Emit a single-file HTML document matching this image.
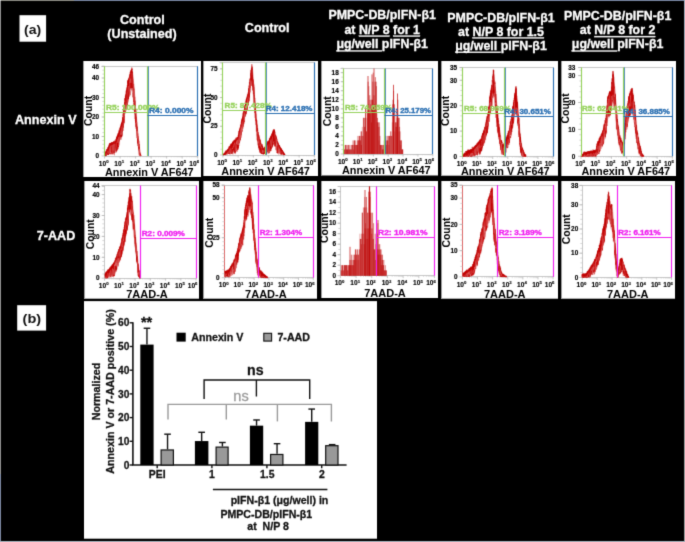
<!DOCTYPE html>
<html><head><meta charset="utf-8"><style>
html,body{margin:0;padding:0;background:#000;}
body{width:685px;height:542px;overflow:hidden;}
svg{display:block;} svg *{text-decoration-skip-ink:none !important;}
</style></head><body>
<svg xmlns="http://www.w3.org/2000/svg" width="685" height="542" viewBox="0 0 685 542">
<defs><filter id="soft" filterUnits="userSpaceOnUse" x="0" y="0" width="685" height="542" color-interpolation-filters="sRGB"><feConvolveMatrix order="3" kernelMatrix="1 6 1 6 36 6 1 6 1" divisor="64" edgeMode="duplicate"/></filter></defs>
<g filter="url(#soft)">
<rect x="0" y="0" width="685" height="542" fill="#000"/>
<rect x="0" y="0" width="685" height="1" fill="#7886a2"/>
<rect x="0" y="0" width="74" height="1" fill="#8c8c84"/>
<rect x="0" y="0" width="1" height="542" fill="#929292"/>
<rect x="0" y="474" width="1" height="68" fill="#7c88a2"/>
<rect x="684" y="0" width="1" height="542" fill="#a8b0bc"/>
<rect x="684" y="400" width="1" height="142" fill="#a4a4a4"/>
<rect x="0" y="541" width="685" height="1" fill="#b0b6c0"/>
<rect x="0" y="0" width="1" height="1" fill="#c8c8c8"/>
<text x="142.4" y="24" font-size="12.6" fill="#ffffff" stroke="#ffffff" stroke-width="0.3" text-anchor="middle" font-weight="bold" font-family="Liberation Sans, sans-serif" >Control</text>
<text x="142.0" y="38.4" font-size="12.6" fill="#ffffff" stroke="#ffffff" stroke-width="0.3" text-anchor="middle" font-weight="bold" font-family="Liberation Sans, sans-serif" >(Unstained)</text>
<text x="267.2" y="32" font-size="12.6" fill="#ffffff" stroke="#ffffff" stroke-width="0.3" text-anchor="middle" font-weight="bold" font-family="Liberation Sans, sans-serif" >Control</text>
<text x="382.2" y="19.4" font-size="12.4" fill="#ffffff" stroke="#ffffff" stroke-width="0.3" text-anchor="middle" font-weight="bold" font-family="Liberation Sans, sans-serif" >PMPC-DB/pIFN-β1</text>
<text x="382.2" y="33.9" font-size="12.4" fill="#ffffff" stroke="#ffffff" stroke-width="0.3" text-anchor="middle" font-weight="bold" font-family="Liberation Sans, sans-serif" >at N/P 8 for 1</text>
<rect x="358.88" y="35.55" width="30.79" height="1.1" fill="#ffffff" stroke="#ffffff" stroke-width="0.3"/>
<rect x="393.12" y="35.55" width="26.87" height="1.1" fill="#ffffff" stroke="#ffffff" stroke-width="0.3"/>
<text x="382.2" y="48.3" font-size="12.4" fill="#ffffff" stroke="#ffffff" stroke-width="0.3" text-anchor="middle" font-weight="bold" font-family="Liberation Sans, sans-serif" >μg/well pIFN-β1</text>
<rect x="336.39" y="50.35" width="45.48" height="1.1" fill="#ffffff" stroke="#ffffff" stroke-width="0.3"/>
<text x="501.0" y="21.6" font-size="12.4" fill="#ffffff" stroke="#ffffff" stroke-width="0.3" text-anchor="middle" font-weight="bold" font-family="Liberation Sans, sans-serif" >PMPC-DB/pIFN-β1</text>
<text x="501.0" y="35.7" font-size="12.4" fill="#ffffff" stroke="#ffffff" stroke-width="0.3" text-anchor="middle" font-weight="bold" font-family="Liberation Sans, sans-serif" >at N/P 8 for 1.5</text>
<rect x="472.51" y="37.35" width="71.45" height="1.1" fill="#ffffff" stroke="#ffffff" stroke-width="0.3"/>
<text x="501.0" y="49.7" font-size="12.4" fill="#ffffff" stroke="#ffffff" stroke-width="0.3" text-anchor="middle" font-weight="bold" font-family="Liberation Sans, sans-serif" >μg/well pIFN-β1</text>
<rect x="455.19" y="51.75" width="45.48" height="1.1" fill="#ffffff" stroke="#ffffff" stroke-width="0.3"/>
<text x="617.6" y="20.4" font-size="12.4" fill="#ffffff" stroke="#ffffff" stroke-width="0.3" text-anchor="middle" font-weight="bold" font-family="Liberation Sans, sans-serif" >PMPC-DB/pIFN-β1</text>
<text x="617.6" y="34.4" font-size="12.4" fill="#ffffff" stroke="#ffffff" stroke-width="0.3" text-anchor="middle" font-weight="bold" font-family="Liberation Sans, sans-serif" >at N/P 8 for 2</text>
<rect x="594.28" y="36.05" width="61.10" height="1.1" fill="#ffffff" stroke="#ffffff" stroke-width="0.3"/>
<text x="617.6" y="48.4" font-size="12.4" fill="#ffffff" stroke="#ffffff" stroke-width="0.3" text-anchor="middle" font-weight="bold" font-family="Liberation Sans, sans-serif" >μg/well pIFN-β1</text>
<rect x="571.79" y="50.45" width="45.48" height="1.1" fill="#ffffff" stroke="#ffffff" stroke-width="0.3"/>
<text x="45.8" y="123.7" font-size="12.6" fill="#ffffff" stroke="#ffffff" stroke-width="0.3" text-anchor="middle" font-weight="bold" font-family="Liberation Sans, sans-serif" >Annexin V</text>
<text x="56.0" y="240.4" font-size="12.6" fill="#ffffff" stroke="#ffffff" stroke-width="0.3" text-anchor="middle" font-weight="bold" font-family="Liberation Sans, sans-serif" >7-AAD</text>
<rect x="19.5" y="15.2" width="26.6" height="26.5" fill="#fff"/>
<text x="32.6" y="33.9" font-size="13.3" fill="#111" text-anchor="middle" font-weight="bold" font-family="Liberation Sans, sans-serif" textLength="17.2" lengthAdjust="spacingAndGlyphs">(a)</text>
<rect x="17.2" y="305.2" width="28.9" height="25.4" fill="#fff"/>
<text x="31.9" y="323.2" font-size="13.3" fill="#111" text-anchor="middle" font-weight="bold" font-family="Liberation Sans, sans-serif" textLength="18.6" lengthAdjust="spacingAndGlyphs">(b)</text>
<rect x="83" y="61" width="118" height="116" fill="#fff"/>
<rect x="83" y="61" width="1" height="116" fill="#a0a0a0"/>
<line x1="101.5" y1="66.5" x2="197.5" y2="66.5" stroke="#c8c8c8" stroke-width="1"/>
<line x1="104.5" y1="66.5" x2="104.5" y2="156.5" stroke="#c8c8c8" stroke-width="1"/>
<line x1="104.5" y1="156.5" x2="197.5" y2="156.5" stroke="#c8c8c8" stroke-width="1"/>
<line x1="197.5" y1="66.5" x2="197.5" y2="156.5" stroke="#c8c8c8" stroke-width="1"/>
<line x1="102.3" y1="152.10" x2="104.5" y2="152.10" stroke="#bdbdbd" stroke-width="0.6"/>
<line x1="102.3" y1="148.20" x2="104.5" y2="148.20" stroke="#bdbdbd" stroke-width="0.6"/>
<line x1="102.3" y1="144.30" x2="104.5" y2="144.30" stroke="#bdbdbd" stroke-width="0.6"/>
<line x1="102.3" y1="140.40" x2="104.5" y2="140.40" stroke="#bdbdbd" stroke-width="0.6"/>
<line x1="102.3" y1="136.50" x2="104.5" y2="136.50" stroke="#bdbdbd" stroke-width="0.6"/>
<line x1="102.3" y1="132.60" x2="104.5" y2="132.60" stroke="#bdbdbd" stroke-width="0.6"/>
<line x1="102.3" y1="128.70" x2="104.5" y2="128.70" stroke="#bdbdbd" stroke-width="0.6"/>
<line x1="102.3" y1="124.80" x2="104.5" y2="124.80" stroke="#bdbdbd" stroke-width="0.6"/>
<line x1="102.3" y1="120.90" x2="104.5" y2="120.90" stroke="#bdbdbd" stroke-width="0.6"/>
<line x1="102.3" y1="117.00" x2="104.5" y2="117.00" stroke="#bdbdbd" stroke-width="0.6"/>
<line x1="102.3" y1="113.10" x2="104.5" y2="113.10" stroke="#bdbdbd" stroke-width="0.6"/>
<line x1="102.3" y1="109.20" x2="104.5" y2="109.20" stroke="#bdbdbd" stroke-width="0.6"/>
<line x1="102.3" y1="105.30" x2="104.5" y2="105.30" stroke="#bdbdbd" stroke-width="0.6"/>
<line x1="102.3" y1="101.40" x2="104.5" y2="101.40" stroke="#bdbdbd" stroke-width="0.6"/>
<line x1="102.3" y1="97.50" x2="104.5" y2="97.50" stroke="#bdbdbd" stroke-width="0.6"/>
<line x1="102.3" y1="93.60" x2="104.5" y2="93.60" stroke="#bdbdbd" stroke-width="0.6"/>
<line x1="102.3" y1="89.70" x2="104.5" y2="89.70" stroke="#bdbdbd" stroke-width="0.6"/>
<line x1="102.3" y1="85.80" x2="104.5" y2="85.80" stroke="#bdbdbd" stroke-width="0.6"/>
<line x1="102.3" y1="81.90" x2="104.5" y2="81.90" stroke="#bdbdbd" stroke-width="0.6"/>
<line x1="102.3" y1="78.00" x2="104.5" y2="78.00" stroke="#bdbdbd" stroke-width="0.6"/>
<line x1="102.3" y1="74.10" x2="104.5" y2="74.10" stroke="#bdbdbd" stroke-width="0.6"/>
<line x1="102.3" y1="70.20" x2="104.5" y2="70.20" stroke="#bdbdbd" stroke-width="0.6"/>
<line x1="102.3" y1="66.30" x2="104.5" y2="66.30" stroke="#bdbdbd" stroke-width="0.6"/>
<line x1="101.6" y1="156.0" x2="104.6" y2="156.0" stroke="#b0b0b0" stroke-width="0.7"/>
<text x="99.1" y="158.20" font-size="6.4" fill="#000" text-anchor="end" font-weight="bold" font-family="Liberation Sans, sans-serif" stroke="#000" stroke-width="0.15">0</text>
<line x1="101.6" y1="136.5" x2="104.6" y2="136.5" stroke="#b0b0b0" stroke-width="0.7"/>
<text x="99.1" y="138.70" font-size="6.4" fill="#000" text-anchor="end" font-weight="bold" font-family="Liberation Sans, sans-serif" stroke="#000" stroke-width="0.15">10</text>
<line x1="101.6" y1="117.0" x2="104.6" y2="117.0" stroke="#b0b0b0" stroke-width="0.7"/>
<text x="99.1" y="119.20" font-size="6.4" fill="#000" text-anchor="end" font-weight="bold" font-family="Liberation Sans, sans-serif" stroke="#000" stroke-width="0.15">20</text>
<line x1="101.6" y1="97.5" x2="104.6" y2="97.5" stroke="#b0b0b0" stroke-width="0.7"/>
<text x="99.1" y="99.70" font-size="6.4" fill="#000" text-anchor="end" font-weight="bold" font-family="Liberation Sans, sans-serif" stroke="#000" stroke-width="0.15">30</text>
<line x1="101.6" y1="78.0" x2="104.6" y2="78.0" stroke="#b0b0b0" stroke-width="0.7"/>
<text x="99.1" y="80.20" font-size="6.4" fill="#000" text-anchor="end" font-weight="bold" font-family="Liberation Sans, sans-serif" stroke="#000" stroke-width="0.15">40</text>
<line x1="101.6" y1="66.3" x2="104.6" y2="66.3" stroke="#b0b0b0" stroke-width="0.7"/>
<text x="99.1" y="68.50" font-size="6.4" fill="#000" text-anchor="end" font-weight="bold" font-family="Liberation Sans, sans-serif" stroke="#000" stroke-width="0.15">46</text>
<line x1="104.60" y1="156.0" x2="104.60" y2="158.5" stroke="#b0b0b0" stroke-width="0.7"/>
<line x1="109.27" y1="156.0" x2="109.27" y2="157.3" stroke="#c0c0c0" stroke-width="0.5"/>
<line x1="112.00" y1="156.0" x2="112.00" y2="157.3" stroke="#c0c0c0" stroke-width="0.5"/>
<line x1="113.94" y1="156.0" x2="113.94" y2="157.3" stroke="#c0c0c0" stroke-width="0.5"/>
<line x1="115.45" y1="156.0" x2="115.45" y2="157.3" stroke="#c0c0c0" stroke-width="0.5"/>
<line x1="116.67" y1="156.0" x2="116.67" y2="157.3" stroke="#c0c0c0" stroke-width="0.5"/>
<line x1="117.71" y1="156.0" x2="117.71" y2="157.3" stroke="#c0c0c0" stroke-width="0.5"/>
<line x1="118.61" y1="156.0" x2="118.61" y2="157.3" stroke="#c0c0c0" stroke-width="0.5"/>
<line x1="119.41" y1="156.0" x2="119.41" y2="157.3" stroke="#c0c0c0" stroke-width="0.5"/>
<text x="103.70" y="165.60" font-size="6.6" font-weight="bold" fill="#000" stroke="#000" stroke-width="0.12" text-anchor="middle" font-family="Liberation Sans, sans-serif">10<tspan dy="-2.5" font-size="4.3">0</tspan></text>
<line x1="120.12" y1="156.0" x2="120.12" y2="158.5" stroke="#b0b0b0" stroke-width="0.7"/>
<line x1="124.79" y1="156.0" x2="124.79" y2="157.3" stroke="#c0c0c0" stroke-width="0.5"/>
<line x1="127.52" y1="156.0" x2="127.52" y2="157.3" stroke="#c0c0c0" stroke-width="0.5"/>
<line x1="129.46" y1="156.0" x2="129.46" y2="157.3" stroke="#c0c0c0" stroke-width="0.5"/>
<line x1="130.96" y1="156.0" x2="130.96" y2="157.3" stroke="#c0c0c0" stroke-width="0.5"/>
<line x1="132.19" y1="156.0" x2="132.19" y2="157.3" stroke="#c0c0c0" stroke-width="0.5"/>
<line x1="133.23" y1="156.0" x2="133.23" y2="157.3" stroke="#c0c0c0" stroke-width="0.5"/>
<line x1="134.13" y1="156.0" x2="134.13" y2="157.3" stroke="#c0c0c0" stroke-width="0.5"/>
<line x1="134.92" y1="156.0" x2="134.92" y2="157.3" stroke="#c0c0c0" stroke-width="0.5"/>
<text x="119.22" y="165.60" font-size="6.6" font-weight="bold" fill="#000" stroke="#000" stroke-width="0.12" text-anchor="middle" font-family="Liberation Sans, sans-serif">10<tspan dy="-2.5" font-size="4.3">1</tspan></text>
<line x1="135.63" y1="156.0" x2="135.63" y2="158.5" stroke="#b0b0b0" stroke-width="0.7"/>
<line x1="140.30" y1="156.0" x2="140.30" y2="157.3" stroke="#c0c0c0" stroke-width="0.5"/>
<line x1="143.04" y1="156.0" x2="143.04" y2="157.3" stroke="#c0c0c0" stroke-width="0.5"/>
<line x1="144.98" y1="156.0" x2="144.98" y2="157.3" stroke="#c0c0c0" stroke-width="0.5"/>
<line x1="146.48" y1="156.0" x2="146.48" y2="157.3" stroke="#c0c0c0" stroke-width="0.5"/>
<line x1="147.71" y1="156.0" x2="147.71" y2="157.3" stroke="#c0c0c0" stroke-width="0.5"/>
<line x1="148.75" y1="156.0" x2="148.75" y2="157.3" stroke="#c0c0c0" stroke-width="0.5"/>
<line x1="149.65" y1="156.0" x2="149.65" y2="157.3" stroke="#c0c0c0" stroke-width="0.5"/>
<line x1="150.44" y1="156.0" x2="150.44" y2="157.3" stroke="#c0c0c0" stroke-width="0.5"/>
<text x="134.73" y="165.60" font-size="6.6" font-weight="bold" fill="#000" stroke="#000" stroke-width="0.12" text-anchor="middle" font-family="Liberation Sans, sans-serif">10<tspan dy="-2.5" font-size="4.3">2</tspan></text>
<line x1="151.15" y1="156.0" x2="151.15" y2="158.5" stroke="#b0b0b0" stroke-width="0.7"/>
<line x1="155.82" y1="156.0" x2="155.82" y2="157.3" stroke="#c0c0c0" stroke-width="0.5"/>
<line x1="158.55" y1="156.0" x2="158.55" y2="157.3" stroke="#c0c0c0" stroke-width="0.5"/>
<line x1="160.49" y1="156.0" x2="160.49" y2="157.3" stroke="#c0c0c0" stroke-width="0.5"/>
<line x1="162.00" y1="156.0" x2="162.00" y2="157.3" stroke="#c0c0c0" stroke-width="0.5"/>
<line x1="163.22" y1="156.0" x2="163.22" y2="157.3" stroke="#c0c0c0" stroke-width="0.5"/>
<line x1="164.26" y1="156.0" x2="164.26" y2="157.3" stroke="#c0c0c0" stroke-width="0.5"/>
<line x1="165.16" y1="156.0" x2="165.16" y2="157.3" stroke="#c0c0c0" stroke-width="0.5"/>
<line x1="165.96" y1="156.0" x2="165.96" y2="157.3" stroke="#c0c0c0" stroke-width="0.5"/>
<text x="150.25" y="165.60" font-size="6.6" font-weight="bold" fill="#000" stroke="#000" stroke-width="0.12" text-anchor="middle" font-family="Liberation Sans, sans-serif">10<tspan dy="-2.5" font-size="4.3">3</tspan></text>
<line x1="166.67" y1="156.0" x2="166.67" y2="158.5" stroke="#b0b0b0" stroke-width="0.7"/>
<line x1="171.34" y1="156.0" x2="171.34" y2="157.3" stroke="#c0c0c0" stroke-width="0.5"/>
<line x1="174.07" y1="156.0" x2="174.07" y2="157.3" stroke="#c0c0c0" stroke-width="0.5"/>
<line x1="176.01" y1="156.0" x2="176.01" y2="157.3" stroke="#c0c0c0" stroke-width="0.5"/>
<line x1="177.51" y1="156.0" x2="177.51" y2="157.3" stroke="#c0c0c0" stroke-width="0.5"/>
<line x1="178.74" y1="156.0" x2="178.74" y2="157.3" stroke="#c0c0c0" stroke-width="0.5"/>
<line x1="179.78" y1="156.0" x2="179.78" y2="157.3" stroke="#c0c0c0" stroke-width="0.5"/>
<line x1="180.68" y1="156.0" x2="180.68" y2="157.3" stroke="#c0c0c0" stroke-width="0.5"/>
<line x1="181.47" y1="156.0" x2="181.47" y2="157.3" stroke="#c0c0c0" stroke-width="0.5"/>
<text x="165.77" y="165.60" font-size="6.6" font-weight="bold" fill="#000" stroke="#000" stroke-width="0.12" text-anchor="middle" font-family="Liberation Sans, sans-serif">10<tspan dy="-2.5" font-size="4.3">4</tspan></text>
<line x1="182.18" y1="156.0" x2="182.18" y2="158.5" stroke="#b0b0b0" stroke-width="0.7"/>
<line x1="186.85" y1="156.0" x2="186.85" y2="157.3" stroke="#c0c0c0" stroke-width="0.5"/>
<line x1="189.59" y1="156.0" x2="189.59" y2="157.3" stroke="#c0c0c0" stroke-width="0.5"/>
<line x1="191.53" y1="156.0" x2="191.53" y2="157.3" stroke="#c0c0c0" stroke-width="0.5"/>
<line x1="193.03" y1="156.0" x2="193.03" y2="157.3" stroke="#c0c0c0" stroke-width="0.5"/>
<line x1="194.26" y1="156.0" x2="194.26" y2="157.3" stroke="#c0c0c0" stroke-width="0.5"/>
<line x1="195.30" y1="156.0" x2="195.30" y2="157.3" stroke="#c0c0c0" stroke-width="0.5"/>
<line x1="196.20" y1="156.0" x2="196.20" y2="157.3" stroke="#c0c0c0" stroke-width="0.5"/>
<line x1="196.99" y1="156.0" x2="196.99" y2="157.3" stroke="#c0c0c0" stroke-width="0.5"/>
<text x="181.28" y="165.60" font-size="6.6" font-weight="bold" fill="#000" stroke="#000" stroke-width="0.12" text-anchor="middle" font-family="Liberation Sans, sans-serif">10<tspan dy="-2.5" font-size="4.3">5</tspan></text>
<line x1="197.70" y1="156.0" x2="197.70" y2="158.5" stroke="#b0b0b0" stroke-width="0.7"/>
<text x="194.20" y="165.60" font-size="6.6" font-weight="bold" fill="#000" stroke="#000" stroke-width="0.12" text-anchor="middle" font-family="Liberation Sans, sans-serif">10<tspan dy="-2.5" font-size="4.3">6</tspan></text>
<polygon points="105.00,153.08 105.40,152.37 105.80,151.75 106.20,150.68 106.60,150.24 107.00,149.11 107.40,148.98 107.80,147.82 108.20,147.49 108.60,146.79 109.00,145.19 109.40,144.23 109.80,143.61 110.20,143.20 110.60,143.16 111.00,143.48 111.40,142.69 111.80,142.36 112.20,142.46 112.60,142.69 113.00,142.42 113.40,141.83 113.80,141.52 114.20,142.36 114.60,141.25 115.00,141.66 115.40,141.33 115.80,139.87 116.20,139.48 116.60,137.59 117.00,136.88 117.40,135.94 117.80,135.33 118.20,133.85 118.60,133.43 119.00,131.11 119.40,131.35 119.80,130.66 120.20,128.17 120.60,126.81 121.00,124.92 121.40,123.85 121.80,122.70 122.20,120.55 122.60,117.83 123.00,114.28 123.40,111.48 123.80,109.43 124.20,105.78 124.60,103.02 125.00,98.39 125.40,96.39 125.80,94.02 126.20,91.32 126.60,89.53 127.00,87.24 127.40,85.44 127.80,81.38 128.20,81.25 128.60,79.39 129.00,77.72 129.40,76.16 129.80,74.41 130.20,72.78 130.60,71.48 131.00,70.28 131.40,69.64 131.80,68.01 132.20,69.02 132.60,72.73 133.00,76.47 133.40,80.33 133.80,85.10 134.20,88.51 134.60,94.13 135.00,99.78 135.40,107.15 135.80,110.18 136.20,114.88 136.60,119.01 137.00,124.17 137.40,128.59 137.80,132.61 138.20,137.12 138.60,139.70 139.00,143.44 139.40,147.17 139.80,150.80 140.20,152.86 140.60,154.69 141.00,156.00 141.00,156.00 140.60,156.00 140.20,156.00 139.80,156.00 139.40,155.63 139.00,155.96 138.60,154.56 138.20,150.77 137.80,145.36 137.40,140.08 137.00,135.47 136.60,136.52 136.20,130.11 135.80,123.37 135.40,121.58 135.00,114.12 134.60,114.91 134.20,104.13 133.80,99.89 133.40,104.75 133.00,100.20 132.60,92.18 132.20,87.88 131.80,92.88 131.40,85.79 131.00,88.22 130.60,87.99 130.20,90.75 129.80,92.39 129.40,97.58 129.00,93.82 128.60,101.42 128.20,103.27 127.80,97.46 127.40,105.13 127.00,107.31 126.60,111.61 126.20,109.10 125.80,107.74 125.40,113.78 125.00,113.82 124.60,115.91 124.20,124.74 123.80,123.30 123.40,124.98 123.00,131.79 122.60,132.08 122.20,136.67 121.80,135.42 121.40,138.71 121.00,135.45 120.60,139.03 120.20,137.67 119.80,140.46 119.40,144.89 119.00,145.41 118.60,142.86 118.20,149.33 117.80,149.80 117.40,149.28 117.00,150.81 116.60,151.02 116.20,153.09 115.80,152.39 115.40,150.98 115.00,151.12 114.60,155.81 114.20,155.26 113.80,153.44 113.40,154.38 113.00,154.90 112.60,153.86 112.20,152.52 111.80,152.03 111.40,151.36 111.00,152.95 110.60,154.28 110.20,155.15 109.80,152.88 109.40,153.04 109.00,155.59 108.60,153.93 108.20,154.78 107.80,153.85 107.40,154.06 107.00,154.49 106.60,154.94 106.20,156.00 105.80,155.88 105.40,156.00 105.00,156.00" fill="#bf0000" fill-opacity="0.62"/>
<polyline points="105.00,155.47 105.30,156.00 105.60,156.00 105.90,155.01 106.07,151.20 106.23,153.55 106.48,155.67 106.76,154.48 107.00,153.76 107.15,154.87 107.44,152.92 107.71,153.18 107.87,152.39 108.06,154.53 108.36,147.69 108.57,155.03 108.83,145.63 108.98,148.97 109.27,151.36 109.43,154.03 109.73,148.46 109.93,151.83 110.08,142.97 110.39,152.50 110.61,153.27 110.82,154.00 111.10,143.11 111.27,149.14 111.45,146.67 111.62,150.38 111.78,152.60 111.97,150.69 112.21,152.42 112.41,154.17 112.63,145.55 112.86,143.61 113.07,142.21 113.20,153.29 113.36,144.57 113.62,151.31 113.81,145.01 114.04,153.09 114.19,145.49 114.37,148.27 114.64,144.61 114.87,152.83 115.16,143.35 115.40,150.27 115.62,146.64 115.83,149.86 116.05,151.67 116.30,151.81 116.60,138.26 116.83,151.10 117.11,136.35 117.27,145.55 117.41,136.23 117.56,147.15 117.83,146.32 117.98,146.56 118.23,133.58 118.52,146.95 118.69,145.29 118.89,141.56 119.20,140.54 119.36,139.51 119.58,130.80 119.75,136.93 120.01,127.78 120.24,136.89 120.37,128.27 120.61,136.49 120.76,139.81 121.03,139.28 121.18,125.20 121.32,137.03 121.50,123.41 121.70,137.17 121.98,122.70 122.14,135.64 122.37,126.61 122.52,121.45 122.77,118.57 122.92,130.87 123.16,123.65 123.31,127.61 123.45,123.45 123.66,119.08 123.89,122.56 124.07,112.03 124.30,104.62 124.45,110.07 124.59,102.04 124.77,110.63 125.04,99.44 125.26,104.96 125.45,95.29 125.63,96.77 125.89,98.98 126.06,106.11 126.35,90.13 126.63,102.36 126.85,102.03 127.05,101.28 127.30,105.52 127.49,103.35 127.75,90.60 127.95,93.65 128.10,80.06 128.24,98.84 128.42,79.21 128.56,99.18 128.85,87.53 129.03,87.95 129.21,80.82 129.37,90.97 129.55,96.46 129.85,91.19 130.03,95.23 130.22,86.71 130.35,75.54 130.56,88.31 130.73,76.90 130.86,82.70 131.01,73.69 131.15,72.99 131.34,70.05 131.57,85.68 131.84,77.65 132.09,90.33 132.29,71.88 132.60,81.41 132.86,84.38 133.00,97.27 133.29,87.75 133.55,101.53 133.71,88.83 133.93,104.91 134.20,102.89 134.44,111.22 134.69,104.62 134.86,100.65 135.02,101.77 135.17,118.97 135.40,111.78 135.64,122.70 135.86,110.56 136.13,128.69 136.35,121.02 136.60,123.06 136.86,122.72 137.00,131.11 137.26,126.72 137.53,143.53 137.75,133.43 137.96,145.83 138.23,141.69 138.47,142.39 138.63,140.63 138.89,149.04 139.13,144.14 139.27,150.50 139.52,151.53 139.77,153.70 139.99,153.21 140.21,154.65 140.50,154.16 140.80,156.00 140.94,156.00" fill="none" stroke="#b80000" stroke-width="0.5" stroke-opacity="0.95"/>
<polyline points="105.00,156.00 105.29,155.30 105.52,156.00 105.75,156.00 105.96,152.83 106.37,152.74 106.75,151.37 107.14,155.08 107.38,154.53 107.67,148.92 107.85,149.28 108.14,151.49 108.36,147.36 108.61,154.48 108.79,150.94 109.17,148.27 109.58,149.51 109.97,149.41 110.24,144.75 110.66,152.00 110.93,144.86 111.17,145.22 111.38,151.03 111.63,154.35 111.87,143.13 112.17,147.62 112.44,153.62 112.83,153.41 113.16,152.52 113.57,151.25 113.92,141.46 114.28,150.22 114.64,146.72 114.89,144.04 115.29,140.55 115.58,148.26 115.83,147.14 116.25,145.64 116.59,138.64 116.90,145.86 117.12,136.44 117.35,149.61 117.65,135.54 118.05,148.63 118.33,133.25 118.56,136.72 118.82,131.57 119.06,138.24 119.38,141.38 119.74,138.13 120.02,131.82 120.29,135.52 120.48,127.45 120.89,130.28 121.19,130.04 121.58,129.99 121.83,123.09 122.10,131.29 122.51,129.38 122.90,117.02 123.09,121.74 123.48,122.22 123.80,107.41 124.08,123.26 124.46,116.35 124.87,108.88 125.08,98.02 125.38,112.49 125.79,104.06 126.12,109.65 126.41,96.00 126.60,107.38 126.84,105.32 127.17,97.08 127.38,85.11 127.72,100.48 127.92,80.58 128.23,96.65 128.50,79.45 128.83,79.58 129.08,81.29 129.49,93.78 129.88,78.99 130.12,84.64 130.53,83.34 130.78,74.16 131.08,80.59 131.36,80.97 131.70,88.43 131.94,71.25 132.20,72.68 132.54,82.27 132.91,87.95 133.21,88.45 133.63,84.13 134.00,96.07 134.24,101.08 134.49,112.47 134.79,96.82 135.02,112.01 135.36,120.91 135.57,118.32 135.81,126.83 136.02,116.66 136.21,117.42 136.61,134.17 136.97,138.07 137.37,135.71 137.59,142.60 137.95,136.14 138.29,138.75 138.56,147.58 138.78,141.04 139.03,150.16 139.44,147.08 139.85,153.67 140.12,156.00 140.49,156.00 140.69,155.55 140.95,156.00" fill="none" stroke="#c80000" stroke-width="0.45" stroke-opacity="0.9"/>
<polyline points="105.00,153.68 105.66,152.73 106.12,155.08 106.73,150.99 107.04,148.94 107.71,151.68 108.31,153.63 108.75,150.58 109.43,148.28 109.83,153.12 110.26,143.80 110.56,153.24 111.23,147.44 111.91,144.18 112.30,144.93 112.98,154.37 113.44,142.45 113.91,150.69 114.58,141.62 115.20,152.52 115.83,147.90 116.37,146.27 116.80,138.74 117.41,139.53 117.79,142.87 118.19,137.17 118.51,136.95 118.94,145.75 119.59,143.52 120.00,132.11 120.33,130.44 120.92,134.85 121.31,126.35 121.86,134.72 122.46,129.68 123.02,119.52 123.66,110.10 124.19,115.91 124.78,100.49 125.18,106.88 125.54,110.75 126.07,103.54 126.53,109.89 127.04,96.30 127.66,91.61 128.36,86.12 128.85,92.66 129.48,97.40 129.80,75.97 130.15,83.09 130.83,78.61 131.51,83.03 132.15,72.87 132.56,92.84 133.24,78.49 133.77,100.85 134.16,90.60 134.52,101.89 134.92,105.08 135.48,113.90 135.78,111.51 136.36,123.48 136.78,121.54 137.40,138.49 137.72,131.19 138.18,146.62 138.74,140.76 139.10,153.15 139.57,148.74 139.99,156.00 140.42,155.15 140.86,156.00" fill="none" stroke="#f0b0b0" stroke-width="0.4" stroke-opacity="0.55"/>
<polyline points="105.00,152.99 105.20,155.08 105.40,151.80 105.60,154.37 105.80,151.73 106.00,153.75 106.20,150.37 106.40,152.68 106.60,149.32 106.80,152.24 107.00,149.09 107.20,151.11 107.40,148.92 107.60,150.98 107.80,147.31 108.00,149.82 108.20,147.13 108.40,149.49 108.60,146.53 108.80,148.79 109.00,144.63 109.20,147.19 109.40,143.74 109.60,146.23 109.80,143.17 110.00,145.61 110.20,143.15 110.40,145.20 110.60,143.07 110.80,145.16 111.00,142.66 111.20,145.48 111.40,142.42 111.60,144.69 111.80,142.14 112.00,144.36 112.20,142.32 112.40,144.46 112.60,142.28 112.80,144.69 113.00,142.02 113.20,144.42 113.40,141.49 113.60,143.83 113.80,141.51 114.00,143.52 114.20,142.21 114.40,144.36 114.60,140.53 114.80,143.25 115.00,141.41 115.20,143.66 115.40,141.20 115.60,143.33 115.80,138.79 116.00,141.87 116.20,139.41 116.40,141.48 116.60,137.20 116.80,139.59 117.00,136.80 117.20,138.88 117.40,134.94 117.60,137.94 117.80,134.30 118.00,137.33 118.20,133.17 118.40,135.85 118.60,133.33 118.80,135.43 119.00,129.82 119.20,133.11 119.40,130.90 119.60,133.35 119.80,129.67 120.00,132.66 120.20,127.33 120.40,130.17 120.60,125.99 120.80,128.81 121.00,124.15 121.20,126.92 121.40,123.29 121.60,125.85 121.80,121.81 122.00,124.70 122.20,120.44 122.40,122.55 122.60,117.23 122.80,119.83 123.00,113.64 123.20,116.28 123.40,110.56 123.60,113.48 123.80,109.26 124.00,111.43 124.20,105.39 124.40,107.78 124.60,102.44 124.80,105.02 125.00,97.96 125.20,100.39 125.40,96.16 125.60,98.39 125.80,93.82 126.00,96.02 126.20,91.31 126.40,93.32 126.60,88.57 126.80,91.53 127.00,87.10 127.20,89.24 127.40,85.33 127.60,87.44 127.80,80.45 128.00,83.38 128.20,80.86 128.40,83.25 128.60,78.28 128.80,81.39 129.00,77.45 129.20,79.72 129.40,75.56 129.60,78.16 129.80,73.87 130.00,76.41 130.20,71.98 130.40,74.78 130.60,71.22 130.80,73.48 131.00,70.06 131.20,72.28 131.40,69.05 131.60,71.64 131.80,67.46 132.00,70.01 132.20,68.71 132.40,71.02 132.60,72.38 132.80,74.73 133.00,75.92 133.20,78.47 133.40,80.21 133.60,82.33 133.80,85.05 134.00,87.10 134.20,88.00 134.40,90.51 134.60,93.66 134.80,96.13 135.00,99.68 135.20,101.78 135.40,106.13 135.60,109.15 135.80,110.06 136.00,112.18 136.20,114.23 136.40,116.88 136.60,118.72 136.80,121.01 137.00,123.55 137.20,126.17 137.40,128.34 137.60,130.59 137.80,132.41 138.00,134.61 138.20,136.89 138.40,139.12 138.60,139.59 138.80,141.70 139.00,142.77 139.20,145.44 139.40,146.92 139.60,149.17 139.80,149.97 140.00,152.80 140.20,152.64 140.40,154.86 140.60,153.84 140.80,156.00 141.00,155.52 141.20,156.00" fill="none" stroke="#bf0000" stroke-width="0.45" stroke-opacity="0.85"/>
<polygon points="131.10,87.90 132.00,66.50 132.90,87.90" fill="#bf0000" fill-opacity="0.9"/>
<line x1="104.5" y1="66.3" x2="104.5" y2="156.0" stroke="#96d25c" stroke-width="1.15"/>
<line x1="104.5" y1="112.5" x2="147.5" y2="112.5" stroke="#96d25c" stroke-width="1.15"/>
<line x1="148.4" y1="66.3" x2="148.4" y2="156.0" stroke="#2a6fb2" stroke-width="0.9"/>
<line x1="147.5" y1="66.3" x2="147.5" y2="156.0" stroke="#96d25c" stroke-width="1.15"/>
<line x1="197.5" y1="66.3" x2="197.5" y2="156.0" stroke="#2a6fb2" stroke-width="1.15"/>
<line x1="147.5" y1="115.5" x2="197.5" y2="115.5" stroke="#2a6fb2" stroke-width="1.15"/>
<text x="106.0" y="110.2" font-size="7.0" fill="#96d25c" stroke="#96d25c" stroke-width="0.35" font-weight="bold" font-family="Liberation Sans, sans-serif" textLength="53.5" lengthAdjust="spacingAndGlyphs">R5: 100.000%</text>
<text x="149.0" y="113.3" font-size="7.0" fill="#2a6fb2" stroke="#2a6fb2" stroke-width="0.35" font-weight="bold" font-family="Liberation Sans, sans-serif" textLength="44.5" lengthAdjust="spacingAndGlyphs">R4: 0.000%</text>
<text x="0" y="0" font-size="10.4" font-weight="bold" text-anchor="middle" fill="#000" font-family="Liberation Sans, sans-serif" transform="translate(92.3,110.9) rotate(-90)">Count</text>
<text x="105" y="176.4" font-size="10.9" fill="#000" text-anchor="start" font-weight="bold" font-family="Liberation Sans, sans-serif" >Annexin V AF647</text>
<rect x="203" y="61" width="115" height="115" fill="#fff"/>
<rect x="203" y="61" width="1" height="115" fill="#a0a0a0"/>
<line x1="219.5" y1="62.5" x2="314.5" y2="62.5" stroke="#c8c8c8" stroke-width="1"/>
<line x1="222.5" y1="62.5" x2="222.5" y2="155.5" stroke="#c8c8c8" stroke-width="1"/>
<line x1="222.5" y1="155.5" x2="314.5" y2="155.5" stroke="#c8c8c8" stroke-width="1"/>
<line x1="314.5" y1="62.5" x2="314.5" y2="155.5" stroke="#c8c8c8" stroke-width="1"/>
<line x1="220.3" y1="149.25" x2="222.5" y2="149.25" stroke="#bdbdbd" stroke-width="0.6"/>
<line x1="220.3" y1="143.51" x2="222.5" y2="143.51" stroke="#bdbdbd" stroke-width="0.6"/>
<line x1="220.3" y1="137.76" x2="222.5" y2="137.76" stroke="#bdbdbd" stroke-width="0.6"/>
<line x1="220.3" y1="132.02" x2="222.5" y2="132.02" stroke="#bdbdbd" stroke-width="0.6"/>
<line x1="220.3" y1="126.28" x2="222.5" y2="126.28" stroke="#bdbdbd" stroke-width="0.6"/>
<line x1="220.3" y1="120.53" x2="222.5" y2="120.53" stroke="#bdbdbd" stroke-width="0.6"/>
<line x1="220.3" y1="114.78" x2="222.5" y2="114.78" stroke="#bdbdbd" stroke-width="0.6"/>
<line x1="220.3" y1="109.04" x2="222.5" y2="109.04" stroke="#bdbdbd" stroke-width="0.6"/>
<line x1="220.3" y1="103.30" x2="222.5" y2="103.30" stroke="#bdbdbd" stroke-width="0.6"/>
<line x1="220.3" y1="97.55" x2="222.5" y2="97.55" stroke="#bdbdbd" stroke-width="0.6"/>
<line x1="220.3" y1="91.81" x2="222.5" y2="91.81" stroke="#bdbdbd" stroke-width="0.6"/>
<line x1="220.3" y1="86.06" x2="222.5" y2="86.06" stroke="#bdbdbd" stroke-width="0.6"/>
<line x1="220.3" y1="80.31" x2="222.5" y2="80.31" stroke="#bdbdbd" stroke-width="0.6"/>
<line x1="220.3" y1="74.57" x2="222.5" y2="74.57" stroke="#bdbdbd" stroke-width="0.6"/>
<line x1="220.3" y1="68.83" x2="222.5" y2="68.83" stroke="#bdbdbd" stroke-width="0.6"/>
<line x1="220.3" y1="63.08" x2="222.5" y2="63.08" stroke="#bdbdbd" stroke-width="0.6"/>
<line x1="219.9" y1="155.0" x2="222.9" y2="155.0" stroke="#b0b0b0" stroke-width="0.7"/>
<text x="217.6" y="157.20" font-size="6.4" fill="#000" text-anchor="end" font-weight="bold" font-family="Liberation Sans, sans-serif" stroke="#000" stroke-width="0.15">0</text>
<line x1="219.9" y1="126.26666666666667" x2="222.9" y2="126.26666666666667" stroke="#b0b0b0" stroke-width="0.7"/>
<text x="217.6" y="128.47" font-size="6.4" fill="#000" text-anchor="end" font-weight="bold" font-family="Liberation Sans, sans-serif" stroke="#000" stroke-width="0.15">25</text>
<line x1="219.9" y1="97.53333333333333" x2="222.9" y2="97.53333333333333" stroke="#b0b0b0" stroke-width="0.7"/>
<text x="217.6" y="99.73" font-size="6.4" fill="#000" text-anchor="end" font-weight="bold" font-family="Liberation Sans, sans-serif" stroke="#000" stroke-width="0.15">50</text>
<line x1="219.9" y1="68.8" x2="222.9" y2="68.8" stroke="#b0b0b0" stroke-width="0.7"/>
<text x="217.6" y="71.00" font-size="6.4" fill="#000" text-anchor="end" font-weight="bold" font-family="Liberation Sans, sans-serif" stroke="#000" stroke-width="0.15">75</text>
<line x1="222.90" y1="155.0" x2="222.90" y2="157.5" stroke="#b0b0b0" stroke-width="0.7"/>
<line x1="227.49" y1="155.0" x2="227.49" y2="156.3" stroke="#c0c0c0" stroke-width="0.5"/>
<line x1="230.18" y1="155.0" x2="230.18" y2="156.3" stroke="#c0c0c0" stroke-width="0.5"/>
<line x1="232.08" y1="155.0" x2="232.08" y2="156.3" stroke="#c0c0c0" stroke-width="0.5"/>
<line x1="233.56" y1="155.0" x2="233.56" y2="156.3" stroke="#c0c0c0" stroke-width="0.5"/>
<line x1="234.77" y1="155.0" x2="234.77" y2="156.3" stroke="#c0c0c0" stroke-width="0.5"/>
<line x1="235.79" y1="155.0" x2="235.79" y2="156.3" stroke="#c0c0c0" stroke-width="0.5"/>
<line x1="236.67" y1="155.0" x2="236.67" y2="156.3" stroke="#c0c0c0" stroke-width="0.5"/>
<line x1="237.45" y1="155.0" x2="237.45" y2="156.3" stroke="#c0c0c0" stroke-width="0.5"/>
<text x="222.00" y="164.60" font-size="6.6" font-weight="bold" fill="#000" stroke="#000" stroke-width="0.12" text-anchor="middle" font-family="Liberation Sans, sans-serif">10<tspan dy="-2.5" font-size="4.3">0</tspan></text>
<line x1="238.15" y1="155.0" x2="238.15" y2="157.5" stroke="#b0b0b0" stroke-width="0.7"/>
<line x1="242.74" y1="155.0" x2="242.74" y2="156.3" stroke="#c0c0c0" stroke-width="0.5"/>
<line x1="245.43" y1="155.0" x2="245.43" y2="156.3" stroke="#c0c0c0" stroke-width="0.5"/>
<line x1="247.33" y1="155.0" x2="247.33" y2="156.3" stroke="#c0c0c0" stroke-width="0.5"/>
<line x1="248.81" y1="155.0" x2="248.81" y2="156.3" stroke="#c0c0c0" stroke-width="0.5"/>
<line x1="250.02" y1="155.0" x2="250.02" y2="156.3" stroke="#c0c0c0" stroke-width="0.5"/>
<line x1="251.04" y1="155.0" x2="251.04" y2="156.3" stroke="#c0c0c0" stroke-width="0.5"/>
<line x1="251.92" y1="155.0" x2="251.92" y2="156.3" stroke="#c0c0c0" stroke-width="0.5"/>
<line x1="252.70" y1="155.0" x2="252.70" y2="156.3" stroke="#c0c0c0" stroke-width="0.5"/>
<text x="237.25" y="164.60" font-size="6.6" font-weight="bold" fill="#000" stroke="#000" stroke-width="0.12" text-anchor="middle" font-family="Liberation Sans, sans-serif">10<tspan dy="-2.5" font-size="4.3">1</tspan></text>
<line x1="253.40" y1="155.0" x2="253.40" y2="157.5" stroke="#b0b0b0" stroke-width="0.7"/>
<line x1="257.99" y1="155.0" x2="257.99" y2="156.3" stroke="#c0c0c0" stroke-width="0.5"/>
<line x1="260.68" y1="155.0" x2="260.68" y2="156.3" stroke="#c0c0c0" stroke-width="0.5"/>
<line x1="262.58" y1="155.0" x2="262.58" y2="156.3" stroke="#c0c0c0" stroke-width="0.5"/>
<line x1="264.06" y1="155.0" x2="264.06" y2="156.3" stroke="#c0c0c0" stroke-width="0.5"/>
<line x1="265.27" y1="155.0" x2="265.27" y2="156.3" stroke="#c0c0c0" stroke-width="0.5"/>
<line x1="266.29" y1="155.0" x2="266.29" y2="156.3" stroke="#c0c0c0" stroke-width="0.5"/>
<line x1="267.17" y1="155.0" x2="267.17" y2="156.3" stroke="#c0c0c0" stroke-width="0.5"/>
<line x1="267.95" y1="155.0" x2="267.95" y2="156.3" stroke="#c0c0c0" stroke-width="0.5"/>
<text x="252.50" y="164.60" font-size="6.6" font-weight="bold" fill="#000" stroke="#000" stroke-width="0.12" text-anchor="middle" font-family="Liberation Sans, sans-serif">10<tspan dy="-2.5" font-size="4.3">2</tspan></text>
<line x1="268.65" y1="155.0" x2="268.65" y2="157.5" stroke="#b0b0b0" stroke-width="0.7"/>
<line x1="273.24" y1="155.0" x2="273.24" y2="156.3" stroke="#c0c0c0" stroke-width="0.5"/>
<line x1="275.93" y1="155.0" x2="275.93" y2="156.3" stroke="#c0c0c0" stroke-width="0.5"/>
<line x1="277.83" y1="155.0" x2="277.83" y2="156.3" stroke="#c0c0c0" stroke-width="0.5"/>
<line x1="279.31" y1="155.0" x2="279.31" y2="156.3" stroke="#c0c0c0" stroke-width="0.5"/>
<line x1="280.52" y1="155.0" x2="280.52" y2="156.3" stroke="#c0c0c0" stroke-width="0.5"/>
<line x1="281.54" y1="155.0" x2="281.54" y2="156.3" stroke="#c0c0c0" stroke-width="0.5"/>
<line x1="282.42" y1="155.0" x2="282.42" y2="156.3" stroke="#c0c0c0" stroke-width="0.5"/>
<line x1="283.20" y1="155.0" x2="283.20" y2="156.3" stroke="#c0c0c0" stroke-width="0.5"/>
<text x="267.75" y="164.60" font-size="6.6" font-weight="bold" fill="#000" stroke="#000" stroke-width="0.12" text-anchor="middle" font-family="Liberation Sans, sans-serif">10<tspan dy="-2.5" font-size="4.3">3</tspan></text>
<line x1="283.90" y1="155.0" x2="283.90" y2="157.5" stroke="#b0b0b0" stroke-width="0.7"/>
<line x1="288.49" y1="155.0" x2="288.49" y2="156.3" stroke="#c0c0c0" stroke-width="0.5"/>
<line x1="291.18" y1="155.0" x2="291.18" y2="156.3" stroke="#c0c0c0" stroke-width="0.5"/>
<line x1="293.08" y1="155.0" x2="293.08" y2="156.3" stroke="#c0c0c0" stroke-width="0.5"/>
<line x1="294.56" y1="155.0" x2="294.56" y2="156.3" stroke="#c0c0c0" stroke-width="0.5"/>
<line x1="295.77" y1="155.0" x2="295.77" y2="156.3" stroke="#c0c0c0" stroke-width="0.5"/>
<line x1="296.79" y1="155.0" x2="296.79" y2="156.3" stroke="#c0c0c0" stroke-width="0.5"/>
<line x1="297.67" y1="155.0" x2="297.67" y2="156.3" stroke="#c0c0c0" stroke-width="0.5"/>
<line x1="298.45" y1="155.0" x2="298.45" y2="156.3" stroke="#c0c0c0" stroke-width="0.5"/>
<text x="283.00" y="164.60" font-size="6.6" font-weight="bold" fill="#000" stroke="#000" stroke-width="0.12" text-anchor="middle" font-family="Liberation Sans, sans-serif">10<tspan dy="-2.5" font-size="4.3">4</tspan></text>
<line x1="299.15" y1="155.0" x2="299.15" y2="157.5" stroke="#b0b0b0" stroke-width="0.7"/>
<line x1="303.74" y1="155.0" x2="303.74" y2="156.3" stroke="#c0c0c0" stroke-width="0.5"/>
<line x1="306.43" y1="155.0" x2="306.43" y2="156.3" stroke="#c0c0c0" stroke-width="0.5"/>
<line x1="308.33" y1="155.0" x2="308.33" y2="156.3" stroke="#c0c0c0" stroke-width="0.5"/>
<line x1="309.81" y1="155.0" x2="309.81" y2="156.3" stroke="#c0c0c0" stroke-width="0.5"/>
<line x1="311.02" y1="155.0" x2="311.02" y2="156.3" stroke="#c0c0c0" stroke-width="0.5"/>
<line x1="312.04" y1="155.0" x2="312.04" y2="156.3" stroke="#c0c0c0" stroke-width="0.5"/>
<line x1="312.92" y1="155.0" x2="312.92" y2="156.3" stroke="#c0c0c0" stroke-width="0.5"/>
<line x1="313.70" y1="155.0" x2="313.70" y2="156.3" stroke="#c0c0c0" stroke-width="0.5"/>
<text x="298.25" y="164.60" font-size="6.6" font-weight="bold" fill="#000" stroke="#000" stroke-width="0.12" text-anchor="middle" font-family="Liberation Sans, sans-serif">10<tspan dy="-2.5" font-size="4.3">5</tspan></text>
<line x1="314.40" y1="155.0" x2="314.40" y2="157.5" stroke="#b0b0b0" stroke-width="0.7"/>
<text x="310.90" y="164.60" font-size="6.6" font-weight="bold" fill="#000" stroke="#000" stroke-width="0.12" text-anchor="middle" font-family="Liberation Sans, sans-serif">10<tspan dy="-2.5" font-size="4.3">6</tspan></text>
<polygon points="223.00,155.00 223.40,154.64 223.80,154.27 224.20,153.79 224.60,153.30 225.00,152.45 225.40,152.22 225.80,151.45 226.20,151.16 226.60,150.84 227.00,150.19 227.40,149.82 227.80,148.96 228.20,149.02 228.60,147.99 229.00,147.31 229.40,146.64 229.80,146.13 230.20,146.18 230.60,145.19 231.00,144.34 231.40,144.01 231.80,143.97 232.20,143.62 232.60,142.22 233.00,141.63 233.40,142.04 233.80,141.40 234.20,140.78 234.60,140.04 235.00,139.86 235.40,140.10 235.80,138.41 236.20,139.21 236.60,137.91 237.00,137.74 237.40,137.37 237.80,137.21 238.20,135.53 238.60,133.75 239.00,131.83 239.40,130.08 239.80,128.77 240.20,127.18 240.60,125.35 241.00,124.49 241.40,122.08 241.80,119.90 242.20,118.97 242.60,117.35 243.00,114.16 243.40,112.45 243.80,111.24 244.20,109.69 244.60,106.90 245.00,105.67 245.40,104.22 245.80,101.85 246.20,100.03 246.60,98.48 247.00,97.06 247.40,95.49 247.80,94.44 248.20,92.44 248.60,88.25 249.00,85.55 249.40,82.38 249.80,79.57 250.20,78.28 250.60,74.07 251.00,71.44 251.40,68.42 251.80,65.04 252.20,67.70 252.60,70.76 253.00,76.67 253.40,80.80 253.80,84.78 254.20,90.12 254.60,97.00 255.00,100.63 255.40,107.36 255.80,112.15 256.20,117.42 256.60,120.45 257.00,123.69 257.40,127.59 257.80,130.33 258.20,133.33 258.60,134.94 259.00,135.88 259.40,137.71 259.80,139.02 260.20,140.31 260.60,142.14 261.00,143.26 261.40,144.67 261.80,144.73 262.20,145.26 262.60,146.17 263.00,147.09 263.40,148.21 263.80,148.81 264.20,148.88 264.60,147.58 265.00,147.02 265.40,146.35 265.80,146.07 266.20,144.70 266.60,144.19 267.00,143.36 267.40,143.06 267.80,141.78 268.20,141.66 268.60,141.20 269.00,141.54 269.40,139.04 269.80,138.31 270.20,137.56 270.60,137.53 271.00,136.37 271.40,136.76 271.80,134.08 272.20,133.12 272.60,132.19 273.00,131.14 273.40,130.32 273.80,129.73 274.20,129.77 274.60,131.49 275.00,132.65 275.40,135.15 275.80,135.51 276.20,136.88 276.60,138.09 277.00,140.18 277.40,141.53 277.80,142.36 278.20,143.06 278.60,143.87 279.00,145.54 279.40,145.63 279.80,146.85 280.20,147.03 280.60,147.76 281.00,148.44 281.40,149.08 281.80,149.82 282.20,150.53 282.60,150.86 283.00,151.85 283.40,152.16 283.80,152.89 284.20,153.80 284.60,154.32 285.00,155.00 285.00,155.00 284.60,155.00 284.20,155.00 283.80,155.00 283.40,155.00 283.00,154.89 282.60,154.28 282.20,154.79 281.80,153.67 281.40,154.85 281.00,153.20 280.60,153.47 280.20,154.59 279.80,154.50 279.40,152.58 279.00,154.80 278.60,154.74 278.20,151.73 277.80,154.44 277.40,150.03 277.00,151.39 276.60,150.27 276.20,151.09 275.80,150.29 275.40,144.82 275.00,145.66 274.60,142.93 274.20,145.38 273.80,141.60 273.40,143.45 273.00,144.40 272.60,145.37 272.20,147.95 271.80,145.61 271.40,150.24 271.00,146.90 270.60,150.26 270.20,151.97 269.80,151.10 269.40,151.43 269.00,154.05 268.60,152.29 268.20,151.77 267.80,153.65 267.40,150.59 267.00,152.62 266.60,154.17 266.20,151.74 265.80,153.93 265.40,154.71 265.00,154.87 264.60,152.63 264.20,153.10 263.80,155.00 263.40,152.70 263.00,155.00 262.60,153.14 262.20,153.76 261.80,154.02 261.40,153.63 261.00,150.83 260.60,150.80 260.20,150.09 259.80,149.08 259.40,147.95 259.00,149.71 258.60,147.94 258.20,147.38 257.80,144.69 257.40,141.93 257.00,137.30 256.60,133.86 256.20,127.58 255.80,123.61 255.40,120.68 255.00,116.72 254.60,107.75 254.20,101.28 253.80,103.11 253.40,96.74 253.00,93.60 252.60,86.82 252.20,84.66 251.80,84.87 251.40,83.61 251.00,84.04 250.60,88.07 250.20,92.32 249.80,96.99 249.40,100.25 249.00,102.39 248.60,105.65 248.20,104.42 247.80,105.62 247.40,109.22 247.00,111.32 246.60,114.83 246.20,113.91 245.80,112.44 245.40,115.10 245.00,115.62 244.60,122.54 244.20,124.57 243.80,123.48 243.40,126.01 243.00,128.33 242.60,128.72 242.20,132.80 241.80,130.57 241.40,132.71 241.00,134.46 240.60,138.16 240.20,140.53 239.80,142.19 239.40,141.06 239.00,144.23 238.60,147.69 238.20,146.86 237.80,149.61 237.40,149.57 237.00,147.64 236.60,147.88 236.20,151.77 235.80,154.56 235.40,153.78 235.00,149.45 234.60,151.80 234.20,153.64 233.80,154.89 233.40,151.22 233.00,153.17 232.60,155.00 232.20,153.16 231.80,153.17 231.40,153.63 231.00,153.32 230.60,152.09 230.20,154.88 229.80,152.46 229.40,152.73 229.00,153.90 228.60,153.35 228.20,154.15 227.80,153.42 227.40,155.00 227.00,153.82 226.60,153.98 226.20,155.00 225.80,155.00 225.40,155.00 225.00,155.00 224.60,155.00 224.20,155.00 223.80,155.00 223.40,155.00 223.00,155.00" fill="#bf0000" fill-opacity="0.62"/>
<polyline points="223.00,155.00 223.19,155.00 223.49,155.00 223.64,155.00 223.79,154.39 224.10,155.00 224.36,153.89 224.53,155.00 224.68,153.01 224.88,153.30 225.08,154.81 225.33,154.94 225.58,152.63 225.73,154.93 225.94,153.73 226.23,153.96 226.46,153.30 226.67,152.69 226.93,153.94 227.20,154.12 227.48,151.89 227.72,152.96 227.91,151.14 228.06,152.60 228.33,151.51 228.57,151.25 228.78,148.97 229.02,151.92 229.27,153.52 229.43,153.00 229.70,147.41 229.92,154.32 230.06,148.22 230.22,153.32 230.52,147.49 230.67,151.96 230.89,149.47 231.12,152.15 231.39,146.54 231.60,153.78 231.77,148.26 231.97,152.58 232.12,153.60 232.32,145.13 232.50,144.00 232.63,149.64 232.84,147.56 233.03,147.75 233.20,148.08 233.50,150.17 233.67,149.01 233.87,146.52 234.03,148.31 234.30,150.79 234.52,144.11 234.69,153.23 234.88,145.12 235.16,152.03 235.37,140.10 235.60,143.81 235.88,140.15 236.16,145.64 236.36,138.72 236.57,143.93 236.70,145.12 236.88,144.53 237.07,140.41 237.27,148.60 237.52,138.46 237.82,149.88 237.96,146.19 238.25,148.05 238.41,144.51 238.65,135.06 238.78,146.09 239.03,139.03 239.18,131.30 239.35,143.31 239.55,129.79 239.84,141.38 240.00,139.29 240.24,139.60 240.49,137.29 240.76,137.87 240.93,130.72 241.15,135.35 241.36,133.18 241.59,128.21 241.76,120.09 241.98,122.38 242.20,118.13 242.42,127.27 242.64,126.81 242.78,128.75 242.99,118.88 243.24,126.63 243.44,114.75 243.74,114.84 243.98,115.65 244.12,120.59 244.37,120.72 244.56,121.67 244.78,109.47 245.07,107.42 245.33,109.40 245.52,116.56 245.72,105.34 245.94,114.21 246.11,103.21 246.32,110.80 246.60,99.66 246.87,107.02 247.10,97.42 247.32,110.85 247.56,104.25 247.75,102.50 247.94,98.27 248.18,105.54 248.32,98.70 248.61,100.33 248.75,88.57 248.88,93.43 249.18,90.29 249.43,97.51 249.72,86.60 249.96,92.32 250.21,82.84 250.46,83.00 250.71,76.70 250.98,76.83 251.14,69.79 251.41,85.82 251.66,68.64 251.94,81.09 252.17,66.82 252.35,79.95 252.54,73.37 252.79,90.47 252.93,80.28 253.07,82.26 253.34,85.11 253.63,94.22 253.77,86.85 254.00,103.24 254.31,94.84 254.51,99.01 254.76,97.95 254.92,101.29 255.05,108.18 255.20,117.81 255.35,116.44 255.51,109.31 255.77,111.70 256.03,120.65 256.17,124.37 256.42,131.51 256.69,120.27 256.93,134.82 257.14,137.13 257.32,140.39 257.58,128.19 257.71,141.33 257.99,131.97 258.17,145.28 258.33,144.20 258.55,137.64 258.75,139.64 258.96,147.69 259.12,145.50 259.31,148.69 259.55,140.28 259.75,151.55 260.05,148.12 260.28,147.53 260.43,153.03 260.68,152.74 260.87,146.72 261.18,153.10 261.41,144.76 261.62,153.60 261.82,149.08 262.06,153.80 262.33,146.20 262.46,150.18 262.67,148.99 262.95,154.09 263.09,152.23 263.36,154.16 263.59,148.36 263.88,154.15 264.13,153.74 264.32,149.99 264.55,152.11 264.72,153.66 265.01,147.20 265.25,153.06 265.47,146.32 265.64,153.23 265.91,147.09 266.06,153.33 266.33,144.94 266.56,153.61 266.85,146.35 267.07,151.47 267.23,143.19 267.40,152.06 267.59,145.87 267.80,150.43 267.95,141.51 268.26,148.73 268.41,145.86 268.68,145.47 268.92,141.38 269.14,141.37 269.28,153.14 269.57,148.87 269.80,139.18 270.07,147.34 270.36,145.86 270.64,151.17 270.82,136.35 270.99,142.32 271.13,135.72 271.36,148.93 271.57,147.88 271.87,137.64 272.10,135.65 272.26,147.44 272.43,137.23 272.68,146.39 272.93,133.59 273.14,136.71 273.44,144.61 273.61,132.55 273.79,131.05 274.08,143.07 274.36,130.05 274.63,143.47 274.88,146.27 275.02,138.05 275.28,146.44 275.53,142.39 275.77,143.66 275.92,144.13 276.10,136.52 276.31,143.02 276.49,137.77 276.74,139.88 277.00,139.54 277.14,152.94 277.31,151.80 277.59,152.93 277.75,143.74 277.90,153.36 278.18,147.03 278.39,149.50 278.67,146.31 278.91,148.33 279.08,145.16 279.34,152.11 279.49,152.33 279.67,151.45 279.83,146.91 280.11,151.27 280.27,148.84 280.46,154.28 280.61,154.38 280.76,154.34 281.01,148.45 281.22,151.88 281.40,149.03 281.60,154.89 281.90,154.21 282.05,152.61 282.34,150.28 282.60,153.28 282.91,151.15 283.18,154.17 283.34,151.92 283.62,155.00 283.78,153.44 284.07,154.84 284.31,153.77 284.47,155.00 284.73,154.58 284.87,155.00" fill="none" stroke="#b80000" stroke-width="0.5" stroke-opacity="0.95"/>
<polyline points="223.00,155.00 223.25,155.00 223.57,155.00 223.95,155.00 224.18,153.51 224.53,155.00 224.89,152.60 225.26,154.47 225.64,154.87 225.94,151.80 226.34,151.81 226.73,152.82 226.95,153.50 227.22,151.78 227.49,151.27 227.67,153.26 227.96,150.30 228.17,153.81 228.54,152.99 228.80,153.54 229.07,151.32 229.27,154.05 229.67,148.22 229.98,152.06 230.29,145.31 230.70,149.23 230.92,144.49 231.16,153.19 231.35,143.87 231.70,148.03 231.88,146.96 232.20,150.78 232.55,142.17 232.94,151.89 233.13,141.45 233.43,149.96 233.67,140.86 233.95,145.27 234.27,150.06 234.49,150.18 234.85,139.78 235.23,152.94 235.50,141.29 235.88,149.02 236.16,151.10 236.52,146.21 236.76,139.00 237.05,151.69 237.42,148.96 237.79,149.85 237.99,139.98 238.40,148.63 238.64,135.94 238.97,140.84 239.28,130.67 239.56,139.91 239.74,128.90 240.16,139.91 240.56,131.09 240.94,137.49 241.33,121.81 241.66,127.90 242.01,119.81 242.32,131.51 242.64,116.71 242.95,124.13 243.36,113.74 243.61,123.26 243.82,115.63 244.23,119.13 244.47,110.63 244.78,111.70 244.99,105.29 245.24,113.43 245.49,103.83 245.69,113.08 246.07,106.12 246.39,111.47 246.62,105.99 246.91,108.51 247.24,99.13 247.49,102.39 247.72,97.83 248.00,104.80 248.18,93.22 248.57,96.48 248.88,90.18 249.13,101.24 249.38,92.78 249.60,85.42 249.99,81.53 250.18,87.83 250.47,84.43 250.67,81.82 251.08,80.33 251.30,79.51 251.56,75.37 251.89,82.05 252.27,71.83 252.63,86.88 252.99,79.25 253.36,94.27 253.76,84.44 254.15,90.06 254.51,99.34 254.81,113.02 255.13,104.80 255.49,121.01 255.82,113.71 256.11,125.00 256.46,119.43 256.74,131.66 257.01,124.61 257.38,140.04 257.68,132.02 257.90,139.28 258.12,137.33 258.44,137.99 258.84,136.62 259.22,150.02 259.63,138.59 259.91,152.74 260.09,139.71 260.41,149.89 260.81,149.24 261.12,154.02 261.42,146.56 261.77,150.54 262.03,148.24 262.30,154.13 262.64,148.38 262.84,151.38 263.12,149.37 263.44,154.24 263.85,149.86 264.14,153.45 264.56,148.44 264.86,153.88 265.08,147.45 265.50,153.66 265.80,145.47 266.20,152.62 266.57,153.95 266.97,150.25 267.18,143.80 267.49,150.55 267.71,142.32 268.04,150.97 268.31,153.52 268.64,142.99 268.92,148.29 269.17,151.05 269.35,140.30 269.74,149.61 270.08,138.24 270.38,148.13 270.62,142.88 270.93,150.91 271.24,137.91 271.45,140.76 271.82,134.18 272.02,139.63 272.33,142.80 272.65,145.27 272.85,131.51 273.21,139.03 273.56,131.61 273.78,136.87 273.99,140.82 274.31,138.57 274.60,133.08 274.79,145.55 275.11,146.38 275.39,145.45 275.63,134.70 276.04,149.80 276.29,148.84 276.67,146.16 276.99,152.27 277.29,153.18 277.53,142.58 277.88,147.37 278.14,151.22 278.43,152.87 278.67,144.32 278.94,148.90 279.35,146.30 279.67,148.90 279.97,147.72 280.25,148.92 280.46,152.31 280.73,151.18 280.95,148.61 281.19,149.64 281.53,149.67 281.75,154.05 281.95,150.03 282.33,152.03 282.61,154.05 282.99,153.08 283.25,153.99 283.52,155.00 283.75,155.00 284.05,154.85 284.34,153.83 284.69,155.00" fill="none" stroke="#c80000" stroke-width="0.45" stroke-opacity="0.9"/>
<polyline points="223.00,155.00 223.45,155.00 223.99,153.87 224.64,154.16 225.14,153.43 225.55,155.00 226.01,153.13 226.53,153.21 226.99,149.93 227.36,154.53 227.79,151.51 228.13,153.21 228.58,149.51 229.00,149.08 229.42,146.96 229.77,153.17 230.18,146.91 230.85,153.06 231.50,151.37 231.85,148.81 232.17,147.84 232.73,148.92 233.20,146.64 233.78,147.08 234.41,141.57 234.97,145.31 235.31,150.97 235.91,150.76 236.22,137.94 236.59,144.11 237.01,139.22 237.32,144.98 237.88,136.61 238.51,145.00 239.10,132.30 239.58,141.58 240.01,127.47 240.65,137.83 241.06,123.04 241.70,131.61 242.02,119.50 242.37,130.21 242.75,127.66 243.35,116.88 243.93,112.19 244.53,120.63 244.94,105.39 245.62,112.05 246.29,106.87 246.89,111.24 247.44,98.07 247.76,106.81 248.23,95.08 248.90,91.97 249.51,81.60 250.09,93.34 250.49,79.86 251.18,84.38 251.70,66.96 252.02,75.36 252.49,70.05 252.91,80.96 253.49,88.89 253.89,93.99 254.40,95.52 255.07,110.29 255.49,118.69 255.85,123.03 256.28,126.36 256.80,134.10 257.17,131.07 257.71,139.40 258.31,143.37 258.66,142.37 259.10,136.67 259.43,145.07 259.81,145.87 260.28,144.82 260.71,144.56 261.16,147.70 261.49,143.91 262.19,153.11 262.52,150.25 263.21,152.75 263.55,149.43 264.03,151.29 264.55,147.62 265.21,152.92 265.76,153.24 266.33,149.33 266.72,143.90 267.03,152.71 267.67,143.03 268.04,151.25 268.68,151.68 269.05,151.88 269.68,146.53 270.11,143.95 270.74,137.98 271.19,146.52 271.64,144.68 272.03,136.49 272.56,138.04 273.19,143.11 273.85,142.28 274.35,140.43 274.71,132.63 275.24,137.43 275.82,135.74 276.30,151.46 276.63,137.92 277.11,145.49 277.70,141.09 278.33,153.17 278.95,146.55 279.36,152.74 279.87,147.81 280.30,152.06 280.87,152.58 281.53,151.38 281.95,150.70 282.47,153.37 282.85,151.10 283.28,154.70 283.97,155.00 284.62,155.00" fill="none" stroke="#f0b0b0" stroke-width="0.4" stroke-opacity="0.55"/>
<polyline points="223.00,154.20 223.20,155.00 223.40,153.89 223.60,155.00 223.80,153.43 224.00,155.00 224.20,153.46 224.40,155.00 224.60,152.91 224.80,155.00 225.00,152.13 225.20,154.45 225.40,150.88 225.60,154.22 225.80,150.81 226.00,153.45 226.20,150.30 226.40,153.16 226.60,150.74 226.80,152.84 227.00,150.02 227.20,152.19 227.40,149.30 227.60,151.82 227.80,148.85 228.00,150.96 228.20,148.92 228.40,151.02 228.60,147.65 228.80,149.99 229.00,146.47 229.20,149.31 229.40,146.40 229.60,148.64 229.80,146.05 230.00,148.13 230.20,145.87 230.40,148.18 230.60,144.70 230.80,147.19 231.00,143.80 231.20,146.34 231.40,143.70 231.60,146.01 231.80,143.21 232.00,145.97 232.20,143.48 232.40,145.62 232.60,141.99 232.80,144.22 233.00,141.46 233.20,143.63 233.40,141.51 233.60,144.04 233.80,140.26 234.00,143.40 234.20,140.50 234.40,142.78 234.60,139.95 234.80,142.04 235.00,139.57 235.20,141.86 235.40,139.75 235.60,142.10 235.80,137.79 236.00,140.41 236.20,138.80 236.40,141.21 236.60,137.90 236.80,139.91 237.00,137.04 237.20,139.74 237.40,136.97 237.60,139.37 237.80,137.06 238.00,139.21 238.20,135.26 238.40,137.53 238.60,133.62 238.80,135.75 239.00,131.03 239.20,133.83 239.40,130.02 239.60,132.08 239.80,128.24 240.00,130.77 240.20,126.88 240.40,129.18 240.60,124.77 240.80,127.35 241.00,124.20 241.20,126.49 241.40,121.59 241.60,124.08 241.80,119.32 242.00,121.90 242.20,118.75 242.40,120.97 242.60,116.37 242.80,119.35 243.00,112.78 243.20,116.16 243.40,111.24 243.60,114.45 243.80,111.19 244.00,113.24 244.20,109.42 244.40,111.69 244.60,106.61 244.80,108.90 245.00,105.14 245.20,107.67 245.40,103.50 245.60,106.22 245.80,100.51 246.00,103.85 246.20,99.07 246.40,102.03 246.60,98.08 246.80,100.48 247.00,96.38 247.20,99.06 247.40,94.70 247.60,97.49 247.80,94.03 248.00,96.44 248.20,92.28 248.40,94.44 248.60,88.17 248.80,90.25 249.00,85.48 249.20,87.55 249.40,82.03 249.60,84.38 249.80,79.33 250.00,81.57 250.20,77.99 250.40,80.28 250.60,73.17 250.80,76.07 251.00,70.31 251.20,73.44 251.40,67.86 251.60,70.42 251.80,64.16 252.00,67.04 252.20,66.86 252.40,69.70 252.60,69.52 252.80,72.76 253.00,76.15 253.20,78.67 253.40,80.55 253.60,82.80 253.80,84.51 254.00,86.78 254.20,90.10 254.40,92.12 254.60,96.45 254.80,99.00 255.00,100.55 255.20,102.63 255.40,106.46 255.60,109.36 255.80,112.01 256.00,114.15 256.20,117.15 256.40,119.42 256.60,119.76 256.80,122.45 257.00,122.99 257.20,125.69 257.40,126.68 257.60,129.59 257.80,130.02 258.00,132.33 258.20,132.54 258.40,135.33 258.60,134.72 258.80,136.94 259.00,135.27 259.20,137.88 259.40,137.26 259.60,139.71 259.80,138.92 260.00,141.02 260.20,140.03 260.40,142.31 260.60,141.34 260.80,144.14 261.00,142.86 261.20,145.26 261.40,144.66 261.60,146.67 261.80,144.33 262.00,146.73 262.20,144.18 262.40,147.26 262.60,145.80 262.80,148.17 263.00,146.83 263.20,149.09 263.40,148.06 263.60,150.21 263.80,148.53 264.00,150.81 264.20,148.84 264.40,150.88 264.60,147.46 264.80,149.58 265.00,146.65 265.20,149.02 265.40,145.88 265.60,148.35 265.80,145.90 266.00,148.07 266.20,144.48 266.40,146.70 266.60,143.65 266.80,146.19 267.00,142.60 267.20,145.36 267.40,142.09 267.60,145.06 267.80,140.89 268.00,143.78 268.20,141.44 268.40,143.66 268.60,140.68 268.80,143.20 269.00,140.17 269.20,143.54 269.40,138.49 269.60,141.04 269.80,138.26 270.00,140.31 270.20,137.15 270.40,139.56 270.60,136.96 270.80,139.53 271.00,135.62 271.20,138.37 271.40,135.98 271.60,138.76 271.80,133.70 272.00,136.08 272.20,133.04 272.40,135.12 272.60,131.81 272.80,134.19 273.00,130.32 273.20,133.14 273.40,129.79 273.60,132.32 273.80,129.30 274.00,131.73 274.20,129.14 274.40,131.77 274.60,130.52 274.80,133.49 275.00,131.70 275.20,134.65 275.40,134.40 275.60,137.15 275.80,135.33 276.00,137.51 276.20,136.72 276.40,138.88 276.60,137.89 276.80,140.09 277.00,139.81 277.20,142.18 277.40,140.90 277.60,143.53 277.80,141.86 278.00,144.36 278.20,142.70 278.40,145.06 278.60,143.77 278.80,145.87 279.00,145.11 279.20,147.54 279.40,145.12 279.60,147.63 279.80,146.32 280.00,148.85 280.20,146.75 280.40,149.03 280.60,147.72 280.80,149.76 281.00,148.39 281.20,150.44 281.40,148.60 281.60,151.08 281.80,149.56 282.00,151.82 282.20,149.87 282.40,152.53 282.60,150.77 282.80,152.86 283.00,151.67 283.20,153.85 283.40,152.15 283.60,154.16 283.80,152.34 284.00,154.89 284.20,153.09 284.40,155.00 284.60,154.25 284.80,155.00 285.00,154.53 285.20,155.00" fill="none" stroke="#bf0000" stroke-width="0.45" stroke-opacity="0.85"/>
<polygon points="251.10,80.20 252.00,63.60 252.90,80.20" fill="#bf0000" fill-opacity="0.9"/>
<polygon points="273.10,141.30 274.00,128.70 274.90,141.30" fill="#bf0000" fill-opacity="0.9"/>
<line x1="222.5" y1="62.4" x2="222.5" y2="155.0" stroke="#96d25c" stroke-width="1.15"/>
<line x1="222.5" y1="110.5" x2="265.5" y2="110.5" stroke="#96d25c" stroke-width="1.15"/>
<line x1="266.4" y1="62.4" x2="266.4" y2="155.0" stroke="#2a6fb2" stroke-width="0.9"/>
<line x1="265.5" y1="62.4" x2="265.5" y2="155.0" stroke="#96d25c" stroke-width="1.15"/>
<line x1="314.5" y1="62.4" x2="314.5" y2="155.0" stroke="#2a6fb2" stroke-width="1.15"/>
<line x1="265.5" y1="113.5" x2="314.5" y2="113.5" stroke="#2a6fb2" stroke-width="1.15"/>
<text x="224.6" y="107.8" font-size="7.0" fill="#96d25c" stroke="#96d25c" stroke-width="0.35" font-weight="bold" font-family="Liberation Sans, sans-serif" textLength="47" lengthAdjust="spacingAndGlyphs">R5: 87.428%</text>
<text x="265.7" y="110.8" font-size="7.0" fill="#2a6fb2" stroke="#2a6fb2" stroke-width="0.35" font-weight="bold" font-family="Liberation Sans, sans-serif" textLength="46.8" lengthAdjust="spacingAndGlyphs">R4: 12.418%</text>
<text x="0" y="0" font-size="10.4" font-weight="bold" text-anchor="middle" fill="#000" font-family="Liberation Sans, sans-serif" transform="translate(211.4,108.6) rotate(-90)">Count</text>
<text x="221.3" y="175.4" font-size="10.9" fill="#000" text-anchor="start" font-weight="bold" font-family="Liberation Sans, sans-serif" >Annexin V AF647</text>
<rect x="321" y="61" width="117" height="114.5" fill="#fff"/>
<rect x="321" y="61" width="1" height="114.5" fill="#a0a0a0"/>
<line x1="340.5" y1="68.5" x2="432.5" y2="68.5" stroke="#c8c8c8" stroke-width="1"/>
<line x1="343.5" y1="68.5" x2="343.5" y2="154.5" stroke="#c8c8c8" stroke-width="1"/>
<line x1="343.5" y1="154.5" x2="432.5" y2="154.5" stroke="#c8c8c8" stroke-width="1"/>
<line x1="432.5" y1="68.5" x2="432.5" y2="154.5" stroke="#c8c8c8" stroke-width="1"/>
<line x1="341.3" y1="149.48" x2="343.5" y2="149.48" stroke="#bdbdbd" stroke-width="0.6"/>
<line x1="341.3" y1="144.96" x2="343.5" y2="144.96" stroke="#bdbdbd" stroke-width="0.6"/>
<line x1="341.3" y1="140.44" x2="343.5" y2="140.44" stroke="#bdbdbd" stroke-width="0.6"/>
<line x1="341.3" y1="135.92" x2="343.5" y2="135.92" stroke="#bdbdbd" stroke-width="0.6"/>
<line x1="341.3" y1="131.40" x2="343.5" y2="131.40" stroke="#bdbdbd" stroke-width="0.6"/>
<line x1="341.3" y1="126.88" x2="343.5" y2="126.88" stroke="#bdbdbd" stroke-width="0.6"/>
<line x1="341.3" y1="122.36" x2="343.5" y2="122.36" stroke="#bdbdbd" stroke-width="0.6"/>
<line x1="341.3" y1="117.84" x2="343.5" y2="117.84" stroke="#bdbdbd" stroke-width="0.6"/>
<line x1="341.3" y1="113.32" x2="343.5" y2="113.32" stroke="#bdbdbd" stroke-width="0.6"/>
<line x1="341.3" y1="108.80" x2="343.5" y2="108.80" stroke="#bdbdbd" stroke-width="0.6"/>
<line x1="341.3" y1="104.28" x2="343.5" y2="104.28" stroke="#bdbdbd" stroke-width="0.6"/>
<line x1="341.3" y1="99.76" x2="343.5" y2="99.76" stroke="#bdbdbd" stroke-width="0.6"/>
<line x1="341.3" y1="95.24" x2="343.5" y2="95.24" stroke="#bdbdbd" stroke-width="0.6"/>
<line x1="341.3" y1="90.72" x2="343.5" y2="90.72" stroke="#bdbdbd" stroke-width="0.6"/>
<line x1="341.3" y1="86.20" x2="343.5" y2="86.20" stroke="#bdbdbd" stroke-width="0.6"/>
<line x1="341.3" y1="81.68" x2="343.5" y2="81.68" stroke="#bdbdbd" stroke-width="0.6"/>
<line x1="341.3" y1="77.16" x2="343.5" y2="77.16" stroke="#bdbdbd" stroke-width="0.6"/>
<line x1="341.3" y1="72.64" x2="343.5" y2="72.64" stroke="#bdbdbd" stroke-width="0.6"/>
<line x1="341.3" y1="68.12" x2="343.5" y2="68.12" stroke="#bdbdbd" stroke-width="0.6"/>
<line x1="340.7" y1="154.0" x2="343.7" y2="154.0" stroke="#b0b0b0" stroke-width="0.7"/>
<text x="338.7" y="156.20" font-size="6.4" fill="#000" text-anchor="end" font-weight="bold" font-family="Liberation Sans, sans-serif" stroke="#000" stroke-width="0.15">0</text>
<line x1="340.7" y1="144.96" x2="343.7" y2="144.96" stroke="#b0b0b0" stroke-width="0.7"/>
<text x="338.7" y="147.16" font-size="6.4" fill="#000" text-anchor="end" font-weight="bold" font-family="Liberation Sans, sans-serif" stroke="#000" stroke-width="0.15">2</text>
<line x1="340.7" y1="135.92000000000002" x2="343.7" y2="135.92000000000002" stroke="#b0b0b0" stroke-width="0.7"/>
<text x="338.7" y="138.12" font-size="6.4" fill="#000" text-anchor="end" font-weight="bold" font-family="Liberation Sans, sans-serif" stroke="#000" stroke-width="0.15">4</text>
<line x1="340.7" y1="126.88" x2="343.7" y2="126.88" stroke="#b0b0b0" stroke-width="0.7"/>
<text x="338.7" y="129.08" font-size="6.4" fill="#000" text-anchor="end" font-weight="bold" font-family="Liberation Sans, sans-serif" stroke="#000" stroke-width="0.15">6</text>
<line x1="340.7" y1="117.84" x2="343.7" y2="117.84" stroke="#b0b0b0" stroke-width="0.7"/>
<text x="338.7" y="120.04" font-size="6.4" fill="#000" text-anchor="end" font-weight="bold" font-family="Liberation Sans, sans-serif" stroke="#000" stroke-width="0.15">8</text>
<line x1="340.7" y1="108.80000000000001" x2="343.7" y2="108.80000000000001" stroke="#b0b0b0" stroke-width="0.7"/>
<text x="338.7" y="111.00" font-size="6.4" fill="#000" text-anchor="end" font-weight="bold" font-family="Liberation Sans, sans-serif" stroke="#000" stroke-width="0.15">10</text>
<line x1="340.7" y1="99.76" x2="343.7" y2="99.76" stroke="#b0b0b0" stroke-width="0.7"/>
<text x="338.7" y="101.96" font-size="6.4" fill="#000" text-anchor="end" font-weight="bold" font-family="Liberation Sans, sans-serif" stroke="#000" stroke-width="0.15">12</text>
<line x1="340.7" y1="90.72" x2="343.7" y2="90.72" stroke="#b0b0b0" stroke-width="0.7"/>
<text x="338.7" y="92.92" font-size="6.4" fill="#000" text-anchor="end" font-weight="bold" font-family="Liberation Sans, sans-serif" stroke="#000" stroke-width="0.15">14</text>
<line x1="340.7" y1="81.68" x2="343.7" y2="81.68" stroke="#b0b0b0" stroke-width="0.7"/>
<text x="338.7" y="83.88" font-size="6.4" fill="#000" text-anchor="end" font-weight="bold" font-family="Liberation Sans, sans-serif" stroke="#000" stroke-width="0.15">16</text>
<line x1="340.7" y1="72.64000000000001" x2="343.7" y2="72.64000000000001" stroke="#b0b0b0" stroke-width="0.7"/>
<text x="338.7" y="74.84" font-size="6.4" fill="#000" text-anchor="end" font-weight="bold" font-family="Liberation Sans, sans-serif" stroke="#000" stroke-width="0.15">18</text>
<line x1="343.70" y1="154.0" x2="343.70" y2="156.5" stroke="#b0b0b0" stroke-width="0.7"/>
<line x1="348.17" y1="154.0" x2="348.17" y2="155.3" stroke="#c0c0c0" stroke-width="0.5"/>
<line x1="350.79" y1="154.0" x2="350.79" y2="155.3" stroke="#c0c0c0" stroke-width="0.5"/>
<line x1="352.64" y1="154.0" x2="352.64" y2="155.3" stroke="#c0c0c0" stroke-width="0.5"/>
<line x1="354.08" y1="154.0" x2="354.08" y2="155.3" stroke="#c0c0c0" stroke-width="0.5"/>
<line x1="355.26" y1="154.0" x2="355.26" y2="155.3" stroke="#c0c0c0" stroke-width="0.5"/>
<line x1="356.25" y1="154.0" x2="356.25" y2="155.3" stroke="#c0c0c0" stroke-width="0.5"/>
<line x1="357.11" y1="154.0" x2="357.11" y2="155.3" stroke="#c0c0c0" stroke-width="0.5"/>
<line x1="357.87" y1="154.0" x2="357.87" y2="155.3" stroke="#c0c0c0" stroke-width="0.5"/>
<text x="342.80" y="163.60" font-size="6.6" font-weight="bold" fill="#000" stroke="#000" stroke-width="0.12" text-anchor="middle" font-family="Liberation Sans, sans-serif">10<tspan dy="-2.5" font-size="4.3">0</tspan></text>
<line x1="358.55" y1="154.0" x2="358.55" y2="156.5" stroke="#b0b0b0" stroke-width="0.7"/>
<line x1="363.02" y1="154.0" x2="363.02" y2="155.3" stroke="#c0c0c0" stroke-width="0.5"/>
<line x1="365.64" y1="154.0" x2="365.64" y2="155.3" stroke="#c0c0c0" stroke-width="0.5"/>
<line x1="367.49" y1="154.0" x2="367.49" y2="155.3" stroke="#c0c0c0" stroke-width="0.5"/>
<line x1="368.93" y1="154.0" x2="368.93" y2="155.3" stroke="#c0c0c0" stroke-width="0.5"/>
<line x1="370.11" y1="154.0" x2="370.11" y2="155.3" stroke="#c0c0c0" stroke-width="0.5"/>
<line x1="371.10" y1="154.0" x2="371.10" y2="155.3" stroke="#c0c0c0" stroke-width="0.5"/>
<line x1="371.96" y1="154.0" x2="371.96" y2="155.3" stroke="#c0c0c0" stroke-width="0.5"/>
<line x1="372.72" y1="154.0" x2="372.72" y2="155.3" stroke="#c0c0c0" stroke-width="0.5"/>
<text x="357.65" y="163.60" font-size="6.6" font-weight="bold" fill="#000" stroke="#000" stroke-width="0.12" text-anchor="middle" font-family="Liberation Sans, sans-serif">10<tspan dy="-2.5" font-size="4.3">1</tspan></text>
<line x1="373.40" y1="154.0" x2="373.40" y2="156.5" stroke="#b0b0b0" stroke-width="0.7"/>
<line x1="377.87" y1="154.0" x2="377.87" y2="155.3" stroke="#c0c0c0" stroke-width="0.5"/>
<line x1="380.49" y1="154.0" x2="380.49" y2="155.3" stroke="#c0c0c0" stroke-width="0.5"/>
<line x1="382.34" y1="154.0" x2="382.34" y2="155.3" stroke="#c0c0c0" stroke-width="0.5"/>
<line x1="383.78" y1="154.0" x2="383.78" y2="155.3" stroke="#c0c0c0" stroke-width="0.5"/>
<line x1="384.96" y1="154.0" x2="384.96" y2="155.3" stroke="#c0c0c0" stroke-width="0.5"/>
<line x1="385.95" y1="154.0" x2="385.95" y2="155.3" stroke="#c0c0c0" stroke-width="0.5"/>
<line x1="386.81" y1="154.0" x2="386.81" y2="155.3" stroke="#c0c0c0" stroke-width="0.5"/>
<line x1="387.57" y1="154.0" x2="387.57" y2="155.3" stroke="#c0c0c0" stroke-width="0.5"/>
<text x="372.50" y="163.60" font-size="6.6" font-weight="bold" fill="#000" stroke="#000" stroke-width="0.12" text-anchor="middle" font-family="Liberation Sans, sans-serif">10<tspan dy="-2.5" font-size="4.3">2</tspan></text>
<line x1="388.25" y1="154.0" x2="388.25" y2="156.5" stroke="#b0b0b0" stroke-width="0.7"/>
<line x1="392.72" y1="154.0" x2="392.72" y2="155.3" stroke="#c0c0c0" stroke-width="0.5"/>
<line x1="395.34" y1="154.0" x2="395.34" y2="155.3" stroke="#c0c0c0" stroke-width="0.5"/>
<line x1="397.19" y1="154.0" x2="397.19" y2="155.3" stroke="#c0c0c0" stroke-width="0.5"/>
<line x1="398.63" y1="154.0" x2="398.63" y2="155.3" stroke="#c0c0c0" stroke-width="0.5"/>
<line x1="399.81" y1="154.0" x2="399.81" y2="155.3" stroke="#c0c0c0" stroke-width="0.5"/>
<line x1="400.80" y1="154.0" x2="400.80" y2="155.3" stroke="#c0c0c0" stroke-width="0.5"/>
<line x1="401.66" y1="154.0" x2="401.66" y2="155.3" stroke="#c0c0c0" stroke-width="0.5"/>
<line x1="402.42" y1="154.0" x2="402.42" y2="155.3" stroke="#c0c0c0" stroke-width="0.5"/>
<text x="387.35" y="163.60" font-size="6.6" font-weight="bold" fill="#000" stroke="#000" stroke-width="0.12" text-anchor="middle" font-family="Liberation Sans, sans-serif">10<tspan dy="-2.5" font-size="4.3">3</tspan></text>
<line x1="403.10" y1="154.0" x2="403.10" y2="156.5" stroke="#b0b0b0" stroke-width="0.7"/>
<line x1="407.57" y1="154.0" x2="407.57" y2="155.3" stroke="#c0c0c0" stroke-width="0.5"/>
<line x1="410.19" y1="154.0" x2="410.19" y2="155.3" stroke="#c0c0c0" stroke-width="0.5"/>
<line x1="412.04" y1="154.0" x2="412.04" y2="155.3" stroke="#c0c0c0" stroke-width="0.5"/>
<line x1="413.48" y1="154.0" x2="413.48" y2="155.3" stroke="#c0c0c0" stroke-width="0.5"/>
<line x1="414.66" y1="154.0" x2="414.66" y2="155.3" stroke="#c0c0c0" stroke-width="0.5"/>
<line x1="415.65" y1="154.0" x2="415.65" y2="155.3" stroke="#c0c0c0" stroke-width="0.5"/>
<line x1="416.51" y1="154.0" x2="416.51" y2="155.3" stroke="#c0c0c0" stroke-width="0.5"/>
<line x1="417.27" y1="154.0" x2="417.27" y2="155.3" stroke="#c0c0c0" stroke-width="0.5"/>
<text x="402.20" y="163.60" font-size="6.6" font-weight="bold" fill="#000" stroke="#000" stroke-width="0.12" text-anchor="middle" font-family="Liberation Sans, sans-serif">10<tspan dy="-2.5" font-size="4.3">4</tspan></text>
<line x1="417.95" y1="154.0" x2="417.95" y2="156.5" stroke="#b0b0b0" stroke-width="0.7"/>
<line x1="422.42" y1="154.0" x2="422.42" y2="155.3" stroke="#c0c0c0" stroke-width="0.5"/>
<line x1="425.04" y1="154.0" x2="425.04" y2="155.3" stroke="#c0c0c0" stroke-width="0.5"/>
<line x1="426.89" y1="154.0" x2="426.89" y2="155.3" stroke="#c0c0c0" stroke-width="0.5"/>
<line x1="428.33" y1="154.0" x2="428.33" y2="155.3" stroke="#c0c0c0" stroke-width="0.5"/>
<line x1="429.51" y1="154.0" x2="429.51" y2="155.3" stroke="#c0c0c0" stroke-width="0.5"/>
<line x1="430.50" y1="154.0" x2="430.50" y2="155.3" stroke="#c0c0c0" stroke-width="0.5"/>
<line x1="431.36" y1="154.0" x2="431.36" y2="155.3" stroke="#c0c0c0" stroke-width="0.5"/>
<line x1="432.12" y1="154.0" x2="432.12" y2="155.3" stroke="#c0c0c0" stroke-width="0.5"/>
<text x="417.05" y="163.60" font-size="6.6" font-weight="bold" fill="#000" stroke="#000" stroke-width="0.12" text-anchor="middle" font-family="Liberation Sans, sans-serif">10<tspan dy="-2.5" font-size="4.3">5</tspan></text>
<line x1="432.80" y1="154.0" x2="432.80" y2="156.5" stroke="#b0b0b0" stroke-width="0.7"/>
<text x="429.30" y="163.60" font-size="6.6" font-weight="bold" fill="#000" stroke="#000" stroke-width="0.12" text-anchor="middle" font-family="Liberation Sans, sans-serif">10<tspan dy="-2.5" font-size="4.3">6</tspan></text>
<path d="M344.33 154.00V149.48M350.00 154.00V149.48M350.42 154.00V149.48M350.99 154.00V144.96M352.21 154.00V144.96M355.61 154.00V144.96M356.41 154.00V144.96M356.67 154.00V144.96M358.39 154.00V140.44M360.31 154.00V140.44M362.29 154.00V126.88M362.72 154.00V135.92M363.10 154.00V135.92M364.59 154.00V126.88M366.92 154.00V117.84M367.34 154.00V108.80M374.64 154.00V81.68M375.10 154.00V108.80M379.02 154.00V140.44M379.58 154.00V126.88M381.02 154.00V144.96M381.76 154.00V144.96M382.12 154.00V149.48M383.90 154.00V144.96M384.17 154.00V140.44M386.06 154.00V140.44M388.83 154.00V144.96M389.99 154.00V135.92M390.38 154.00V135.92M391.00 154.00V131.40M392.26 154.00V122.36M392.92 154.00V99.76M394.06 154.00V113.32M394.91 154.00V131.40M395.24 154.00V122.36M397.54 154.00V108.80M398.98 154.00V131.40M400.78 154.00V144.96" stroke="#bb0000" stroke-width="0.55" stroke-opacity="0.6" fill="none"/>
<path d="M345.60 154.00V144.96M347.81 154.00V149.48M348.54 154.00V144.96M349.66 154.00V144.96M353.00 154.00V140.44M353.41 154.00V149.48M359.75 154.00V135.92M361.96 154.00V135.92M363.41 154.00V117.84M364.22 154.00V117.84M365.26 154.00V117.84M368.82 154.00V86.20M369.12 154.00V108.80M370.01 154.00V99.76M370.71 154.00V104.28M372.15 154.00V99.76M372.54 154.00V99.76M376.06 154.00V81.68M378.30 154.00V122.36M378.58 154.00V126.88M384.95 154.00V144.96M386.40 154.00V144.96M387.97 154.00V140.44M390.64 154.00V131.40M391.47 154.00V135.92M391.79 154.00V135.92M393.62 154.00V90.72M395.92 154.00V126.88M396.54 154.00V122.36M398.17 154.00V117.84M398.57 154.00V117.84" stroke="#bb0000" stroke-width="0.55" stroke-opacity="0.85" fill="none"/>
<path d="M344.00 154.00V149.48M347.07 154.00V144.96M348.14 154.00V144.96M350.68 154.00V149.48M352.54 154.00V144.96M353.73 154.00V144.96M354.60 154.00V140.44M359.33 154.00V135.92M361.05 154.00V131.40M363.82 154.00V117.84M365.54 154.00V108.80M371.42 154.00V122.36M373.20 154.00V72.64M373.65 154.00V104.28M375.80 154.00V81.68M380.29 154.00V144.96M385.32 154.00V140.44M385.72 154.00V135.92M387.56 154.00V140.44M389.59 154.00V135.92M392.65 154.00V104.28M393.31 154.00V99.76M396.81 154.00V126.88M397.15 154.00V117.84M399.99 154.00V131.40M401.41 154.00V140.44M402.83 154.00V149.48" stroke="#bb0000" stroke-width="0.55" stroke-opacity="0.95" fill="none"/>
<path d="M344.71 154.00V149.48M345.16 154.00V144.96M345.99 154.00V144.96M346.32 154.00V149.48M346.76 154.00V149.48M347.49 154.00V149.48M348.90 154.00V149.48M349.36 154.00V149.48M351.39 154.00V149.48M351.84 154.00V144.96M354.18 154.00V140.44M354.90 154.00V144.96M355.16 154.00V140.44M356.00 154.00V144.96M357.00 154.00V144.96M357.29 154.00V140.44M357.68 154.00V144.96M358.00 154.00V135.92M358.79 154.00V140.44M359.06 154.00V140.44M360.05 154.00V135.92M360.70 154.00V140.44M361.33 154.00V144.96M361.63 154.00V131.40M364.96 154.00V126.88M365.82 154.00V108.80M366.16 154.00V131.40M366.55 154.00V131.40M367.67 154.00V113.32M368.11 154.00V81.68M368.47 154.00V104.28M369.47 154.00V113.32M369.75 154.00V95.24M370.41 154.00V113.32M371.16 154.00V99.76M371.82 154.00V108.80M372.84 154.00V81.68M373.97 154.00V95.24M374.32 154.00V104.28M375.37 154.00V77.16M376.36 154.00V86.20M376.82 154.00V113.32M377.25 154.00V122.36M377.53 154.00V117.84M377.89 154.00V122.36M379.32 154.00V122.36M379.88 154.00V135.92M380.56 154.00V144.96M381.36 154.00V144.96M382.45 154.00V144.96M382.78 154.00V149.48M383.19 154.00V149.48M383.44 154.00V144.96M384.62 154.00V144.96M386.81 154.00V140.44M387.26 154.00V135.92M388.43 154.00V135.92M389.25 154.00V135.92M394.44 154.00V104.28M395.53 154.00V122.36M396.21 154.00V108.80M397.86 154.00V99.76M399.27 154.00V117.84M399.60 154.00V126.88M400.41 154.00V140.44M401.09 154.00V140.44M401.86 154.00V149.48M402.17 154.00V149.48M402.53 154.00V149.48" stroke="#bb0000" stroke-width="0.55" stroke-opacity="1.0" fill="none"/>
<rect x="367.55" y="76.00" width="0.9" height="78.00" fill="#bf0000" fill-opacity="0.75"/>
<rect x="371.55" y="74.40" width="0.9" height="79.60" fill="#bf0000" fill-opacity="0.75"/>
<rect x="373.55" y="68.50" width="0.9" height="85.50" fill="#bf0000" fill-opacity="0.75"/>
<rect x="393.05" y="84.80" width="0.9" height="69.20" fill="#bf0000" fill-opacity="0.75"/>
<rect x="397.05" y="93.50" width="0.9" height="60.50" fill="#bf0000" fill-opacity="0.75"/>
<line x1="343.5" y1="68.5" x2="343.5" y2="154.0" stroke="#96d25c" stroke-width="1.15"/>
<line x1="343.5" y1="112.5" x2="384.5" y2="112.5" stroke="#96d25c" stroke-width="1.15"/>
<line x1="385.4" y1="68.5" x2="385.4" y2="154.0" stroke="#2a6fb2" stroke-width="0.9"/>
<line x1="384.5" y1="68.5" x2="384.5" y2="154.0" stroke="#96d25c" stroke-width="1.15"/>
<line x1="432.5" y1="68.5" x2="432.5" y2="154.0" stroke="#2a6fb2" stroke-width="1.15"/>
<line x1="384.5" y1="115.5" x2="432.5" y2="115.5" stroke="#2a6fb2" stroke-width="1.15"/>
<text x="345.0" y="109.7" font-size="7.0" fill="#96d25c" stroke="#96d25c" stroke-width="0.35" font-weight="bold" font-family="Liberation Sans, sans-serif" textLength="46.8" lengthAdjust="spacingAndGlyphs">R5: 74.659%</text>
<text x="385.4" y="113.0" font-size="7.0" fill="#2a6fb2" stroke="#2a6fb2" stroke-width="0.35" font-weight="bold" font-family="Liberation Sans, sans-serif" textLength="45.6" lengthAdjust="spacingAndGlyphs">R4: 25.179%</text>
<text x="0" y="0" font-size="10.4" font-weight="bold" text-anchor="middle" fill="#000" font-family="Liberation Sans, sans-serif" transform="translate(330.5,111.3) rotate(-90)">Count</text>
<text x="342" y="173.9" font-size="10.9" fill="#000" text-anchor="start" font-weight="bold" font-family="Liberation Sans, sans-serif" >Annexin V AF647</text>
<rect x="441" y="61" width="117" height="114.69999999999999" fill="#fff"/>
<rect x="441" y="61" width="1" height="114.69999999999999" fill="#a0a0a0"/>
<line x1="459.5" y1="67.5" x2="553.5" y2="67.5" stroke="#c8c8c8" stroke-width="1"/>
<line x1="462.5" y1="67.5" x2="462.5" y2="156.5" stroke="#c8c8c8" stroke-width="1"/>
<line x1="462.5" y1="156.5" x2="553.5" y2="156.5" stroke="#c8c8c8" stroke-width="1"/>
<line x1="553.5" y1="67.5" x2="553.5" y2="156.5" stroke="#c8c8c8" stroke-width="1"/>
<line x1="460.3" y1="151.42" x2="462.5" y2="151.42" stroke="#bdbdbd" stroke-width="0.6"/>
<line x1="460.3" y1="146.34" x2="462.5" y2="146.34" stroke="#bdbdbd" stroke-width="0.6"/>
<line x1="460.3" y1="141.26" x2="462.5" y2="141.26" stroke="#bdbdbd" stroke-width="0.6"/>
<line x1="460.3" y1="136.18" x2="462.5" y2="136.18" stroke="#bdbdbd" stroke-width="0.6"/>
<line x1="460.3" y1="131.10" x2="462.5" y2="131.10" stroke="#bdbdbd" stroke-width="0.6"/>
<line x1="460.3" y1="126.02" x2="462.5" y2="126.02" stroke="#bdbdbd" stroke-width="0.6"/>
<line x1="460.3" y1="120.94" x2="462.5" y2="120.94" stroke="#bdbdbd" stroke-width="0.6"/>
<line x1="460.3" y1="115.86" x2="462.5" y2="115.86" stroke="#bdbdbd" stroke-width="0.6"/>
<line x1="460.3" y1="110.78" x2="462.5" y2="110.78" stroke="#bdbdbd" stroke-width="0.6"/>
<line x1="460.3" y1="105.70" x2="462.5" y2="105.70" stroke="#bdbdbd" stroke-width="0.6"/>
<line x1="460.3" y1="100.62" x2="462.5" y2="100.62" stroke="#bdbdbd" stroke-width="0.6"/>
<line x1="460.3" y1="95.54" x2="462.5" y2="95.54" stroke="#bdbdbd" stroke-width="0.6"/>
<line x1="460.3" y1="90.46" x2="462.5" y2="90.46" stroke="#bdbdbd" stroke-width="0.6"/>
<line x1="460.3" y1="85.38" x2="462.5" y2="85.38" stroke="#bdbdbd" stroke-width="0.6"/>
<line x1="460.3" y1="80.30" x2="462.5" y2="80.30" stroke="#bdbdbd" stroke-width="0.6"/>
<line x1="460.3" y1="75.22" x2="462.5" y2="75.22" stroke="#bdbdbd" stroke-width="0.6"/>
<line x1="460.3" y1="70.14" x2="462.5" y2="70.14" stroke="#bdbdbd" stroke-width="0.6"/>
<line x1="459.6" y1="156.5" x2="462.6" y2="156.5" stroke="#b0b0b0" stroke-width="0.7"/>
<text x="457.0" y="158.70" font-size="6.4" fill="#000" text-anchor="end" font-weight="bold" font-family="Liberation Sans, sans-serif" stroke="#000" stroke-width="0.15">0</text>
<line x1="459.6" y1="131.1" x2="462.6" y2="131.1" stroke="#b0b0b0" stroke-width="0.7"/>
<text x="457.0" y="133.30" font-size="6.4" fill="#000" text-anchor="end" font-weight="bold" font-family="Liberation Sans, sans-serif" stroke="#000" stroke-width="0.15">10</text>
<line x1="459.6" y1="105.7" x2="462.6" y2="105.7" stroke="#b0b0b0" stroke-width="0.7"/>
<text x="457.0" y="107.90" font-size="6.4" fill="#000" text-anchor="end" font-weight="bold" font-family="Liberation Sans, sans-serif" stroke="#000" stroke-width="0.15">20</text>
<line x1="459.6" y1="80.3" x2="462.6" y2="80.3" stroke="#b0b0b0" stroke-width="0.7"/>
<text x="457.0" y="82.50" font-size="6.4" fill="#000" text-anchor="end" font-weight="bold" font-family="Liberation Sans, sans-serif" stroke="#000" stroke-width="0.15">30</text>
<line x1="459.6" y1="67.6" x2="462.6" y2="67.6" stroke="#b0b0b0" stroke-width="0.7"/>
<text x="457.0" y="69.80" font-size="6.4" fill="#000" text-anchor="end" font-weight="bold" font-family="Liberation Sans, sans-serif" stroke="#000" stroke-width="0.15">35</text>
<line x1="462.60" y1="156.5" x2="462.60" y2="159.0" stroke="#b0b0b0" stroke-width="0.7"/>
<line x1="467.14" y1="156.5" x2="467.14" y2="157.8" stroke="#c0c0c0" stroke-width="0.5"/>
<line x1="469.79" y1="156.5" x2="469.79" y2="157.8" stroke="#c0c0c0" stroke-width="0.5"/>
<line x1="471.67" y1="156.5" x2="471.67" y2="157.8" stroke="#c0c0c0" stroke-width="0.5"/>
<line x1="473.13" y1="156.5" x2="473.13" y2="157.8" stroke="#c0c0c0" stroke-width="0.5"/>
<line x1="474.32" y1="156.5" x2="474.32" y2="157.8" stroke="#c0c0c0" stroke-width="0.5"/>
<line x1="475.33" y1="156.5" x2="475.33" y2="157.8" stroke="#c0c0c0" stroke-width="0.5"/>
<line x1="476.21" y1="156.5" x2="476.21" y2="157.8" stroke="#c0c0c0" stroke-width="0.5"/>
<line x1="476.98" y1="156.5" x2="476.98" y2="157.8" stroke="#c0c0c0" stroke-width="0.5"/>
<text x="461.70" y="166.10" font-size="6.6" font-weight="bold" fill="#000" stroke="#000" stroke-width="0.12" text-anchor="middle" font-family="Liberation Sans, sans-serif">10<tspan dy="-2.5" font-size="4.3">0</tspan></text>
<line x1="477.67" y1="156.5" x2="477.67" y2="159.0" stroke="#b0b0b0" stroke-width="0.7"/>
<line x1="482.20" y1="156.5" x2="482.20" y2="157.8" stroke="#c0c0c0" stroke-width="0.5"/>
<line x1="484.86" y1="156.5" x2="484.86" y2="157.8" stroke="#c0c0c0" stroke-width="0.5"/>
<line x1="486.74" y1="156.5" x2="486.74" y2="157.8" stroke="#c0c0c0" stroke-width="0.5"/>
<line x1="488.20" y1="156.5" x2="488.20" y2="157.8" stroke="#c0c0c0" stroke-width="0.5"/>
<line x1="489.39" y1="156.5" x2="489.39" y2="157.8" stroke="#c0c0c0" stroke-width="0.5"/>
<line x1="490.40" y1="156.5" x2="490.40" y2="157.8" stroke="#c0c0c0" stroke-width="0.5"/>
<line x1="491.27" y1="156.5" x2="491.27" y2="157.8" stroke="#c0c0c0" stroke-width="0.5"/>
<line x1="492.04" y1="156.5" x2="492.04" y2="157.8" stroke="#c0c0c0" stroke-width="0.5"/>
<text x="476.77" y="166.10" font-size="6.6" font-weight="bold" fill="#000" stroke="#000" stroke-width="0.12" text-anchor="middle" font-family="Liberation Sans, sans-serif">10<tspan dy="-2.5" font-size="4.3">1</tspan></text>
<line x1="492.73" y1="156.5" x2="492.73" y2="159.0" stroke="#b0b0b0" stroke-width="0.7"/>
<line x1="497.27" y1="156.5" x2="497.27" y2="157.8" stroke="#c0c0c0" stroke-width="0.5"/>
<line x1="499.92" y1="156.5" x2="499.92" y2="157.8" stroke="#c0c0c0" stroke-width="0.5"/>
<line x1="501.80" y1="156.5" x2="501.80" y2="157.8" stroke="#c0c0c0" stroke-width="0.5"/>
<line x1="503.26" y1="156.5" x2="503.26" y2="157.8" stroke="#c0c0c0" stroke-width="0.5"/>
<line x1="504.46" y1="156.5" x2="504.46" y2="157.8" stroke="#c0c0c0" stroke-width="0.5"/>
<line x1="505.47" y1="156.5" x2="505.47" y2="157.8" stroke="#c0c0c0" stroke-width="0.5"/>
<line x1="506.34" y1="156.5" x2="506.34" y2="157.8" stroke="#c0c0c0" stroke-width="0.5"/>
<line x1="507.11" y1="156.5" x2="507.11" y2="157.8" stroke="#c0c0c0" stroke-width="0.5"/>
<text x="491.83" y="166.10" font-size="6.6" font-weight="bold" fill="#000" stroke="#000" stroke-width="0.12" text-anchor="middle" font-family="Liberation Sans, sans-serif">10<tspan dy="-2.5" font-size="4.3">2</tspan></text>
<line x1="507.80" y1="156.5" x2="507.80" y2="159.0" stroke="#b0b0b0" stroke-width="0.7"/>
<line x1="512.34" y1="156.5" x2="512.34" y2="157.8" stroke="#c0c0c0" stroke-width="0.5"/>
<line x1="514.99" y1="156.5" x2="514.99" y2="157.8" stroke="#c0c0c0" stroke-width="0.5"/>
<line x1="516.87" y1="156.5" x2="516.87" y2="157.8" stroke="#c0c0c0" stroke-width="0.5"/>
<line x1="518.33" y1="156.5" x2="518.33" y2="157.8" stroke="#c0c0c0" stroke-width="0.5"/>
<line x1="519.52" y1="156.5" x2="519.52" y2="157.8" stroke="#c0c0c0" stroke-width="0.5"/>
<line x1="520.53" y1="156.5" x2="520.53" y2="157.8" stroke="#c0c0c0" stroke-width="0.5"/>
<line x1="521.41" y1="156.5" x2="521.41" y2="157.8" stroke="#c0c0c0" stroke-width="0.5"/>
<line x1="522.18" y1="156.5" x2="522.18" y2="157.8" stroke="#c0c0c0" stroke-width="0.5"/>
<text x="506.90" y="166.10" font-size="6.6" font-weight="bold" fill="#000" stroke="#000" stroke-width="0.12" text-anchor="middle" font-family="Liberation Sans, sans-serif">10<tspan dy="-2.5" font-size="4.3">3</tspan></text>
<line x1="522.87" y1="156.5" x2="522.87" y2="159.0" stroke="#b0b0b0" stroke-width="0.7"/>
<line x1="527.40" y1="156.5" x2="527.40" y2="157.8" stroke="#c0c0c0" stroke-width="0.5"/>
<line x1="530.06" y1="156.5" x2="530.06" y2="157.8" stroke="#c0c0c0" stroke-width="0.5"/>
<line x1="531.94" y1="156.5" x2="531.94" y2="157.8" stroke="#c0c0c0" stroke-width="0.5"/>
<line x1="533.40" y1="156.5" x2="533.40" y2="157.8" stroke="#c0c0c0" stroke-width="0.5"/>
<line x1="534.59" y1="156.5" x2="534.59" y2="157.8" stroke="#c0c0c0" stroke-width="0.5"/>
<line x1="535.60" y1="156.5" x2="535.60" y2="157.8" stroke="#c0c0c0" stroke-width="0.5"/>
<line x1="536.47" y1="156.5" x2="536.47" y2="157.8" stroke="#c0c0c0" stroke-width="0.5"/>
<line x1="537.24" y1="156.5" x2="537.24" y2="157.8" stroke="#c0c0c0" stroke-width="0.5"/>
<text x="521.97" y="166.10" font-size="6.6" font-weight="bold" fill="#000" stroke="#000" stroke-width="0.12" text-anchor="middle" font-family="Liberation Sans, sans-serif">10<tspan dy="-2.5" font-size="4.3">4</tspan></text>
<line x1="537.93" y1="156.5" x2="537.93" y2="159.0" stroke="#b0b0b0" stroke-width="0.7"/>
<line x1="542.47" y1="156.5" x2="542.47" y2="157.8" stroke="#c0c0c0" stroke-width="0.5"/>
<line x1="545.12" y1="156.5" x2="545.12" y2="157.8" stroke="#c0c0c0" stroke-width="0.5"/>
<line x1="547.00" y1="156.5" x2="547.00" y2="157.8" stroke="#c0c0c0" stroke-width="0.5"/>
<line x1="548.46" y1="156.5" x2="548.46" y2="157.8" stroke="#c0c0c0" stroke-width="0.5"/>
<line x1="549.66" y1="156.5" x2="549.66" y2="157.8" stroke="#c0c0c0" stroke-width="0.5"/>
<line x1="550.67" y1="156.5" x2="550.67" y2="157.8" stroke="#c0c0c0" stroke-width="0.5"/>
<line x1="551.54" y1="156.5" x2="551.54" y2="157.8" stroke="#c0c0c0" stroke-width="0.5"/>
<line x1="552.31" y1="156.5" x2="552.31" y2="157.8" stroke="#c0c0c0" stroke-width="0.5"/>
<text x="537.03" y="166.10" font-size="6.6" font-weight="bold" fill="#000" stroke="#000" stroke-width="0.12" text-anchor="middle" font-family="Liberation Sans, sans-serif">10<tspan dy="-2.5" font-size="4.3">5</tspan></text>
<line x1="553.00" y1="156.5" x2="553.00" y2="159.0" stroke="#b0b0b0" stroke-width="0.7"/>
<text x="549.50" y="166.10" font-size="6.6" font-weight="bold" fill="#000" stroke="#000" stroke-width="0.12" text-anchor="middle" font-family="Liberation Sans, sans-serif">10<tspan dy="-2.5" font-size="4.3">6</tspan></text>
<polygon points="463.00,155.05 463.40,154.84 463.80,154.47 464.20,153.78 464.60,153.33 465.00,153.58 465.40,153.19 465.80,152.10 466.20,151.81 466.60,151.98 467.00,151.08 467.40,150.86 467.80,150.49 468.20,150.51 468.60,150.31 469.00,150.52 469.40,150.34 469.80,149.95 470.20,149.97 470.60,149.50 471.00,149.72 471.40,149.40 471.80,149.29 472.20,148.84 472.60,148.99 473.00,148.00 473.40,148.52 473.80,147.40 474.20,147.15 474.60,146.82 475.00,146.22 475.40,145.89 475.80,145.15 476.20,144.93 476.60,144.92 477.00,143.91 477.40,143.50 477.80,143.20 478.20,142.42 478.60,142.25 479.00,142.06 479.40,141.00 479.80,140.40 480.20,140.78 480.60,139.14 481.00,138.97 481.40,138.63 481.80,136.46 482.20,135.20 482.60,133.68 483.00,133.06 483.40,131.38 483.80,130.66 484.20,131.30 484.60,127.70 485.00,127.06 485.40,124.88 485.80,123.11 486.20,121.34 486.60,120.18 487.00,117.19 487.40,115.97 487.80,113.44 488.20,112.95 488.60,107.65 489.00,105.88 489.40,100.57 489.80,97.51 490.20,94.92 490.60,92.98 491.00,90.51 491.40,87.98 491.80,85.12 492.20,80.44 492.60,76.78 493.00,75.13 493.40,70.26 493.80,71.24 494.20,74.89 494.60,82.06 495.00,81.87 495.40,88.60 495.80,92.24 496.20,97.61 496.60,103.29 497.00,107.58 497.40,111.60 497.80,115.44 498.20,119.68 498.60,121.43 499.00,124.95 499.40,128.21 499.80,130.24 500.20,133.57 500.60,135.92 501.00,140.41 501.40,140.26 501.80,141.48 502.20,143.07 502.60,144.57 503.00,146.05 503.40,144.64 503.80,144.26 504.20,143.89 504.60,141.77 505.00,141.25 505.40,140.15 505.80,139.02 506.20,138.23 506.60,137.65 507.00,135.84 507.40,135.92 507.80,133.41 508.20,132.24 508.60,131.28 509.00,130.59 509.40,128.02 509.80,125.92 510.20,122.97 510.60,122.02 511.00,119.16 511.40,116.27 511.80,115.25 512.20,112.18 512.60,108.85 513.00,105.94 513.40,103.11 513.80,100.96 514.20,98.65 514.60,97.16 515.00,92.69 515.40,90.09 515.80,87.54 516.20,88.75 516.60,94.81 517.00,96.71 517.40,101.14 517.80,105.64 518.20,110.37 518.60,115.97 519.00,120.88 519.40,125.85 519.80,130.75 520.20,134.91 520.60,138.01 521.00,140.29 521.40,143.51 521.80,147.14 522.20,147.69 522.60,148.58 523.00,149.91 523.40,150.44 523.80,152.10 524.20,152.50 524.60,153.54 525.00,154.25 525.40,154.90 525.80,155.83 525.80,156.50 525.40,156.50 525.00,156.50 524.60,156.50 524.20,156.50 523.80,156.50 523.40,156.50 523.00,155.58 522.60,154.91 522.20,156.50 521.80,155.82 521.40,154.97 521.00,154.98 520.60,152.55 520.20,145.93 519.80,146.31 519.40,143.49 519.00,135.24 518.60,134.43 518.20,124.85 517.80,126.69 517.40,118.27 517.00,113.29 516.60,116.67 516.20,112.67 515.80,106.71 515.40,107.76 515.00,114.29 514.60,115.09 514.20,122.52 513.80,116.50 513.40,124.60 513.00,127.22 512.60,123.30 512.20,127.14 511.80,131.55 511.40,136.86 511.00,135.39 510.60,135.05 510.20,135.43 509.80,139.23 509.40,142.45 509.00,142.31 508.60,142.39 508.20,147.66 507.80,147.52 507.40,148.77 507.00,148.12 506.60,147.59 506.20,153.24 505.80,151.77 505.40,153.69 505.00,152.94 504.60,151.95 504.20,153.75 503.80,155.25 503.40,152.71 503.00,154.22 502.60,153.63 502.20,152.33 501.80,151.97 501.40,150.27 501.00,150.64 500.60,149.53 500.20,147.89 499.80,143.99 499.40,142.64 499.00,138.64 498.60,140.22 498.20,137.44 497.80,131.68 497.40,125.51 497.00,123.71 496.60,123.25 496.20,116.65 495.80,111.61 495.40,105.83 495.00,106.40 494.60,97.84 494.20,96.64 493.80,97.32 493.40,98.94 493.00,94.38 492.60,97.95 492.20,106.02 491.80,109.41 491.40,104.55 491.00,106.71 490.60,111.92 490.20,114.43 489.80,115.04 489.40,116.44 489.00,123.01 488.60,126.27 488.20,126.19 487.80,131.36 487.40,134.27 487.00,131.95 486.60,137.15 486.20,133.49 485.80,141.08 485.40,137.39 485.00,139.17 484.60,140.28 484.20,142.53 483.80,144.72 483.40,143.11 483.00,145.47 482.60,148.89 482.20,150.86 481.80,150.76 481.40,151.58 481.00,150.88 480.60,154.89 480.20,153.79 479.80,155.91 479.40,151.37 479.00,152.52 478.60,153.08 478.20,152.54 477.80,155.91 477.40,153.58 477.00,153.67 476.60,152.44 476.20,153.04 475.80,156.50 475.40,155.24 475.00,153.15 474.60,156.50 474.20,156.46 473.80,155.10 473.40,154.85 473.00,155.17 472.60,156.50 472.20,156.50 471.80,156.50 471.40,156.50 471.00,156.39 470.60,156.50 470.20,156.11 469.80,156.50 469.40,156.05 469.00,156.26 468.60,156.50 468.20,156.50 467.80,156.50 467.40,156.50 467.00,156.50 466.60,156.50 466.20,156.50 465.80,156.50 465.40,156.50 465.00,156.50 464.60,156.50 464.20,156.50 463.80,156.50 463.40,156.50 463.00,156.50" fill="#bf0000" fill-opacity="0.62"/>
<polyline points="463.00,155.29 463.25,156.50 463.40,155.61 463.67,156.50 463.83,154.89 464.07,156.50 464.29,156.50 464.53,156.50 464.77,153.12 465.04,156.50 465.31,156.50 465.48,156.50 465.71,156.50 465.95,156.50 466.23,151.54 466.48,155.89 466.73,155.51 466.92,155.50 467.22,151.03 467.47,156.50 467.72,156.50 467.92,154.74 468.11,153.21 468.41,156.50 468.62,151.50 468.81,153.17 469.04,150.06 469.24,155.50 469.37,150.81 469.68,153.35 469.97,151.07 470.20,153.71 470.37,152.84 470.56,156.50 470.77,150.35 470.92,152.83 471.12,154.96 471.41,156.50 471.59,150.01 471.88,156.50 472.12,155.28 472.42,154.11 472.55,154.94 472.70,152.74 472.93,151.97 473.20,155.38 473.50,152.51 473.77,154.95 473.92,152.44 474.10,153.06 474.32,147.62 474.50,151.76 474.69,151.20 474.94,155.71 475.21,145.63 475.46,152.63 475.71,145.07 476.00,154.92 476.15,146.15 476.34,152.34 476.50,148.37 476.71,155.13 476.93,143.78 477.22,149.62 477.39,153.40 477.61,155.25 477.77,147.05 478.08,152.49 478.25,149.88 478.39,151.68 478.59,141.72 478.89,152.25 479.11,154.27 479.31,154.22 479.50,150.49 479.71,143.40 479.94,151.70 480.11,152.96 480.25,140.88 480.47,151.40 480.77,143.91 481.07,151.34 481.26,144.82 481.44,151.13 481.66,142.21 481.95,145.01 482.21,136.79 482.40,147.46 482.61,133.82 482.91,144.42 483.13,134.57 483.29,145.87 483.43,132.35 483.65,143.03 483.93,132.28 484.08,139.07 484.34,130.91 484.61,142.55 484.76,130.42 484.90,138.71 485.15,127.25 485.39,134.79 485.70,136.80 485.98,127.34 486.22,133.06 486.50,134.86 486.79,118.60 486.96,133.27 487.22,116.38 487.42,132.82 487.69,127.66 487.90,126.92 488.09,126.70 488.35,117.26 488.61,110.83 488.90,116.22 489.07,113.34 489.37,106.43 489.50,106.93 489.67,112.99 489.84,108.79 490.11,113.71 490.39,92.88 490.57,113.36 490.74,90.44 490.92,93.26 491.22,108.13 491.42,98.72 491.67,102.99 491.87,106.38 492.13,95.60 492.36,96.83 492.60,97.74 492.79,90.52 493.02,93.83 493.17,75.35 493.39,69.66 493.69,82.80 493.90,87.67 494.11,92.72 494.42,85.49 494.65,83.01 494.88,85.92 495.10,96.39 495.40,109.53 495.62,101.03 495.85,108.36 496.03,117.76 496.27,109.34 496.44,109.29 496.71,105.11 496.91,126.80 497.09,108.25 497.24,122.20 497.54,115.35 497.79,132.46 497.93,118.06 498.16,132.58 498.33,126.48 498.57,132.70 498.87,136.95 499.11,132.80 499.35,127.33 499.51,142.23 499.66,141.95 499.79,143.86 500.06,140.32 500.33,140.53 500.60,146.11 500.78,150.11 500.92,146.02 501.16,140.91 501.35,142.32 501.63,152.10 501.89,145.52 502.12,152.54 502.36,144.45 502.55,147.65 502.81,149.96 503.02,147.23 503.28,151.24 503.47,154.67 503.66,152.92 503.88,146.86 504.07,144.24 504.36,155.02 504.64,145.41 504.82,149.83 505.02,146.89 505.31,146.58 505.49,149.51 505.72,152.19 505.98,138.94 506.27,147.52 506.42,137.47 506.68,147.33 506.82,145.94 507.12,139.62 507.39,135.13 507.62,147.99 507.91,134.73 508.14,142.49 508.41,143.96 508.54,138.10 508.73,142.59 508.88,144.76 509.18,131.93 509.41,143.09 509.67,139.93 509.93,137.35 510.19,135.92 510.35,136.29 510.64,138.08 510.89,131.51 511.18,124.14 511.33,129.75 511.53,124.62 511.81,132.09 511.94,119.18 512.20,120.63 512.46,117.90 512.64,127.87 512.81,106.94 513.02,118.96 513.32,123.38 513.59,106.19 513.82,107.44 514.02,103.16 514.24,102.42 514.54,115.49 514.82,93.57 514.98,109.63 515.22,93.28 515.44,113.10 515.64,106.98 515.79,91.35 516.03,86.23 516.26,107.68 516.53,98.39 516.79,113.30 517.03,101.63 517.28,116.34 517.45,102.14 517.67,123.55 517.84,116.24 518.10,125.54 518.41,120.02 518.55,128.48 518.80,117.91 518.98,137.04 519.28,124.13 519.46,135.54 519.65,132.62 519.88,140.48 520.05,133.72 520.19,146.83 520.45,137.13 520.65,152.53 520.95,144.78 521.12,153.19 521.38,142.98 521.52,146.65 521.78,150.26 521.93,156.06 522.21,147.70 522.45,153.12 522.62,148.78 522.90,156.50 523.03,150.76 523.19,153.20 523.49,153.93 523.71,156.50 523.97,155.67 524.16,156.50 524.30,154.31 524.49,156.50 524.68,156.50 524.81,156.50 524.99,154.60 525.13,156.31 525.27,156.50 525.48,156.50 525.62,155.30 525.84,156.50 525.98,156.50" fill="none" stroke="#b80000" stroke-width="0.5" stroke-opacity="0.95"/>
<polyline points="463.00,156.50 463.40,156.50 463.77,156.24 464.11,156.38 464.47,156.50 464.82,156.50 465.03,156.50 465.35,156.50 465.57,156.50 465.82,156.29 466.08,156.50 466.29,156.50 466.62,153.96 466.96,156.50 467.17,150.68 467.37,155.44 467.57,154.67 467.87,152.54 468.07,152.80 468.43,156.50 468.73,156.32 469.13,155.43 469.52,150.37 469.80,156.50 470.02,156.50 470.41,156.50 470.70,150.32 470.93,154.64 471.30,149.33 471.53,154.24 471.79,152.44 472.17,151.17 472.38,154.03 472.71,153.29 472.96,148.00 473.25,156.20 473.45,148.07 473.65,154.53 473.84,147.89 474.09,156.18 474.49,147.61 474.80,150.26 475.07,151.29 475.34,149.67 475.68,153.08 476.08,149.10 476.44,154.01 476.63,153.23 477.02,150.48 477.40,149.13 477.80,143.53 477.98,146.45 478.25,143.86 478.50,150.92 478.80,141.53 479.11,150.79 479.39,143.97 479.79,154.16 480.07,139.76 480.30,147.05 480.58,139.89 480.84,142.25 481.15,141.53 481.38,148.93 481.80,148.85 482.07,138.89 482.35,134.46 482.66,144.06 482.91,132.87 483.21,142.13 483.61,140.09 483.83,143.95 484.16,129.10 484.40,142.47 484.60,135.63 484.89,135.07 485.20,132.09 485.57,140.11 485.91,130.51 486.09,135.68 486.46,127.68 486.67,129.79 486.95,132.13 487.20,120.08 487.59,122.77 487.92,129.37 488.11,115.77 488.46,122.36 488.85,106.91 489.26,121.80 489.51,101.62 489.74,103.32 489.93,96.46 490.19,110.21 490.39,95.81 490.77,110.69 491.12,88.56 491.51,95.70 491.81,85.09 492.17,93.28 492.59,91.34 492.78,85.85 493.06,85.80 493.37,93.61 493.61,88.58 493.83,95.73 494.15,80.01 494.46,93.08 494.71,86.99 494.95,97.49 495.35,110.69 495.56,102.46 495.92,93.97 496.20,103.46 496.58,115.59 496.82,121.14 497.06,108.26 497.41,130.75 497.77,114.13 498.05,133.60 498.46,134.83 498.66,137.11 498.88,123.99 499.08,135.58 499.33,134.19 499.68,141.41 499.97,135.16 500.27,145.70 500.54,139.38 500.86,147.29 501.18,140.08 501.45,153.76 501.86,147.12 502.14,154.92 502.38,151.44 502.73,147.17 503.07,145.80 503.33,155.09 503.62,145.37 503.98,155.04 504.37,145.08 504.63,154.88 505.05,140.84 505.46,150.66 505.74,139.38 506.10,147.24 506.45,139.36 506.74,145.31 507.16,141.22 507.55,139.02 507.86,144.76 508.19,144.24 508.48,134.53 508.74,141.99 509.00,138.87 509.26,142.83 509.60,133.97 509.97,135.00 510.18,129.96 510.43,134.78 510.66,121.41 510.98,134.65 511.25,130.50 511.58,122.72 511.78,117.83 512.12,129.20 512.31,126.69 512.63,121.46 512.95,105.98 513.32,123.26 513.52,103.38 513.74,109.79 514.14,111.86 514.37,99.84 514.57,95.15 514.80,109.65 515.00,95.11 515.25,111.41 515.64,90.77 516.04,98.92 516.29,88.88 516.48,114.58 516.69,110.95 516.95,112.32 517.16,106.56 517.58,122.35 517.94,121.47 518.22,121.22 518.41,114.49 518.60,128.37 518.80,118.11 519.17,134.28 519.46,137.29 519.79,144.57 520.08,136.69 520.27,149.46 520.50,147.21 520.79,151.61 521.09,144.70 521.35,145.67 521.58,144.31 521.89,150.97 522.24,149.66 522.46,152.13 522.88,156.50 523.28,153.02 523.47,152.21 523.73,156.50 524.08,155.33 524.45,156.50 524.76,153.99 525.12,156.50 525.37,155.23 525.61,156.50 525.94,156.06" fill="none" stroke="#c80000" stroke-width="0.45" stroke-opacity="0.9"/>
<polyline points="463.00,155.44 463.61,156.50 464.26,156.30 464.75,156.50 465.08,155.52 465.63,156.50 465.96,156.34 466.46,156.21 467.11,156.50 467.57,156.50 468.09,155.15 468.68,154.64 469.00,154.81 469.33,156.50 469.69,155.85 470.36,155.80 470.69,153.39 471.00,156.21 471.64,152.87 472.08,155.19 472.44,152.86 473.02,155.81 473.34,155.34 473.90,154.01 474.48,147.36 475.11,153.65 475.57,145.81 476.03,154.44 476.61,145.60 477.27,151.46 477.79,142.78 478.47,154.69 479.05,143.12 479.45,146.71 480.07,148.23 480.53,145.76 481.14,146.37 481.81,146.43 482.45,137.99 483.08,134.70 483.58,140.88 484.16,144.61 484.71,128.89 485.30,140.59 485.87,130.01 486.19,121.07 486.59,121.22 487.20,125.79 487.52,114.77 488.22,120.30 488.64,123.25 489.32,113.23 489.87,99.92 490.28,116.17 490.59,102.07 491.19,108.62 491.72,104.34 492.34,99.32 492.66,96.60 493.03,82.87 493.46,75.73 493.89,89.65 494.31,76.85 494.89,101.54 495.22,104.35 495.59,102.70 496.20,113.71 496.88,125.56 497.39,127.50 498.01,133.57 498.70,137.89 499.19,137.33 499.79,141.04 500.38,143.13 500.71,136.69 501.36,153.83 501.67,142.79 502.22,151.57 502.54,152.41 503.10,151.08 503.59,145.75 504.14,154.53 504.67,142.96 505.11,153.71 505.71,141.02 506.37,148.90 507.07,147.31 507.40,144.38 507.70,147.14 508.09,139.28 508.61,144.16 509.18,143.63 509.74,131.03 510.22,135.98 510.53,121.33 511.23,125.04 511.65,119.69 512.25,117.24 512.86,114.23 513.19,117.35 513.86,111.85 514.23,115.50 514.56,99.13 514.99,115.97 515.49,112.04 515.99,107.38 516.29,107.39 516.84,109.09 517.47,119.44 517.83,108.33 518.39,127.76 518.74,131.13 519.06,121.15 519.56,143.01 520.20,142.27 520.79,145.64 521.27,142.46 521.66,149.02 522.13,147.51 522.49,155.78 523.03,149.99 523.42,156.50 523.74,155.60 524.36,156.50 524.73,156.50 525.24,156.50 525.87,155.92" fill="none" stroke="#f0b0b0" stroke-width="0.4" stroke-opacity="0.55"/>
<polyline points="463.00,153.91 463.20,156.50 463.40,153.67 463.60,156.50 463.80,154.41 464.00,156.47 464.20,153.49 464.40,155.78 464.60,152.55 464.80,155.33 465.00,153.39 465.20,155.58 465.40,152.94 465.60,155.19 465.80,150.99 466.00,154.10 466.20,151.17 466.40,153.81 466.60,151.65 466.80,153.98 467.00,151.04 467.20,153.08 467.40,150.86 467.60,152.86 467.80,149.66 468.00,152.49 468.20,149.63 468.40,152.51 468.60,149.70 468.80,152.31 469.00,150.06 469.20,152.52 469.40,149.88 469.60,152.34 469.80,149.68 470.00,151.95 470.20,149.78 470.40,151.97 470.60,149.13 470.80,151.50 471.00,149.13 471.20,151.72 471.40,149.23 471.60,151.40 471.80,148.93 472.00,151.29 472.20,146.86 472.40,150.84 472.60,148.82 472.80,150.99 473.00,146.80 473.20,150.00 473.40,148.13 473.60,150.52 473.80,146.89 474.00,149.40 474.20,146.84 474.40,149.15 474.60,146.03 474.80,148.82 475.00,145.90 475.20,148.22 475.40,145.77 475.60,147.89 475.80,144.89 476.00,147.15 476.20,144.77 476.40,146.93 476.60,144.74 476.80,146.92 477.00,143.31 477.20,145.91 477.40,142.95 477.60,145.50 477.80,142.34 478.00,145.20 478.20,141.85 478.40,144.42 478.60,141.88 478.80,144.25 479.00,141.93 479.20,144.06 479.40,140.28 479.60,143.00 479.80,139.70 480.00,142.40 480.20,140.66 480.40,142.78 480.60,138.71 480.80,141.14 481.00,138.97 481.20,140.97 481.40,138.28 481.60,140.63 481.80,135.98 482.00,138.46 482.20,134.95 482.40,137.20 482.60,133.56 482.80,135.68 483.00,133.01 483.20,135.06 483.40,130.84 483.60,133.38 483.80,130.34 484.00,132.66 484.20,130.20 484.40,133.30 484.60,127.29 484.80,129.70 485.00,126.53 485.20,129.06 485.40,124.49 485.60,126.88 485.80,122.46 486.00,125.11 486.20,120.32 486.40,123.34 486.60,119.90 486.80,122.18 487.00,116.48 487.20,119.19 487.40,115.86 487.60,117.97 487.80,113.23 488.00,115.44 488.20,112.07 488.40,114.95 488.60,106.86 488.80,109.65 489.00,105.63 489.20,107.88 489.40,100.08 489.60,102.57 489.80,96.78 490.00,99.51 490.20,94.92 490.40,96.92 490.60,92.93 490.80,94.98 491.00,90.18 491.20,92.51 491.40,87.20 491.60,89.98 491.80,84.85 492.00,87.12 492.20,79.89 492.40,82.44 492.60,76.42 492.80,78.78 493.00,74.44 493.20,77.13 493.40,70.06 493.60,72.26 493.80,70.18 494.00,73.24 494.20,74.47 494.40,76.89 494.60,81.43 494.80,84.06 495.00,81.59 495.20,83.87 495.40,88.20 495.60,90.60 495.80,91.39 496.00,94.24 496.20,96.63 496.40,99.61 496.60,102.47 496.80,105.29 497.00,107.45 497.20,109.58 497.40,111.38 497.60,113.60 497.80,114.84 498.00,117.44 498.20,119.57 498.40,121.68 498.60,120.71 498.80,123.43 499.00,124.20 499.20,126.95 499.40,128.12 499.60,130.21 499.80,130.11 500.00,132.24 500.20,133.06 500.40,135.57 500.60,135.65 500.80,137.92 501.00,140.30 501.20,142.41 501.40,140.23 501.60,142.26 501.80,140.66 502.00,143.48 502.20,141.98 502.40,145.07 502.60,144.10 502.80,146.57 503.00,144.98 503.20,148.05 503.40,144.52 503.60,146.64 503.80,143.27 504.00,146.26 504.20,143.44 504.40,145.89 504.60,141.71 504.80,143.77 505.00,141.18 505.20,143.25 505.40,139.76 505.60,142.15 505.80,138.71 506.00,141.02 506.20,136.81 506.40,140.23 506.60,137.60 506.80,139.65 507.00,135.67 507.20,137.84 507.40,135.75 507.60,137.92 507.80,133.17 508.00,135.41 508.20,131.29 508.40,134.24 508.60,130.95 508.80,133.28 509.00,130.19 509.20,132.59 509.40,127.90 509.60,130.02 509.80,125.29 510.00,127.92 510.20,121.82 510.40,124.97 510.60,120.91 510.80,124.02 511.00,118.92 511.20,121.16 511.40,116.11 511.60,118.27 511.80,114.78 512.00,117.25 512.20,111.58 512.40,114.18 512.60,107.83 512.80,110.85 513.00,105.77 513.20,107.94 513.40,102.43 513.60,105.11 513.80,100.04 514.00,102.96 514.20,97.97 514.40,100.65 514.60,96.99 514.80,99.16 515.00,92.61 515.20,94.69 515.40,89.47 515.60,92.09 515.80,86.89 516.00,89.54 516.20,88.06 516.40,90.75 516.60,94.68 516.80,96.81 517.00,96.43 517.20,98.71 517.40,101.06 517.60,103.14 517.80,105.40 518.00,107.64 518.20,110.28 518.40,112.37 518.60,115.83 518.80,117.97 519.00,120.44 519.20,122.88 519.40,125.03 519.60,127.85 519.80,130.43 520.00,132.75 520.20,134.33 520.40,136.91 520.60,137.69 520.80,140.01 521.00,140.04 521.20,142.29 521.40,142.61 521.60,145.51 521.80,146.03 522.00,149.14 522.20,147.59 522.40,149.69 522.60,148.29 522.80,150.58 523.00,149.58 523.20,151.91 523.40,150.02 523.60,152.44 523.80,151.55 524.00,154.10 524.20,152.15 524.40,154.50 524.60,153.41 524.80,155.54 525.00,154.23 525.20,156.25 525.40,154.31 525.60,156.50 525.80,154.69 526.00,156.50" fill="none" stroke="#bf0000" stroke-width="0.45" stroke-opacity="0.85"/>
<polygon points="492.60,92.55 493.50,68.30 494.40,92.55" fill="#bf0000" fill-opacity="0.9"/>
<polygon points="515.10,107.42 516.00,85.70 516.90,107.42" fill="#bf0000" fill-opacity="0.9"/>
<line x1="462.5" y1="67.6" x2="462.5" y2="156.5" stroke="#96d25c" stroke-width="1.15"/>
<line x1="462.5" y1="113.5" x2="504.5" y2="113.5" stroke="#96d25c" stroke-width="1.15"/>
<line x1="505.4" y1="67.6" x2="505.4" y2="156.5" stroke="#2a6fb2" stroke-width="0.9"/>
<line x1="504.5" y1="67.6" x2="504.5" y2="156.5" stroke="#96d25c" stroke-width="1.15"/>
<line x1="553.5" y1="67.6" x2="553.5" y2="156.5" stroke="#2a6fb2" stroke-width="1.15"/>
<line x1="504.5" y1="116.5" x2="553.5" y2="116.5" stroke="#2a6fb2" stroke-width="1.15"/>
<text x="464.0" y="110.9" font-size="7.0" fill="#96d25c" stroke="#96d25c" stroke-width="0.35" font-weight="bold" font-family="Liberation Sans, sans-serif" textLength="46.8" lengthAdjust="spacingAndGlyphs">R5: 68.969%</text>
<text x="504.3" y="114.1" font-size="7.0" fill="#2a6fb2" stroke="#2a6fb2" stroke-width="0.35" font-weight="bold" font-family="Liberation Sans, sans-serif" textLength="46.6" lengthAdjust="spacingAndGlyphs">R4: 30.651%</text>
<text x="0" y="0" font-size="10.4" font-weight="bold" text-anchor="middle" fill="#000" font-family="Liberation Sans, sans-serif" transform="translate(449.3,110.9) rotate(-90)">Count</text>
<text x="461" y="175.1" font-size="10.9" fill="#000" text-anchor="start" font-weight="bold" font-family="Liberation Sans, sans-serif" >Annexin V AF647</text>
<rect x="561" y="61" width="115" height="115" fill="#fff"/>
<rect x="561" y="61" width="1" height="115" fill="#a0a0a0"/>
<line x1="578.5" y1="67.5" x2="672.5" y2="67.5" stroke="#c8c8c8" stroke-width="1"/>
<line x1="581.5" y1="67.5" x2="581.5" y2="156.5" stroke="#c8c8c8" stroke-width="1"/>
<line x1="581.5" y1="156.5" x2="672.5" y2="156.5" stroke="#c8c8c8" stroke-width="1"/>
<line x1="672.5" y1="67.5" x2="672.5" y2="156.5" stroke="#c8c8c8" stroke-width="1"/>
<line x1="579.3" y1="150.92" x2="581.5" y2="150.92" stroke="#bdbdbd" stroke-width="0.6"/>
<line x1="579.3" y1="145.54" x2="581.5" y2="145.54" stroke="#bdbdbd" stroke-width="0.6"/>
<line x1="579.3" y1="140.16" x2="581.5" y2="140.16" stroke="#bdbdbd" stroke-width="0.6"/>
<line x1="579.3" y1="134.78" x2="581.5" y2="134.78" stroke="#bdbdbd" stroke-width="0.6"/>
<line x1="579.3" y1="129.40" x2="581.5" y2="129.40" stroke="#bdbdbd" stroke-width="0.6"/>
<line x1="579.3" y1="124.02" x2="581.5" y2="124.02" stroke="#bdbdbd" stroke-width="0.6"/>
<line x1="579.3" y1="118.64" x2="581.5" y2="118.64" stroke="#bdbdbd" stroke-width="0.6"/>
<line x1="579.3" y1="113.26" x2="581.5" y2="113.26" stroke="#bdbdbd" stroke-width="0.6"/>
<line x1="579.3" y1="107.88" x2="581.5" y2="107.88" stroke="#bdbdbd" stroke-width="0.6"/>
<line x1="579.3" y1="102.50" x2="581.5" y2="102.50" stroke="#bdbdbd" stroke-width="0.6"/>
<line x1="579.3" y1="97.12" x2="581.5" y2="97.12" stroke="#bdbdbd" stroke-width="0.6"/>
<line x1="579.3" y1="91.74" x2="581.5" y2="91.74" stroke="#bdbdbd" stroke-width="0.6"/>
<line x1="579.3" y1="86.36" x2="581.5" y2="86.36" stroke="#bdbdbd" stroke-width="0.6"/>
<line x1="579.3" y1="80.98" x2="581.5" y2="80.98" stroke="#bdbdbd" stroke-width="0.6"/>
<line x1="579.3" y1="75.60" x2="581.5" y2="75.60" stroke="#bdbdbd" stroke-width="0.6"/>
<line x1="579.3" y1="70.22" x2="581.5" y2="70.22" stroke="#bdbdbd" stroke-width="0.6"/>
<line x1="578.0" y1="156.3" x2="581.0" y2="156.3" stroke="#b0b0b0" stroke-width="0.7"/>
<text x="575.4" y="158.50" font-size="6.4" fill="#000" text-anchor="end" font-weight="bold" font-family="Liberation Sans, sans-serif" stroke="#000" stroke-width="0.15">0</text>
<line x1="578.0" y1="129.4" x2="581.0" y2="129.4" stroke="#b0b0b0" stroke-width="0.7"/>
<text x="575.4" y="131.60" font-size="6.4" fill="#000" text-anchor="end" font-weight="bold" font-family="Liberation Sans, sans-serif" stroke="#000" stroke-width="0.15">10</text>
<line x1="578.0" y1="102.50000000000001" x2="581.0" y2="102.50000000000001" stroke="#b0b0b0" stroke-width="0.7"/>
<text x="575.4" y="104.70" font-size="6.4" fill="#000" text-anchor="end" font-weight="bold" font-family="Liberation Sans, sans-serif" stroke="#000" stroke-width="0.15">20</text>
<line x1="578.0" y1="75.60000000000001" x2="581.0" y2="75.60000000000001" stroke="#b0b0b0" stroke-width="0.7"/>
<text x="575.4" y="77.80" font-size="6.4" fill="#000" text-anchor="end" font-weight="bold" font-family="Liberation Sans, sans-serif" stroke="#000" stroke-width="0.15">30</text>
<line x1="578.0" y1="67.53000000000002" x2="581.0" y2="67.53000000000002" stroke="#b0b0b0" stroke-width="0.7"/>
<text x="575.4" y="69.73" font-size="6.4" fill="#000" text-anchor="end" font-weight="bold" font-family="Liberation Sans, sans-serif" stroke="#000" stroke-width="0.15">33</text>
<line x1="581.00" y1="156.3" x2="581.00" y2="158.8" stroke="#b0b0b0" stroke-width="0.7"/>
<line x1="585.59" y1="156.3" x2="585.59" y2="157.60000000000002" stroke="#c0c0c0" stroke-width="0.5"/>
<line x1="588.27" y1="156.3" x2="588.27" y2="157.60000000000002" stroke="#c0c0c0" stroke-width="0.5"/>
<line x1="590.17" y1="156.3" x2="590.17" y2="157.60000000000002" stroke="#c0c0c0" stroke-width="0.5"/>
<line x1="591.65" y1="156.3" x2="591.65" y2="157.60000000000002" stroke="#c0c0c0" stroke-width="0.5"/>
<line x1="592.85" y1="156.3" x2="592.85" y2="157.60000000000002" stroke="#c0c0c0" stroke-width="0.5"/>
<line x1="593.87" y1="156.3" x2="593.87" y2="157.60000000000002" stroke="#c0c0c0" stroke-width="0.5"/>
<line x1="594.76" y1="156.3" x2="594.76" y2="157.60000000000002" stroke="#c0c0c0" stroke-width="0.5"/>
<line x1="595.54" y1="156.3" x2="595.54" y2="157.60000000000002" stroke="#c0c0c0" stroke-width="0.5"/>
<text x="580.10" y="165.90" font-size="6.6" font-weight="bold" fill="#000" stroke="#000" stroke-width="0.12" text-anchor="middle" font-family="Liberation Sans, sans-serif">10<tspan dy="-2.5" font-size="4.3">0</tspan></text>
<line x1="596.23" y1="156.3" x2="596.23" y2="158.8" stroke="#b0b0b0" stroke-width="0.7"/>
<line x1="600.82" y1="156.3" x2="600.82" y2="157.60000000000002" stroke="#c0c0c0" stroke-width="0.5"/>
<line x1="603.50" y1="156.3" x2="603.50" y2="157.60000000000002" stroke="#c0c0c0" stroke-width="0.5"/>
<line x1="605.40" y1="156.3" x2="605.40" y2="157.60000000000002" stroke="#c0c0c0" stroke-width="0.5"/>
<line x1="606.88" y1="156.3" x2="606.88" y2="157.60000000000002" stroke="#c0c0c0" stroke-width="0.5"/>
<line x1="608.09" y1="156.3" x2="608.09" y2="157.60000000000002" stroke="#c0c0c0" stroke-width="0.5"/>
<line x1="609.11" y1="156.3" x2="609.11" y2="157.60000000000002" stroke="#c0c0c0" stroke-width="0.5"/>
<line x1="609.99" y1="156.3" x2="609.99" y2="157.60000000000002" stroke="#c0c0c0" stroke-width="0.5"/>
<line x1="610.77" y1="156.3" x2="610.77" y2="157.60000000000002" stroke="#c0c0c0" stroke-width="0.5"/>
<text x="595.33" y="165.90" font-size="6.6" font-weight="bold" fill="#000" stroke="#000" stroke-width="0.12" text-anchor="middle" font-family="Liberation Sans, sans-serif">10<tspan dy="-2.5" font-size="4.3">1</tspan></text>
<line x1="611.47" y1="156.3" x2="611.47" y2="158.8" stroke="#b0b0b0" stroke-width="0.7"/>
<line x1="616.05" y1="156.3" x2="616.05" y2="157.60000000000002" stroke="#c0c0c0" stroke-width="0.5"/>
<line x1="618.73" y1="156.3" x2="618.73" y2="157.60000000000002" stroke="#c0c0c0" stroke-width="0.5"/>
<line x1="620.64" y1="156.3" x2="620.64" y2="157.60000000000002" stroke="#c0c0c0" stroke-width="0.5"/>
<line x1="622.11" y1="156.3" x2="622.11" y2="157.60000000000002" stroke="#c0c0c0" stroke-width="0.5"/>
<line x1="623.32" y1="156.3" x2="623.32" y2="157.60000000000002" stroke="#c0c0c0" stroke-width="0.5"/>
<line x1="624.34" y1="156.3" x2="624.34" y2="157.60000000000002" stroke="#c0c0c0" stroke-width="0.5"/>
<line x1="625.22" y1="156.3" x2="625.22" y2="157.60000000000002" stroke="#c0c0c0" stroke-width="0.5"/>
<line x1="626.00" y1="156.3" x2="626.00" y2="157.60000000000002" stroke="#c0c0c0" stroke-width="0.5"/>
<text x="610.57" y="165.90" font-size="6.6" font-weight="bold" fill="#000" stroke="#000" stroke-width="0.12" text-anchor="middle" font-family="Liberation Sans, sans-serif">10<tspan dy="-2.5" font-size="4.3">2</tspan></text>
<line x1="626.70" y1="156.3" x2="626.70" y2="158.8" stroke="#b0b0b0" stroke-width="0.7"/>
<line x1="631.29" y1="156.3" x2="631.29" y2="157.60000000000002" stroke="#c0c0c0" stroke-width="0.5"/>
<line x1="633.97" y1="156.3" x2="633.97" y2="157.60000000000002" stroke="#c0c0c0" stroke-width="0.5"/>
<line x1="635.87" y1="156.3" x2="635.87" y2="157.60000000000002" stroke="#c0c0c0" stroke-width="0.5"/>
<line x1="637.35" y1="156.3" x2="637.35" y2="157.60000000000002" stroke="#c0c0c0" stroke-width="0.5"/>
<line x1="638.55" y1="156.3" x2="638.55" y2="157.60000000000002" stroke="#c0c0c0" stroke-width="0.5"/>
<line x1="639.57" y1="156.3" x2="639.57" y2="157.60000000000002" stroke="#c0c0c0" stroke-width="0.5"/>
<line x1="640.46" y1="156.3" x2="640.46" y2="157.60000000000002" stroke="#c0c0c0" stroke-width="0.5"/>
<line x1="641.24" y1="156.3" x2="641.24" y2="157.60000000000002" stroke="#c0c0c0" stroke-width="0.5"/>
<text x="625.80" y="165.90" font-size="6.6" font-weight="bold" fill="#000" stroke="#000" stroke-width="0.12" text-anchor="middle" font-family="Liberation Sans, sans-serif">10<tspan dy="-2.5" font-size="4.3">3</tspan></text>
<line x1="641.93" y1="156.3" x2="641.93" y2="158.8" stroke="#b0b0b0" stroke-width="0.7"/>
<line x1="646.52" y1="156.3" x2="646.52" y2="157.60000000000002" stroke="#c0c0c0" stroke-width="0.5"/>
<line x1="649.20" y1="156.3" x2="649.20" y2="157.60000000000002" stroke="#c0c0c0" stroke-width="0.5"/>
<line x1="651.10" y1="156.3" x2="651.10" y2="157.60000000000002" stroke="#c0c0c0" stroke-width="0.5"/>
<line x1="652.58" y1="156.3" x2="652.58" y2="157.60000000000002" stroke="#c0c0c0" stroke-width="0.5"/>
<line x1="653.79" y1="156.3" x2="653.79" y2="157.60000000000002" stroke="#c0c0c0" stroke-width="0.5"/>
<line x1="654.81" y1="156.3" x2="654.81" y2="157.60000000000002" stroke="#c0c0c0" stroke-width="0.5"/>
<line x1="655.69" y1="156.3" x2="655.69" y2="157.60000000000002" stroke="#c0c0c0" stroke-width="0.5"/>
<line x1="656.47" y1="156.3" x2="656.47" y2="157.60000000000002" stroke="#c0c0c0" stroke-width="0.5"/>
<text x="641.03" y="165.90" font-size="6.6" font-weight="bold" fill="#000" stroke="#000" stroke-width="0.12" text-anchor="middle" font-family="Liberation Sans, sans-serif">10<tspan dy="-2.5" font-size="4.3">4</tspan></text>
<line x1="657.17" y1="156.3" x2="657.17" y2="158.8" stroke="#b0b0b0" stroke-width="0.7"/>
<line x1="661.75" y1="156.3" x2="661.75" y2="157.60000000000002" stroke="#c0c0c0" stroke-width="0.5"/>
<line x1="664.43" y1="156.3" x2="664.43" y2="157.60000000000002" stroke="#c0c0c0" stroke-width="0.5"/>
<line x1="666.34" y1="156.3" x2="666.34" y2="157.60000000000002" stroke="#c0c0c0" stroke-width="0.5"/>
<line x1="667.81" y1="156.3" x2="667.81" y2="157.60000000000002" stroke="#c0c0c0" stroke-width="0.5"/>
<line x1="669.02" y1="156.3" x2="669.02" y2="157.60000000000002" stroke="#c0c0c0" stroke-width="0.5"/>
<line x1="670.04" y1="156.3" x2="670.04" y2="157.60000000000002" stroke="#c0c0c0" stroke-width="0.5"/>
<line x1="670.92" y1="156.3" x2="670.92" y2="157.60000000000002" stroke="#c0c0c0" stroke-width="0.5"/>
<line x1="671.70" y1="156.3" x2="671.70" y2="157.60000000000002" stroke="#c0c0c0" stroke-width="0.5"/>
<text x="656.27" y="165.90" font-size="6.6" font-weight="bold" fill="#000" stroke="#000" stroke-width="0.12" text-anchor="middle" font-family="Liberation Sans, sans-serif">10<tspan dy="-2.5" font-size="4.3">5</tspan></text>
<line x1="672.40" y1="156.3" x2="672.40" y2="158.8" stroke="#b0b0b0" stroke-width="0.7"/>
<text x="668.90" y="165.90" font-size="6.6" font-weight="bold" fill="#000" stroke="#000" stroke-width="0.12" text-anchor="middle" font-family="Liberation Sans, sans-serif">10<tspan dy="-2.5" font-size="4.3">6</tspan></text>
<polygon points="581.00,156.16 581.40,155.89 581.80,155.19 582.20,154.81 582.60,154.16 583.00,154.02 583.40,153.19 583.80,152.67 584.20,152.58 584.60,152.28 585.00,152.64 585.40,152.12 585.80,152.28 586.20,152.28 586.60,152.55 587.00,152.01 587.40,151.76 587.80,151.91 588.20,151.99 588.60,151.40 589.00,151.46 589.40,151.32 589.80,151.37 590.20,151.51 590.60,151.20 591.00,151.42 591.40,151.08 591.80,151.22 592.20,151.52 592.60,151.67 593.00,150.98 593.40,150.58 593.80,150.52 594.20,150.85 594.60,150.45 595.00,150.30 595.40,150.51 595.80,150.36 596.20,149.25 596.60,146.55 597.00,143.99 597.40,143.32 597.80,141.97 598.20,141.49 598.60,141.50 599.00,139.36 599.40,138.40 599.80,138.52 600.20,137.07 600.60,137.54 601.00,134.78 601.40,134.27 601.80,132.84 602.20,133.91 602.60,131.28 603.00,130.48 603.40,128.45 603.80,126.26 604.20,124.65 604.60,123.91 605.00,121.17 605.40,120.88 605.80,118.12 606.20,115.35 606.60,109.30 607.00,105.54 607.40,100.86 607.80,96.54 608.20,95.87 608.60,96.98 609.00,93.66 609.40,92.42 609.80,91.76 610.20,92.43 610.60,91.82 611.00,90.54 611.40,86.99 611.80,82.20 612.20,79.03 612.60,74.99 613.00,71.53 613.40,75.11 613.80,79.54 614.20,83.08 614.60,86.38 615.00,90.56 615.40,96.85 615.80,100.70 616.20,106.32 616.60,111.17 617.00,118.84 617.40,119.51 617.80,122.00 618.20,126.76 618.60,127.70 619.00,130.14 619.40,132.91 619.80,135.92 620.20,137.61 620.60,139.53 621.00,139.19 621.40,140.35 621.80,140.95 622.20,142.44 622.60,143.17 623.00,143.97 623.40,139.79 623.80,137.78 624.20,132.36 624.60,128.01 625.00,123.23 625.40,120.09 625.80,117.17 626.20,111.55 626.60,110.25 627.00,107.92 627.40,105.02 627.80,103.31 628.20,101.57 628.60,98.75 629.00,96.54 629.40,95.13 629.80,93.22 630.20,91.77 630.60,92.00 631.00,89.69 631.40,90.50 631.80,89.62 632.20,88.34 632.60,91.39 633.00,94.32 633.40,97.07 633.80,100.53 634.20,101.79 634.60,104.59 635.00,108.01 635.40,112.74 635.80,117.01 636.20,121.85 636.60,125.96 637.00,132.86 637.40,132.42 637.80,134.08 638.20,136.39 638.60,138.31 639.00,141.79 639.40,143.50 639.80,144.98 640.20,147.22 640.60,148.33 641.00,149.97 641.40,151.54 641.80,153.51 642.20,154.39 642.60,154.63 643.00,155.46 643.40,155.47 643.80,155.81 643.80,156.30 643.40,156.30 643.00,156.30 642.60,156.30 642.20,156.30 641.80,156.30 641.40,156.30 641.00,156.30 640.60,156.15 640.20,154.12 639.80,155.55 639.40,151.60 639.00,152.33 638.60,153.05 638.20,147.67 637.80,149.90 637.40,148.80 637.00,141.39 636.60,137.72 636.20,137.22 635.80,136.46 635.40,132.50 635.00,122.38 634.60,128.12 634.20,124.15 633.80,122.13 633.40,113.70 633.00,115.87 632.60,115.84 632.20,106.65 631.80,110.35 631.40,109.57 631.00,110.51 630.60,111.55 630.20,113.08 629.80,110.43 629.40,119.30 629.00,116.00 628.60,121.69 628.20,119.81 627.80,118.13 627.40,128.63 627.00,130.10 626.60,130.05 626.20,127.50 625.80,130.27 625.40,136.30 625.00,136.69 624.60,141.14 624.20,145.34 623.80,147.40 623.40,150.42 623.00,154.83 622.60,154.24 622.20,152.51 621.80,151.25 621.40,154.15 621.00,152.51 620.60,151.03 620.20,151.09 619.80,147.51 619.40,144.41 619.00,145.30 618.60,145.24 618.20,139.93 617.80,139.35 617.40,134.78 617.00,133.24 616.60,127.93 616.20,127.60 615.80,119.43 615.40,114.61 615.00,108.50 614.60,107.77 614.20,103.82 613.80,107.34 613.40,99.52 613.00,100.29 612.60,103.40 612.20,106.43 611.80,105.84 611.40,106.53 611.00,112.16 610.60,114.26 610.20,111.29 609.80,113.23 609.40,118.50 609.00,115.52 608.60,119.50 608.20,113.16 607.80,112.97 607.40,118.66 607.00,122.11 606.60,131.62 606.20,134.52 605.80,135.44 605.40,139.23 605.00,138.02 604.60,135.64 604.20,142.71 603.80,144.10 603.40,144.81 603.00,143.92 602.60,144.99 602.20,147.80 601.80,145.40 601.40,149.14 601.00,148.42 600.60,150.73 600.20,146.97 599.80,151.67 599.40,150.42 599.00,153.29 598.60,154.32 598.20,153.41 597.80,153.67 597.40,152.65 597.00,152.06 596.60,153.49 596.20,156.30 595.80,156.30 595.40,156.30 595.00,156.30 594.60,156.30 594.20,155.94 593.80,156.30 593.40,156.30 593.00,156.30 592.60,156.30 592.20,156.30 591.80,156.30 591.40,156.30 591.00,156.30 590.60,156.30 590.20,156.30 589.80,156.30 589.40,156.30 589.00,156.30 588.60,156.30 588.20,156.30 587.80,156.30 587.40,156.30 587.00,156.30 586.60,156.30 586.20,156.30 585.80,156.30 585.40,156.30 585.00,156.30 584.60,156.30 584.20,156.30 583.80,156.30 583.40,156.30 583.00,156.30 582.60,156.30 582.20,156.30 581.80,156.30 581.40,156.30 581.00,156.30" fill="#bf0000" fill-opacity="0.62"/>
<polyline points="581.00,156.09 581.20,156.30 581.37,155.78 581.58,156.30 581.80,156.30 582.05,156.17 582.25,155.87 582.43,156.30 582.61,156.30 582.80,154.90 583.00,156.30 583.15,155.11 583.29,153.47 583.47,156.30 583.67,155.73 583.84,154.63 584.14,154.47 584.35,154.00 584.59,156.30 584.74,153.98 584.95,155.14 585.09,155.08 585.39,155.63 585.66,156.30 585.81,156.30 585.98,155.21 586.28,152.37 586.44,156.30 586.65,156.30 586.81,156.30 586.97,151.83 587.20,156.30 587.37,156.30 587.62,155.25 587.77,156.25 587.92,154.91 588.08,156.30 588.23,155.47 588.46,156.30 588.73,156.30 589.02,152.68 589.32,156.30 589.60,153.24 589.79,154.47 590.05,151.11 590.24,156.30 590.55,153.85 590.80,153.62 590.93,152.27 591.17,152.42 591.35,150.88 591.60,155.92 591.79,152.47 592.05,156.30 592.28,152.94 592.46,156.30 592.60,151.09 592.79,156.30 593.05,156.30 593.30,155.81 593.45,151.46 593.70,156.30 594.00,151.83 594.27,154.35 594.46,150.26 594.69,154.94 594.89,151.73 595.13,156.30 595.42,150.86 595.69,154.82 595.91,154.26 596.17,152.75 596.32,148.36 596.61,148.30 596.76,146.42 596.97,155.00 597.15,143.64 597.31,152.69 597.57,143.96 597.71,152.66 597.88,141.68 598.05,144.44 598.25,141.14 598.52,150.53 598.68,140.94 598.90,154.10 599.20,153.04 599.40,144.55 599.67,145.56 599.83,145.59 599.98,136.86 600.24,142.98 600.47,140.57 600.65,139.96 600.90,145.39 601.08,144.48 601.34,145.25 601.50,144.65 601.72,143.76 601.87,142.82 602.04,135.08 602.35,146.26 602.48,131.90 602.67,140.61 602.92,132.92 603.11,137.29 603.36,132.69 603.58,136.41 603.80,134.87 604.01,127.22 604.26,127.80 604.50,130.42 604.74,125.85 605.04,127.85 605.34,137.10 605.60,134.37 605.90,131.44 606.09,133.47 606.34,112.26 606.63,117.95 606.76,111.01 606.98,126.05 607.17,105.87 607.43,107.21 607.65,97.71 607.84,112.89 608.01,97.13 608.29,111.99 608.52,94.72 608.78,111.74 609.04,109.65 609.24,116.32 609.48,92.23 609.73,99.77 609.89,91.30 610.18,102.58 610.32,115.41 610.48,108.63 610.68,92.03 610.84,111.00 611.00,110.85 611.28,93.33 611.48,105.46 611.67,99.83 611.80,89.77 612.08,98.89 612.22,78.61 612.39,100.67 612.61,87.54 612.87,94.00 613.16,73.95 613.39,97.22 613.65,76.80 613.83,93.01 613.99,105.15 614.26,107.99 614.54,97.01 614.81,102.30 614.96,107.71 615.18,110.43 615.34,94.50 615.64,104.89 615.88,109.36 616.13,120.46 616.29,120.80 616.43,128.80 616.73,112.54 616.97,125.07 617.12,130.04 617.33,127.59 617.50,121.29 617.74,135.36 617.90,124.72 618.19,126.86 618.45,126.07 618.70,141.37 618.89,137.82 619.03,137.31 619.34,137.75 619.64,145.30 619.77,135.27 619.95,144.69 620.25,143.85 620.47,149.35 620.76,140.70 620.99,148.15 621.26,149.88 621.56,147.11 621.74,153.51 621.96,146.25 622.14,141.76 622.29,150.62 622.56,145.33 622.76,151.49 623.00,150.45 623.27,152.58 623.47,139.15 623.69,150.63 623.99,133.78 624.26,140.91 624.42,144.23 624.59,143.46 624.84,125.68 625.07,139.31 625.25,122.58 625.40,128.77 625.64,130.08 625.82,132.23 626.11,113.74 626.38,118.03 626.61,115.68 626.90,125.27 627.06,116.16 627.21,127.03 627.42,109.13 627.70,121.63 627.91,117.78 628.07,110.06 628.36,101.25 628.60,112.93 628.78,96.68 629.04,116.99 629.20,102.86 629.37,113.48 629.59,93.74 629.89,115.36 630.10,111.37 630.35,99.15 630.56,108.55 630.86,109.55 631.10,111.18 631.26,103.42 631.41,104.59 631.71,97.38 631.90,88.41 632.18,110.32 632.32,96.93 632.61,101.70 632.78,93.48 633.06,106.19 633.22,94.95 633.51,108.11 633.69,116.18 633.89,119.62 634.18,101.89 634.44,118.39 634.66,104.94 634.83,118.98 635.02,110.73 635.26,125.50 635.44,115.78 635.68,132.73 635.94,126.67 636.17,134.02 636.44,124.91 636.72,142.76 636.99,130.55 637.14,137.92 637.43,144.62 637.74,144.33 637.89,141.50 638.19,145.78 638.32,137.75 638.54,143.77 638.70,148.65 638.99,149.76 639.23,153.16 639.39,150.27 639.52,144.08 639.72,153.57 639.94,145.78 640.09,148.15 640.23,146.51 640.42,155.90 640.67,148.59 640.82,156.03 641.13,151.01 641.40,156.30 641.65,155.00 641.90,156.30 642.19,154.26 642.40,156.30 642.61,154.66 642.90,156.30 643.07,156.01 643.33,156.30 643.55,156.30 643.83,156.30" fill="none" stroke="#b80000" stroke-width="0.5" stroke-opacity="0.95"/>
<polyline points="581.00,156.17 581.40,156.30 581.68,156.30 581.94,156.30 582.16,154.71 582.41,156.30 582.62,154.06 582.82,156.30 583.16,156.30 583.56,156.30 583.92,152.57 584.29,156.30 584.59,156.30 584.97,156.28 585.34,152.14 585.52,156.30 585.86,156.30 586.17,156.30 586.37,152.44 586.78,156.30 587.10,152.38 587.51,156.30 587.93,153.63 588.26,155.46 588.46,151.45 588.74,156.30 588.97,156.30 589.36,156.30 589.61,153.58 589.79,156.16 590.05,153.29 590.39,156.30 590.59,152.94 590.85,155.53 591.11,156.16 591.36,155.07 591.59,156.30 591.90,156.30 592.22,151.08 592.51,155.94 592.91,156.30 593.29,153.37 593.60,150.53 593.97,151.33 594.21,154.27 594.48,156.30 594.88,151.48 595.10,156.30 595.36,155.34 595.58,156.30 595.89,151.46 596.28,156.30 596.56,151.21 596.78,153.80 597.10,154.62 597.35,152.79 597.62,144.26 597.90,146.62 598.20,142.52 598.51,142.99 598.71,146.67 598.91,150.36 599.13,140.71 599.50,151.93 599.79,138.92 600.11,151.22 600.51,136.13 600.82,141.14 601.02,146.23 601.33,144.00 601.72,137.01 601.93,143.68 602.34,141.65 602.76,138.95 602.96,130.67 603.36,144.26 603.59,130.80 603.88,139.42 604.25,124.29 604.65,133.69 604.89,127.59 605.18,131.87 605.52,118.38 605.81,125.81 606.00,122.41 606.19,132.26 606.55,117.08 606.88,122.69 607.28,106.97 607.49,113.81 607.89,99.91 608.15,103.04 608.35,116.58 608.72,112.50 608.98,96.95 609.21,105.25 609.55,91.75 609.85,108.85 610.04,92.71 610.40,114.70 610.64,92.28 610.92,108.05 611.21,93.38 611.53,109.44 611.87,82.08 612.08,102.23 612.42,89.38 612.65,86.12 612.99,71.06 613.25,96.27 613.55,75.55 613.93,103.39 614.12,86.49 614.32,87.78 614.71,101.13 615.01,97.46 615.25,93.70 615.44,110.97 615.70,108.32 615.98,108.13 616.37,107.86 616.56,128.80 616.85,114.99 617.26,120.96 617.65,133.92 618.03,135.61 618.33,127.63 618.53,137.02 618.79,143.47 619.12,140.77 619.53,137.26 619.84,140.43 620.04,143.31 620.34,147.31 620.64,138.28 621.00,149.23 621.36,150.50 621.61,151.58 621.89,146.02 622.23,142.63 622.53,152.63 622.79,151.38 623.00,148.25 623.32,143.63 623.58,138.52 623.95,143.13 624.35,139.92 624.69,137.32 625.08,129.36 625.40,125.99 625.75,116.89 626.15,116.00 626.40,119.45 626.61,126.74 626.96,119.56 627.20,126.40 627.42,105.83 627.78,122.84 628.14,112.00 628.55,118.30 628.88,96.38 629.25,116.21 629.46,98.53 629.85,116.48 630.07,97.02 630.45,115.18 630.70,93.68 631.00,111.65 631.20,89.20 631.58,88.50 631.96,98.44 632.32,103.03 632.51,93.65 632.92,110.76 633.11,112.74 633.49,112.82 633.85,104.83 634.23,109.83 634.63,105.23 634.88,127.03 635.07,125.86 635.32,130.48 635.54,117.26 635.84,134.22 636.26,138.94 636.47,131.49 636.82,130.42 637.03,143.17 637.32,141.63 637.65,139.68 637.98,137.02 638.19,148.43 638.38,148.34 638.60,146.44 638.79,140.73 639.14,154.25 639.49,150.80 639.80,151.74 640.00,147.19 640.22,151.03 640.63,148.16 641.02,155.11 641.23,152.34 641.43,156.30 641.76,153.05 642.03,156.30 642.35,155.29 642.62,156.30 642.88,156.30 643.27,156.26 643.55,155.84 643.76,156.30" fill="none" stroke="#c80000" stroke-width="0.45" stroke-opacity="0.9"/>
<polyline points="581.00,156.09 581.65,156.30 582.07,156.30 582.41,156.02 582.73,154.98 583.20,156.30 583.66,153.15 584.24,156.30 584.75,152.47 585.05,156.30 585.68,156.30 586.12,156.30 586.64,155.49 586.98,156.17 587.34,152.83 587.69,155.66 588.32,152.00 588.97,156.30 589.51,153.93 590.06,154.16 590.46,152.84 590.76,156.30 591.38,151.35 591.90,156.18 592.55,156.30 593.02,151.62 593.72,154.62 594.30,156.30 594.63,153.50 595.33,154.65 595.71,151.18 596.28,155.86 596.76,147.22 597.21,148.88 597.64,142.40 598.24,153.00 598.91,145.77 599.44,149.86 599.84,142.99 600.34,150.75 600.77,137.23 601.47,146.18 601.78,136.48 602.29,144.14 602.91,130.15 603.33,132.96 603.72,130.76 604.14,141.15 604.60,122.58 605.20,127.48 605.58,118.12 605.94,130.43 606.54,112.67 606.90,118.33 607.37,100.98 607.70,110.33 608.34,97.04 608.93,107.28 609.63,93.35 610.11,100.87 610.72,112.49 611.38,108.44 611.73,96.02 612.36,100.16 612.68,75.72 613.13,85.94 613.52,93.16 614.05,96.88 614.59,88.53 614.90,109.76 615.37,104.38 615.82,116.76 616.35,108.55 616.73,128.69 617.25,122.13 617.70,136.18 618.37,125.59 619.01,142.05 619.61,139.25 620.19,148.99 620.75,142.19 621.22,151.53 621.76,141.46 622.45,151.06 623.11,143.88 623.72,148.54 624.14,139.15 624.49,142.50 625.11,128.79 625.75,125.62 626.25,111.76 626.91,128.59 627.37,104.60 627.79,123.72 628.17,100.50 628.63,109.86 629.08,103.26 629.77,106.35 630.37,95.43 630.93,106.41 631.59,102.48 632.16,111.84 632.59,101.34 633.28,115.75 633.67,99.32 634.28,122.41 634.69,107.71 635.28,127.19 635.69,120.33 636.37,129.46 636.82,134.61 637.26,142.35 637.73,133.80 638.40,147.63 638.85,143.45 639.47,145.30 639.94,149.33 640.35,151.16 640.85,156.30 641.24,154.71 641.82,153.57 642.22,156.30 642.60,155.87 642.95,156.30 643.45,156.30 643.90,156.30" fill="none" stroke="#f0b0b0" stroke-width="0.4" stroke-opacity="0.55"/>
<polyline points="581.00,156.07 581.20,156.30 581.40,155.17 581.60,156.30 581.80,155.01 582.00,156.30 582.20,154.79 582.40,156.30 582.60,154.02 582.80,156.16 583.00,153.81 583.20,156.02 583.40,152.79 583.60,155.19 583.80,152.11 584.00,154.67 584.20,151.33 584.40,154.58 584.60,152.17 584.80,154.28 585.00,151.83 585.20,154.64 585.40,151.88 585.60,154.12 585.80,151.94 586.00,154.28 586.20,152.24 586.40,154.28 586.60,152.19 586.80,154.55 587.00,151.65 587.20,154.01 587.40,151.29 587.60,153.76 587.80,151.64 588.00,153.91 588.20,151.39 588.40,153.99 588.60,151.08 588.80,153.40 589.00,151.37 589.20,153.46 589.40,150.92 589.60,153.32 589.80,151.35 590.00,153.37 590.20,151.39 590.40,153.51 590.60,150.51 590.80,153.20 591.00,151.38 591.20,153.42 591.40,150.86 591.60,153.08 591.80,150.55 592.00,153.22 592.20,150.62 592.40,153.52 592.60,151.50 592.80,153.67 593.00,149.47 593.20,152.98 593.40,150.19 593.60,152.58 593.80,150.36 594.00,152.52 594.20,149.84 594.40,152.85 594.60,150.28 594.80,152.45 595.00,150.01 595.20,152.30 595.40,150.23 595.60,152.51 595.80,149.64 596.00,152.36 596.20,148.89 596.40,151.25 596.60,146.10 596.80,148.55 597.00,143.75 597.20,145.99 597.40,143.18 597.60,145.32 597.80,141.48 598.00,143.97 598.20,141.36 598.40,143.49 598.60,140.74 598.80,143.50 599.00,138.59 599.20,141.36 599.40,137.94 599.60,140.40 599.80,138.41 600.00,140.52 600.20,136.46 600.40,139.07 600.60,136.62 600.80,139.54 601.00,134.59 601.20,136.78 601.40,133.93 601.60,136.27 601.80,132.66 602.00,134.84 602.20,133.55 602.40,135.91 602.60,130.84 602.80,133.28 603.00,129.82 603.20,132.48 603.40,128.08 603.60,130.45 603.80,125.37 604.00,128.26 604.20,123.82 604.40,126.65 604.60,123.57 604.80,125.91 605.00,120.03 605.20,123.17 605.40,120.67 605.60,122.88 605.80,117.82 606.00,120.12 606.20,115.27 606.40,117.35 606.60,108.61 606.80,111.30 607.00,105.42 607.20,107.54 607.40,100.04 607.60,102.86 607.80,96.22 608.00,98.54 608.20,95.84 608.40,97.87 608.60,95.64 608.80,98.98 609.00,93.01 609.20,95.66 609.40,92.01 609.60,94.42 609.80,91.29 610.00,93.76 610.20,92.34 610.40,94.43 610.60,91.43 610.80,93.82 611.00,90.45 611.20,92.54 611.40,86.70 611.60,88.99 611.80,81.85 612.00,84.20 612.20,78.19 612.40,81.03 612.60,74.84 612.80,76.99 613.00,71.32 613.20,73.53 613.40,74.68 613.60,77.11 613.80,78.97 614.00,81.54 614.20,83.03 614.40,85.08 614.60,85.86 614.80,88.38 615.00,90.17 615.20,92.56 615.40,96.62 615.60,98.85 615.80,100.03 616.00,102.70 616.20,105.62 616.40,108.32 616.60,111.11 616.80,113.17 617.00,117.83 617.20,120.84 617.40,118.92 617.60,121.51 617.80,121.57 618.00,124.00 618.20,126.32 618.40,128.76 618.60,127.02 618.80,129.70 619.00,129.36 619.20,132.14 619.40,132.43 619.60,134.91 619.80,135.00 620.00,137.92 620.20,136.60 620.40,139.61 620.60,138.84 620.80,141.53 621.00,137.80 621.20,141.19 621.40,140.31 621.60,142.35 621.80,140.91 622.00,142.95 622.20,142.19 622.40,144.44 622.60,142.14 622.80,145.17 623.00,143.06 623.20,145.97 623.40,139.61 623.60,141.79 623.80,137.57 624.00,139.78 624.20,131.92 624.40,134.36 624.60,127.41 624.80,130.01 625.00,122.93 625.20,125.23 625.40,119.43 625.60,122.09 625.80,116.99 626.00,119.17 626.20,111.35 626.40,113.55 626.60,110.20 626.80,112.25 627.00,107.49 627.20,109.92 627.40,104.66 627.60,107.02 627.80,103.19 628.00,105.31 628.20,100.99 628.40,103.57 628.60,98.37 628.80,100.75 629.00,95.94 629.20,98.54 629.40,94.49 629.60,97.13 629.80,92.93 630.00,95.22 630.20,91.48 630.40,93.77 630.60,91.16 630.80,94.00 631.00,89.14 631.20,91.69 631.40,90.28 631.60,92.50 631.80,89.37 632.00,91.62 632.20,88.06 632.40,90.34 632.60,90.78 632.80,93.39 633.00,94.14 633.20,96.32 633.40,97.04 633.60,99.07 633.80,100.14 634.00,102.53 634.20,101.65 634.40,103.79 634.60,103.93 634.80,106.59 635.00,106.88 635.20,110.01 635.40,112.66 635.60,114.74 635.80,116.37 636.00,119.01 636.20,121.11 636.40,123.85 636.60,125.29 636.80,127.96 637.00,132.50 637.20,134.86 637.40,131.79 637.60,134.42 637.80,133.34 638.00,136.08 638.20,136.11 638.40,138.39 638.60,137.77 638.80,140.31 639.00,141.06 639.20,143.79 639.40,143.04 639.60,145.50 639.80,144.84 640.00,146.98 640.20,146.44 640.40,149.22 640.60,148.29 640.80,150.33 641.00,149.79 641.20,151.97 641.40,151.44 641.60,153.54 641.80,153.11 642.00,155.51 642.20,153.65 642.40,156.30 642.60,154.22 642.80,156.30 643.00,155.28 643.20,156.30 643.40,154.75 643.60,156.30 643.80,155.73 644.00,156.30" fill="none" stroke="#bf0000" stroke-width="0.45" stroke-opacity="0.85"/>
<polygon points="612.10,94.68 613.00,70.00 613.90,94.68" fill="#bf0000" fill-opacity="0.9"/>
<polygon points="631.10,108.70 632.00,86.50 632.90,108.70" fill="#bf0000" fill-opacity="0.9"/>
<line x1="581.5" y1="67.4" x2="581.5" y2="156.3" stroke="#96d25c" stroke-width="1.15"/>
<line x1="581.5" y1="113.5" x2="623.5" y2="113.5" stroke="#96d25c" stroke-width="1.15"/>
<line x1="624.4" y1="67.4" x2="624.4" y2="156.3" stroke="#2a6fb2" stroke-width="0.9"/>
<line x1="623.5" y1="67.4" x2="623.5" y2="156.3" stroke="#96d25c" stroke-width="1.15"/>
<line x1="672.5" y1="67.4" x2="672.5" y2="156.3" stroke="#2a6fb2" stroke-width="1.15"/>
<line x1="623.5" y1="116.5" x2="672.5" y2="116.5" stroke="#2a6fb2" stroke-width="1.15"/>
<text x="582.0" y="110.7" font-size="7.0" fill="#96d25c" stroke="#96d25c" stroke-width="0.35" font-weight="bold" font-family="Liberation Sans, sans-serif" textLength="46.8" lengthAdjust="spacingAndGlyphs">R5: 62.641%</text>
<text x="623.3" y="113.9" font-size="7.0" fill="#2a6fb2" stroke="#2a6fb2" stroke-width="0.35" font-weight="bold" font-family="Liberation Sans, sans-serif" textLength="46.6" lengthAdjust="spacingAndGlyphs">R4: 36.885%</text>
<text x="0" y="0" font-size="10.4" font-weight="bold" text-anchor="middle" fill="#000" font-family="Liberation Sans, sans-serif" transform="translate(568.9,108.4) rotate(-90)">Count</text>
<text x="581.5" y="175.4" font-size="10.9" fill="#000" text-anchor="start" font-weight="bold" font-family="Liberation Sans, sans-serif" >Annexin V AF647</text>
<rect x="84" y="181" width="115" height="117.69999999999999" fill="#fff"/>
<rect x="84" y="181" width="1" height="117.69999999999999" fill="#a0a0a0"/>
<line x1="101.5" y1="185.5" x2="196.5" y2="185.5" stroke="#c8c8c8" stroke-width="1"/>
<line x1="104.5" y1="185.5" x2="104.5" y2="278.5" stroke="#c8c8c8" stroke-width="1"/>
<line x1="104.5" y1="278.5" x2="196.5" y2="278.5" stroke="#c8c8c8" stroke-width="1"/>
<line x1="196.5" y1="185.5" x2="196.5" y2="278.5" stroke="#c8c8c8" stroke-width="1"/>
<line x1="102.3" y1="274.02" x2="104.5" y2="274.02" stroke="#bdbdbd" stroke-width="0.6"/>
<line x1="102.3" y1="269.84" x2="104.5" y2="269.84" stroke="#bdbdbd" stroke-width="0.6"/>
<line x1="102.3" y1="265.66" x2="104.5" y2="265.66" stroke="#bdbdbd" stroke-width="0.6"/>
<line x1="102.3" y1="261.48" x2="104.5" y2="261.48" stroke="#bdbdbd" stroke-width="0.6"/>
<line x1="102.3" y1="257.30" x2="104.5" y2="257.30" stroke="#bdbdbd" stroke-width="0.6"/>
<line x1="102.3" y1="253.12" x2="104.5" y2="253.12" stroke="#bdbdbd" stroke-width="0.6"/>
<line x1="102.3" y1="248.94" x2="104.5" y2="248.94" stroke="#bdbdbd" stroke-width="0.6"/>
<line x1="102.3" y1="244.76" x2="104.5" y2="244.76" stroke="#bdbdbd" stroke-width="0.6"/>
<line x1="102.3" y1="240.58" x2="104.5" y2="240.58" stroke="#bdbdbd" stroke-width="0.6"/>
<line x1="102.3" y1="236.40" x2="104.5" y2="236.40" stroke="#bdbdbd" stroke-width="0.6"/>
<line x1="102.3" y1="232.22" x2="104.5" y2="232.22" stroke="#bdbdbd" stroke-width="0.6"/>
<line x1="102.3" y1="228.04" x2="104.5" y2="228.04" stroke="#bdbdbd" stroke-width="0.6"/>
<line x1="102.3" y1="223.86" x2="104.5" y2="223.86" stroke="#bdbdbd" stroke-width="0.6"/>
<line x1="102.3" y1="219.68" x2="104.5" y2="219.68" stroke="#bdbdbd" stroke-width="0.6"/>
<line x1="102.3" y1="215.50" x2="104.5" y2="215.50" stroke="#bdbdbd" stroke-width="0.6"/>
<line x1="102.3" y1="211.32" x2="104.5" y2="211.32" stroke="#bdbdbd" stroke-width="0.6"/>
<line x1="102.3" y1="207.14" x2="104.5" y2="207.14" stroke="#bdbdbd" stroke-width="0.6"/>
<line x1="102.3" y1="202.96" x2="104.5" y2="202.96" stroke="#bdbdbd" stroke-width="0.6"/>
<line x1="102.3" y1="198.78" x2="104.5" y2="198.78" stroke="#bdbdbd" stroke-width="0.6"/>
<line x1="102.3" y1="194.60" x2="104.5" y2="194.60" stroke="#bdbdbd" stroke-width="0.6"/>
<line x1="102.3" y1="190.42" x2="104.5" y2="190.42" stroke="#bdbdbd" stroke-width="0.6"/>
<line x1="102.3" y1="186.24" x2="104.5" y2="186.24" stroke="#bdbdbd" stroke-width="0.6"/>
<line x1="101.6" y1="278.2" x2="104.6" y2="278.2" stroke="#b0b0b0" stroke-width="0.7"/>
<text x="99.6" y="280.40" font-size="6.4" fill="#000" text-anchor="end" font-weight="bold" font-family="Liberation Sans, sans-serif" stroke="#000" stroke-width="0.15">0</text>
<line x1="101.6" y1="257.3" x2="104.6" y2="257.3" stroke="#b0b0b0" stroke-width="0.7"/>
<text x="99.6" y="259.50" font-size="6.4" fill="#000" text-anchor="end" font-weight="bold" font-family="Liberation Sans, sans-serif" stroke="#000" stroke-width="0.15">10</text>
<line x1="101.6" y1="236.39999999999998" x2="104.6" y2="236.39999999999998" stroke="#b0b0b0" stroke-width="0.7"/>
<text x="99.6" y="238.60" font-size="6.4" fill="#000" text-anchor="end" font-weight="bold" font-family="Liberation Sans, sans-serif" stroke="#000" stroke-width="0.15">20</text>
<line x1="101.6" y1="215.5" x2="104.6" y2="215.5" stroke="#b0b0b0" stroke-width="0.7"/>
<text x="99.6" y="217.70" font-size="6.4" fill="#000" text-anchor="end" font-weight="bold" font-family="Liberation Sans, sans-serif" stroke="#000" stroke-width="0.15">30</text>
<line x1="101.6" y1="194.6" x2="104.6" y2="194.6" stroke="#b0b0b0" stroke-width="0.7"/>
<text x="99.6" y="196.80" font-size="6.4" fill="#000" text-anchor="end" font-weight="bold" font-family="Liberation Sans, sans-serif" stroke="#000" stroke-width="0.15">40</text>
<line x1="101.6" y1="186.24" x2="104.6" y2="186.24" stroke="#b0b0b0" stroke-width="0.7"/>
<text x="99.6" y="188.44" font-size="6.4" fill="#000" text-anchor="end" font-weight="bold" font-family="Liberation Sans, sans-serif" stroke="#000" stroke-width="0.15">44</text>
<line x1="104.60" y1="278.2" x2="104.60" y2="280.7" stroke="#b0b0b0" stroke-width="0.7"/>
<line x1="109.19" y1="278.2" x2="109.19" y2="279.5" stroke="#c0c0c0" stroke-width="0.5"/>
<line x1="111.88" y1="278.2" x2="111.88" y2="279.5" stroke="#c0c0c0" stroke-width="0.5"/>
<line x1="113.78" y1="278.2" x2="113.78" y2="279.5" stroke="#c0c0c0" stroke-width="0.5"/>
<line x1="115.26" y1="278.2" x2="115.26" y2="279.5" stroke="#c0c0c0" stroke-width="0.5"/>
<line x1="116.47" y1="278.2" x2="116.47" y2="279.5" stroke="#c0c0c0" stroke-width="0.5"/>
<line x1="117.49" y1="278.2" x2="117.49" y2="279.5" stroke="#c0c0c0" stroke-width="0.5"/>
<line x1="118.37" y1="278.2" x2="118.37" y2="279.5" stroke="#c0c0c0" stroke-width="0.5"/>
<line x1="119.15" y1="278.2" x2="119.15" y2="279.5" stroke="#c0c0c0" stroke-width="0.5"/>
<text x="103.70" y="287.80" font-size="6.6" font-weight="bold" fill="#000" stroke="#000" stroke-width="0.12" text-anchor="middle" font-family="Liberation Sans, sans-serif">10<tspan dy="-2.5" font-size="4.3">0</tspan></text>
<line x1="119.85" y1="278.2" x2="119.85" y2="280.7" stroke="#b0b0b0" stroke-width="0.7"/>
<line x1="124.44" y1="278.2" x2="124.44" y2="279.5" stroke="#c0c0c0" stroke-width="0.5"/>
<line x1="127.13" y1="278.2" x2="127.13" y2="279.5" stroke="#c0c0c0" stroke-width="0.5"/>
<line x1="129.03" y1="278.2" x2="129.03" y2="279.5" stroke="#c0c0c0" stroke-width="0.5"/>
<line x1="130.51" y1="278.2" x2="130.51" y2="279.5" stroke="#c0c0c0" stroke-width="0.5"/>
<line x1="131.72" y1="278.2" x2="131.72" y2="279.5" stroke="#c0c0c0" stroke-width="0.5"/>
<line x1="132.74" y1="278.2" x2="132.74" y2="279.5" stroke="#c0c0c0" stroke-width="0.5"/>
<line x1="133.62" y1="278.2" x2="133.62" y2="279.5" stroke="#c0c0c0" stroke-width="0.5"/>
<line x1="134.40" y1="278.2" x2="134.40" y2="279.5" stroke="#c0c0c0" stroke-width="0.5"/>
<text x="118.95" y="287.80" font-size="6.6" font-weight="bold" fill="#000" stroke="#000" stroke-width="0.12" text-anchor="middle" font-family="Liberation Sans, sans-serif">10<tspan dy="-2.5" font-size="4.3">1</tspan></text>
<line x1="135.10" y1="278.2" x2="135.10" y2="280.7" stroke="#b0b0b0" stroke-width="0.7"/>
<line x1="139.69" y1="278.2" x2="139.69" y2="279.5" stroke="#c0c0c0" stroke-width="0.5"/>
<line x1="142.38" y1="278.2" x2="142.38" y2="279.5" stroke="#c0c0c0" stroke-width="0.5"/>
<line x1="144.28" y1="278.2" x2="144.28" y2="279.5" stroke="#c0c0c0" stroke-width="0.5"/>
<line x1="145.76" y1="278.2" x2="145.76" y2="279.5" stroke="#c0c0c0" stroke-width="0.5"/>
<line x1="146.97" y1="278.2" x2="146.97" y2="279.5" stroke="#c0c0c0" stroke-width="0.5"/>
<line x1="147.99" y1="278.2" x2="147.99" y2="279.5" stroke="#c0c0c0" stroke-width="0.5"/>
<line x1="148.87" y1="278.2" x2="148.87" y2="279.5" stroke="#c0c0c0" stroke-width="0.5"/>
<line x1="149.65" y1="278.2" x2="149.65" y2="279.5" stroke="#c0c0c0" stroke-width="0.5"/>
<text x="134.20" y="287.80" font-size="6.6" font-weight="bold" fill="#000" stroke="#000" stroke-width="0.12" text-anchor="middle" font-family="Liberation Sans, sans-serif">10<tspan dy="-2.5" font-size="4.3">2</tspan></text>
<line x1="150.35" y1="278.2" x2="150.35" y2="280.7" stroke="#b0b0b0" stroke-width="0.7"/>
<line x1="154.94" y1="278.2" x2="154.94" y2="279.5" stroke="#c0c0c0" stroke-width="0.5"/>
<line x1="157.63" y1="278.2" x2="157.63" y2="279.5" stroke="#c0c0c0" stroke-width="0.5"/>
<line x1="159.53" y1="278.2" x2="159.53" y2="279.5" stroke="#c0c0c0" stroke-width="0.5"/>
<line x1="161.01" y1="278.2" x2="161.01" y2="279.5" stroke="#c0c0c0" stroke-width="0.5"/>
<line x1="162.22" y1="278.2" x2="162.22" y2="279.5" stroke="#c0c0c0" stroke-width="0.5"/>
<line x1="163.24" y1="278.2" x2="163.24" y2="279.5" stroke="#c0c0c0" stroke-width="0.5"/>
<line x1="164.12" y1="278.2" x2="164.12" y2="279.5" stroke="#c0c0c0" stroke-width="0.5"/>
<line x1="164.90" y1="278.2" x2="164.90" y2="279.5" stroke="#c0c0c0" stroke-width="0.5"/>
<text x="149.45" y="287.80" font-size="6.6" font-weight="bold" fill="#000" stroke="#000" stroke-width="0.12" text-anchor="middle" font-family="Liberation Sans, sans-serif">10<tspan dy="-2.5" font-size="4.3">3</tspan></text>
<line x1="165.60" y1="278.2" x2="165.60" y2="280.7" stroke="#b0b0b0" stroke-width="0.7"/>
<line x1="170.19" y1="278.2" x2="170.19" y2="279.5" stroke="#c0c0c0" stroke-width="0.5"/>
<line x1="172.88" y1="278.2" x2="172.88" y2="279.5" stroke="#c0c0c0" stroke-width="0.5"/>
<line x1="174.78" y1="278.2" x2="174.78" y2="279.5" stroke="#c0c0c0" stroke-width="0.5"/>
<line x1="176.26" y1="278.2" x2="176.26" y2="279.5" stroke="#c0c0c0" stroke-width="0.5"/>
<line x1="177.47" y1="278.2" x2="177.47" y2="279.5" stroke="#c0c0c0" stroke-width="0.5"/>
<line x1="178.49" y1="278.2" x2="178.49" y2="279.5" stroke="#c0c0c0" stroke-width="0.5"/>
<line x1="179.37" y1="278.2" x2="179.37" y2="279.5" stroke="#c0c0c0" stroke-width="0.5"/>
<line x1="180.15" y1="278.2" x2="180.15" y2="279.5" stroke="#c0c0c0" stroke-width="0.5"/>
<text x="164.70" y="287.80" font-size="6.6" font-weight="bold" fill="#000" stroke="#000" stroke-width="0.12" text-anchor="middle" font-family="Liberation Sans, sans-serif">10<tspan dy="-2.5" font-size="4.3">4</tspan></text>
<line x1="180.85" y1="278.2" x2="180.85" y2="280.7" stroke="#b0b0b0" stroke-width="0.7"/>
<line x1="185.44" y1="278.2" x2="185.44" y2="279.5" stroke="#c0c0c0" stroke-width="0.5"/>
<line x1="188.13" y1="278.2" x2="188.13" y2="279.5" stroke="#c0c0c0" stroke-width="0.5"/>
<line x1="190.03" y1="278.2" x2="190.03" y2="279.5" stroke="#c0c0c0" stroke-width="0.5"/>
<line x1="191.51" y1="278.2" x2="191.51" y2="279.5" stroke="#c0c0c0" stroke-width="0.5"/>
<line x1="192.72" y1="278.2" x2="192.72" y2="279.5" stroke="#c0c0c0" stroke-width="0.5"/>
<line x1="193.74" y1="278.2" x2="193.74" y2="279.5" stroke="#c0c0c0" stroke-width="0.5"/>
<line x1="194.62" y1="278.2" x2="194.62" y2="279.5" stroke="#c0c0c0" stroke-width="0.5"/>
<line x1="195.40" y1="278.2" x2="195.40" y2="279.5" stroke="#c0c0c0" stroke-width="0.5"/>
<text x="179.95" y="287.80" font-size="6.6" font-weight="bold" fill="#000" stroke="#000" stroke-width="0.12" text-anchor="middle" font-family="Liberation Sans, sans-serif">10<tspan dy="-2.5" font-size="4.3">5</tspan></text>
<line x1="196.10" y1="278.2" x2="196.10" y2="280.7" stroke="#b0b0b0" stroke-width="0.7"/>
<text x="192.60" y="287.80" font-size="6.6" font-weight="bold" fill="#000" stroke="#000" stroke-width="0.12" text-anchor="middle" font-family="Liberation Sans, sans-serif">10<tspan dy="-2.5" font-size="4.3">6</tspan></text>
<polygon points="105.00,273.48 105.40,273.11 105.80,272.77 106.20,272.12 106.60,271.64 107.00,271.31 107.40,270.75 107.80,270.35 108.20,270.29 108.60,270.34 109.00,269.18 109.40,268.98 109.80,268.52 110.20,267.90 110.60,267.38 111.00,267.52 111.40,266.34 111.80,266.37 112.20,265.58 112.60,264.45 113.00,264.72 113.40,263.57 113.80,262.71 114.20,262.32 114.60,261.66 115.00,260.27 115.40,259.43 115.80,258.04 116.20,257.49 116.60,256.04 117.00,256.60 117.40,253.48 117.80,252.26 118.20,251.12 118.60,250.27 119.00,249.54 119.40,247.67 119.80,246.77 120.20,246.58 120.60,245.97 121.00,243.03 121.40,241.67 121.80,238.95 122.20,237.49 122.60,236.93 123.00,233.71 123.40,231.40 123.80,229.95 124.20,227.52 124.60,225.42 125.00,222.53 125.40,220.26 125.80,218.19 126.20,218.33 126.60,216.48 127.00,212.50 127.40,208.09 127.80,205.39 128.20,202.58 128.60,201.03 129.00,198.84 129.40,196.59 129.80,189.28 130.20,189.41 130.60,191.05 131.00,194.35 131.40,196.46 131.80,197.13 132.20,199.67 132.60,203.50 133.00,209.04 133.40,212.21 133.80,216.92 134.20,219.76 134.60,224.94 135.00,229.84 135.40,235.27 135.80,239.53 136.20,243.37 136.60,248.75 137.00,252.70 137.40,256.78 137.80,260.74 138.20,264.13 138.60,267.10 139.00,269.66 139.40,271.99 139.80,275.12 140.20,276.99 140.20,278.20 139.80,278.20 139.40,278.20 139.00,276.39 138.60,276.83 138.20,273.36 137.80,275.21 137.40,267.90 137.00,263.88 136.60,263.17 136.20,260.52 135.80,254.30 135.40,252.13 135.00,248.22 134.60,246.16 134.20,237.91 133.80,237.23 133.40,228.49 133.00,231.10 132.60,227.76 132.20,221.54 131.80,219.77 131.40,217.00 131.00,216.43 130.60,214.36 130.20,215.65 129.80,212.63 129.40,211.53 129.00,215.22 128.60,223.72 128.20,225.17 127.80,230.20 127.40,229.20 127.00,230.18 126.60,234.92 126.20,230.99 125.80,239.00 125.40,236.91 125.00,243.71 124.60,244.96 124.20,240.88 123.80,249.86 123.40,250.45 123.00,247.02 122.60,252.62 122.20,253.20 121.80,254.91 121.40,254.35 121.00,258.77 120.60,260.90 120.20,257.75 119.80,260.39 119.40,263.33 119.00,261.75 118.60,265.15 118.20,266.90 117.80,263.98 117.40,263.97 117.00,268.96 116.60,270.05 116.20,271.82 115.80,273.19 115.40,270.27 115.00,275.98 114.60,275.39 114.20,272.19 113.80,276.37 113.40,277.76 113.00,277.03 112.60,276.79 112.20,274.39 111.80,277.85 111.40,277.32 111.00,275.51 110.60,275.73 110.20,275.17 109.80,275.08 109.40,277.99 109.00,277.90 108.60,276.13 108.20,278.20 107.80,278.20 107.40,278.20 107.00,278.20 106.60,276.91 106.20,278.20 105.80,277.68 105.40,278.20 105.00,278.20" fill="#bf0000" fill-opacity="0.62"/>
<polyline points="105.00,278.20 105.23,274.22 105.43,274.64 105.58,278.20 105.79,274.81 105.95,276.62 106.10,275.15 106.38,272.97 106.52,271.88 106.70,278.20 106.99,278.20 107.21,273.99 107.50,273.92 107.73,274.71 107.89,271.78 108.10,273.42 108.28,269.84 108.47,273.64 108.67,274.60 108.90,275.78 109.11,273.69 109.26,276.37 109.49,271.97 109.77,275.15 110.01,268.01 110.20,276.70 110.34,267.44 110.50,277.01 110.71,276.23 110.88,269.12 111.15,267.07 111.30,272.61 111.55,275.46 111.76,274.84 111.90,266.33 112.16,268.74 112.34,264.67 112.60,273.49 112.85,265.59 113.08,273.77 113.29,263.61 113.44,275.82 113.68,269.50 113.93,271.78 114.07,274.58 114.25,275.90 114.41,273.64 114.64,266.08 114.82,267.04 115.12,269.23 115.36,268.92 115.49,265.60 115.66,265.66 115.93,271.46 116.12,268.13 116.28,269.90 116.57,264.00 116.80,269.41 117.07,254.10 117.35,260.48 117.54,257.47 117.81,266.34 117.95,254.56 118.10,262.98 118.26,256.15 118.51,258.60 118.75,256.84 119.05,261.03 119.28,252.34 119.42,257.90 119.70,248.96 119.93,248.41 120.15,258.37 120.36,249.25 120.56,244.78 120.81,256.21 121.02,247.25 121.30,257.21 121.53,244.76 121.76,250.85 122.04,254.46 122.21,248.26 122.42,240.36 122.68,247.76 122.97,241.19 123.14,241.27 123.31,233.59 123.52,240.50 123.65,233.10 123.94,245.39 124.14,237.49 124.41,240.53 124.65,224.74 124.87,241.54 125.07,221.85 125.37,231.60 125.61,223.76 125.75,235.46 126.04,231.86 126.22,227.81 126.46,221.18 126.65,228.88 126.94,213.71 127.20,230.60 127.49,209.39 127.75,226.08 127.91,218.78 128.04,224.89 128.33,206.68 128.63,213.09 128.80,204.70 128.93,209.03 129.14,197.54 129.33,211.93 129.47,199.38 129.73,209.80 129.87,195.86 130.13,203.14 130.36,209.64 130.63,204.84 130.76,192.92 130.90,197.01 131.04,199.81 131.27,210.20 131.50,197.53 131.73,208.25 131.88,219.03 132.14,220.03 132.42,206.36 132.60,213.18 132.85,220.89 133.15,221.95 133.43,216.55 133.70,225.09 133.94,223.66 134.21,225.83 134.52,229.28 134.80,231.36 135.07,242.81 135.26,243.95 135.55,237.02 135.71,251.80 135.99,245.64 136.14,253.25 136.38,252.20 136.64,260.51 136.94,250.99 137.22,262.39 137.37,256.58 137.54,262.26 137.75,272.58 138.00,269.20 138.17,263.68 138.40,269.15 138.61,277.15 138.91,276.59 139.12,270.25 139.32,276.47 139.55,276.06 139.70,278.20 139.92,275.46 140.09,278.20 140.37,277.52" fill="none" stroke="#b80000" stroke-width="0.5" stroke-opacity="0.95"/>
<polyline points="105.00,274.41 105.41,277.04 105.63,277.81 105.93,278.20 106.18,272.07 106.50,278.20 106.72,272.46 107.04,278.06 107.28,272.36 107.65,277.86 107.95,272.06 108.26,277.15 108.48,269.91 108.86,274.04 109.06,268.96 109.28,274.69 109.69,275.37 109.98,273.93 110.30,270.11 110.53,277.25 110.93,266.71 111.29,272.58 111.55,266.21 111.89,270.43 112.29,265.21 112.69,276.52 113.10,270.93 113.48,266.38 113.82,262.64 114.17,276.20 114.36,275.12 114.77,273.85 115.13,261.23 115.51,260.22 115.84,263.16 116.13,267.99 116.35,266.34 116.70,265.19 117.02,262.94 117.41,263.33 117.65,264.29 117.84,265.03 118.04,254.38 118.40,261.10 118.79,258.45 119.09,262.09 119.29,259.58 119.53,256.57 119.92,250.24 120.25,260.32 120.53,244.80 120.87,255.64 121.22,246.01 121.56,256.50 121.88,238.81 122.19,250.82 122.52,235.25 122.74,242.89 122.96,251.30 123.24,248.97 123.50,238.82 123.80,246.36 124.03,229.70 124.21,235.58 124.63,225.17 124.91,242.14 125.15,221.20 125.41,232.49 125.65,236.38 125.92,222.94 126.12,221.57 126.42,233.69 126.62,222.84 126.81,215.39 127.02,227.37 127.33,225.76 127.61,207.48 127.87,223.05 128.13,207.76 128.55,216.15 128.96,202.89 129.35,205.18 129.58,193.39 129.98,207.75 130.30,204.14 130.61,210.26 130.97,199.17 131.32,200.45 131.74,209.16 132.08,220.29 132.29,200.93 132.60,217.50 132.98,212.47 133.36,229.23 133.74,215.12 133.98,229.23 134.20,224.94 134.45,238.21 134.79,234.86 134.99,242.05 135.33,245.62 135.63,242.90 136.03,244.57 136.45,246.78 136.67,252.50 136.90,262.00 137.27,258.72 137.61,264.75 137.93,272.21 138.18,276.04 138.39,267.41 138.60,274.55 139.01,276.73 139.42,275.90 139.65,274.67 139.86,278.20 140.10,277.12 140.38,278.20" fill="none" stroke="#c80000" stroke-width="0.45" stroke-opacity="0.9"/>
<polyline points="105.00,278.20 105.36,278.20 105.72,276.77 106.30,278.20 106.79,278.20 107.18,274.27 107.63,272.18 108.21,274.49 108.77,277.39 109.10,277.27 109.41,272.58 109.94,277.25 110.54,267.19 110.99,276.89 111.45,276.34 111.90,275.34 112.43,268.42 113.13,274.59 113.49,269.42 114.16,275.03 114.83,260.19 115.25,265.72 115.61,260.39 116.28,265.96 116.77,262.94 117.09,267.17 117.56,253.86 117.98,266.22 118.45,258.30 119.04,262.41 119.62,246.78 120.12,256.38 120.68,244.00 121.31,250.20 121.81,238.79 122.46,247.34 123.15,236.43 123.56,241.18 124.11,231.53 124.66,229.98 125.10,221.90 125.72,229.66 126.18,222.81 126.81,219.70 127.49,225.56 127.88,217.74 128.24,209.68 128.77,216.13 129.09,205.01 129.72,201.89 130.30,201.43 130.65,215.35 131.18,213.08 131.60,211.07 132.10,201.79 132.60,213.86 133.11,209.64 133.60,222.52 134.20,225.85 134.88,240.84 135.52,252.74 136.03,254.92 136.43,245.51 137.04,256.67 137.53,258.09 137.86,274.78 138.31,273.54 138.98,272.12 139.61,276.52 139.99,278.20" fill="none" stroke="#f0b0b0" stroke-width="0.4" stroke-opacity="0.55"/>
<polyline points="105.00,273.43 105.20,275.48 105.40,273.04 105.60,275.11 105.80,272.30 106.00,274.77 106.20,271.52 106.40,274.12 106.60,271.62 106.80,273.64 107.00,271.14 107.20,273.31 107.40,269.80 107.60,272.75 107.80,270.24 108.00,272.35 108.20,269.13 108.40,272.29 108.60,270.28 108.80,272.34 109.00,268.90 109.20,271.18 109.40,268.68 109.60,270.98 109.80,267.39 110.00,270.52 110.20,267.90 110.40,269.90 110.60,266.53 110.80,269.38 111.00,266.78 111.20,269.52 111.40,265.89 111.60,268.34 111.80,265.38 112.00,268.37 112.20,264.69 112.40,267.58 112.60,264.14 112.80,266.45 113.00,264.63 113.20,266.72 113.40,263.16 113.60,265.57 113.80,262.69 114.00,264.71 114.20,262.20 114.40,264.32 114.60,261.13 114.80,263.66 115.00,259.96 115.20,262.27 115.40,258.08 115.60,261.43 115.80,257.54 116.00,260.04 116.20,257.32 116.40,259.49 116.60,255.61 116.80,258.04 117.00,256.51 117.20,258.60 117.40,253.47 117.60,255.48 117.80,251.91 118.00,254.26 118.20,250.90 118.40,253.12 118.60,249.07 118.80,252.27 119.00,249.20 119.20,251.54 119.40,247.38 119.60,249.67 119.80,246.35 120.00,248.77 120.20,246.51 120.40,248.58 120.60,245.73 120.80,247.97 121.00,242.77 121.20,245.03 121.40,241.46 121.60,243.67 121.80,238.46 122.00,240.95 122.20,237.22 122.40,239.49 122.60,236.67 122.80,238.93 123.00,232.85 123.20,235.71 123.40,230.18 123.60,233.40 123.80,229.11 124.00,231.95 124.20,226.93 124.40,229.52 124.60,225.20 124.80,227.42 125.00,222.51 125.20,224.53 125.40,218.56 125.60,222.26 125.80,217.21 126.00,220.19 126.20,217.80 126.40,220.33 126.60,215.65 126.80,218.48 127.00,212.15 127.20,214.50 127.40,207.82 127.60,210.09 127.80,205.00 128.00,207.39 128.20,201.80 128.40,204.58 128.60,200.82 128.80,203.03 129.00,197.31 129.20,200.84 129.40,196.32 129.60,198.59 129.80,189.24 130.00,191.28 130.20,189.05 130.40,191.41 130.60,190.00 130.80,193.05 131.00,193.84 131.20,196.35 131.40,195.96 131.60,198.46 131.80,196.15 132.00,199.13 132.20,199.50 132.40,201.67 132.60,203.37 132.80,205.50 133.00,208.81 133.20,211.04 133.40,212.09 133.60,214.21 133.80,216.69 134.00,218.92 134.20,219.32 134.40,221.76 134.60,224.62 134.80,226.94 135.00,229.77 135.20,231.84 135.40,234.46 135.60,237.27 135.80,239.35 136.00,241.53 136.20,243.30 136.40,245.37 136.60,248.47 136.80,250.75 137.00,252.22 137.20,254.70 137.40,256.02 137.60,258.78 137.80,259.97 138.00,262.74 138.20,263.46 138.40,266.13 138.60,265.76 138.80,269.10 139.00,269.63 139.20,271.66 139.40,271.30 139.60,273.99 139.80,274.91 140.00,277.12 140.20,276.10 140.40,278.20" fill="none" stroke="#bf0000" stroke-width="0.45" stroke-opacity="0.85"/>
<polygon points="129.10,209.01 130.00,186.60 130.90,209.01" fill="#bf0000" fill-opacity="0.9"/>
<line x1="140.5" y1="185.5" x2="140.5" y2="278.2" stroke="#f020f0" stroke-width="1.15"/>
<line x1="196.5" y1="185.5" x2="196.5" y2="278.2" stroke="#f020f0" stroke-width="1.15"/>
<line x1="140.5" y1="238.5" x2="196.5" y2="238.5" stroke="#f020f0" stroke-width="1.15"/>
<text x="141.7" y="235.8" font-size="7.0" fill="#f020f0" stroke="#f020f0" stroke-width="0.35" font-weight="bold" font-family="Liberation Sans, sans-serif" textLength="43.2" lengthAdjust="spacingAndGlyphs">R2: 0.009%</text>
<text x="0" y="0" font-size="10.4" font-weight="bold" text-anchor="middle" fill="#000" font-family="Liberation Sans, sans-serif" transform="translate(93.9,234.3) rotate(-90)">Count</text>
<text x="126.2" y="297.8" font-size="11.0" fill="#000" text-anchor="start" font-weight="bold" font-family="Liberation Sans, sans-serif" >7AAD-A</text>
<rect x="203" y="181" width="114" height="117.69999999999999" fill="#fff"/>
<rect x="203" y="181" width="1" height="117.69999999999999" fill="#a0a0a0"/>
<line x1="221.5" y1="185.5" x2="313.5" y2="185.5" stroke="#c8c8c8" stroke-width="1"/>
<line x1="224.5" y1="185.5" x2="224.5" y2="277.5" stroke="#dd6666" stroke-width="1"/>
<line x1="224.5" y1="277.5" x2="313.5" y2="277.5" stroke="#c8c8c8" stroke-width="1"/>
<line x1="313.5" y1="185.5" x2="313.5" y2="277.5" stroke="#c8c8c8" stroke-width="1"/>
<line x1="222.3" y1="273.70" x2="224.5" y2="273.70" stroke="#bdbdbd" stroke-width="0.6"/>
<line x1="222.3" y1="269.70" x2="224.5" y2="269.70" stroke="#bdbdbd" stroke-width="0.6"/>
<line x1="222.3" y1="265.70" x2="224.5" y2="265.70" stroke="#bdbdbd" stroke-width="0.6"/>
<line x1="222.3" y1="261.70" x2="224.5" y2="261.70" stroke="#bdbdbd" stroke-width="0.6"/>
<line x1="222.3" y1="257.70" x2="224.5" y2="257.70" stroke="#bdbdbd" stroke-width="0.6"/>
<line x1="222.3" y1="253.70" x2="224.5" y2="253.70" stroke="#bdbdbd" stroke-width="0.6"/>
<line x1="222.3" y1="249.70" x2="224.5" y2="249.70" stroke="#bdbdbd" stroke-width="0.6"/>
<line x1="222.3" y1="245.70" x2="224.5" y2="245.70" stroke="#bdbdbd" stroke-width="0.6"/>
<line x1="222.3" y1="241.70" x2="224.5" y2="241.70" stroke="#bdbdbd" stroke-width="0.6"/>
<line x1="222.3" y1="237.70" x2="224.5" y2="237.70" stroke="#bdbdbd" stroke-width="0.6"/>
<line x1="222.3" y1="233.70" x2="224.5" y2="233.70" stroke="#bdbdbd" stroke-width="0.6"/>
<line x1="222.3" y1="229.70" x2="224.5" y2="229.70" stroke="#bdbdbd" stroke-width="0.6"/>
<line x1="222.3" y1="225.70" x2="224.5" y2="225.70" stroke="#bdbdbd" stroke-width="0.6"/>
<line x1="222.3" y1="221.70" x2="224.5" y2="221.70" stroke="#bdbdbd" stroke-width="0.6"/>
<line x1="222.3" y1="217.70" x2="224.5" y2="217.70" stroke="#bdbdbd" stroke-width="0.6"/>
<line x1="222.3" y1="213.70" x2="224.5" y2="213.70" stroke="#bdbdbd" stroke-width="0.6"/>
<line x1="222.3" y1="209.70" x2="224.5" y2="209.70" stroke="#bdbdbd" stroke-width="0.6"/>
<line x1="222.3" y1="205.70" x2="224.5" y2="205.70" stroke="#bdbdbd" stroke-width="0.6"/>
<line x1="222.3" y1="201.70" x2="224.5" y2="201.70" stroke="#bdbdbd" stroke-width="0.6"/>
<line x1="222.3" y1="197.70" x2="224.5" y2="197.70" stroke="#bdbdbd" stroke-width="0.6"/>
<line x1="222.3" y1="193.70" x2="224.5" y2="193.70" stroke="#bdbdbd" stroke-width="0.6"/>
<line x1="222.3" y1="189.70" x2="224.5" y2="189.70" stroke="#bdbdbd" stroke-width="0.6"/>
<line x1="222.3" y1="185.70" x2="224.5" y2="185.70" stroke="#bdbdbd" stroke-width="0.6"/>
<line x1="221.6" y1="277.7" x2="224.6" y2="277.7" stroke="#b0b0b0" stroke-width="0.7"/>
<text x="219.6" y="279.90" font-size="6.4" fill="#000" text-anchor="end" font-weight="bold" font-family="Liberation Sans, sans-serif" stroke="#000" stroke-width="0.15">0</text>
<line x1="221.6" y1="237.7" x2="224.6" y2="237.7" stroke="#b0b0b0" stroke-width="0.7"/>
<text x="219.6" y="239.90" font-size="6.4" fill="#000" text-anchor="end" font-weight="bold" font-family="Liberation Sans, sans-serif" stroke="#000" stroke-width="0.15">25</text>
<line x1="221.6" y1="197.7" x2="224.6" y2="197.7" stroke="#b0b0b0" stroke-width="0.7"/>
<text x="219.6" y="199.90" font-size="6.4" fill="#000" text-anchor="end" font-weight="bold" font-family="Liberation Sans, sans-serif" stroke="#000" stroke-width="0.15">50</text>
<line x1="221.6" y1="184.89999999999998" x2="224.6" y2="184.89999999999998" stroke="#b0b0b0" stroke-width="0.7"/>
<text x="219.6" y="187.10" font-size="6.4" fill="#000" text-anchor="end" font-weight="bold" font-family="Liberation Sans, sans-serif" stroke="#000" stroke-width="0.15">58</text>
<line x1="224.60" y1="277.7" x2="224.60" y2="280.2" stroke="#b0b0b0" stroke-width="0.7"/>
<line x1="229.05" y1="277.7" x2="229.05" y2="279.0" stroke="#c0c0c0" stroke-width="0.5"/>
<line x1="231.65" y1="277.7" x2="231.65" y2="279.0" stroke="#c0c0c0" stroke-width="0.5"/>
<line x1="233.50" y1="277.7" x2="233.50" y2="279.0" stroke="#c0c0c0" stroke-width="0.5"/>
<line x1="234.93" y1="277.7" x2="234.93" y2="279.0" stroke="#c0c0c0" stroke-width="0.5"/>
<line x1="236.10" y1="277.7" x2="236.10" y2="279.0" stroke="#c0c0c0" stroke-width="0.5"/>
<line x1="237.09" y1="277.7" x2="237.09" y2="279.0" stroke="#c0c0c0" stroke-width="0.5"/>
<line x1="237.95" y1="277.7" x2="237.95" y2="279.0" stroke="#c0c0c0" stroke-width="0.5"/>
<line x1="238.71" y1="277.7" x2="238.71" y2="279.0" stroke="#c0c0c0" stroke-width="0.5"/>
<text x="223.70" y="287.30" font-size="6.6" font-weight="bold" fill="#000" stroke="#000" stroke-width="0.12" text-anchor="middle" font-family="Liberation Sans, sans-serif">10<tspan dy="-2.5" font-size="4.3">0</tspan></text>
<line x1="239.38" y1="277.7" x2="239.38" y2="280.2" stroke="#b0b0b0" stroke-width="0.7"/>
<line x1="243.83" y1="277.7" x2="243.83" y2="279.0" stroke="#c0c0c0" stroke-width="0.5"/>
<line x1="246.44" y1="277.7" x2="246.44" y2="279.0" stroke="#c0c0c0" stroke-width="0.5"/>
<line x1="248.28" y1="277.7" x2="248.28" y2="279.0" stroke="#c0c0c0" stroke-width="0.5"/>
<line x1="249.72" y1="277.7" x2="249.72" y2="279.0" stroke="#c0c0c0" stroke-width="0.5"/>
<line x1="250.89" y1="277.7" x2="250.89" y2="279.0" stroke="#c0c0c0" stroke-width="0.5"/>
<line x1="251.88" y1="277.7" x2="251.88" y2="279.0" stroke="#c0c0c0" stroke-width="0.5"/>
<line x1="252.73" y1="277.7" x2="252.73" y2="279.0" stroke="#c0c0c0" stroke-width="0.5"/>
<line x1="253.49" y1="277.7" x2="253.49" y2="279.0" stroke="#c0c0c0" stroke-width="0.5"/>
<text x="238.48" y="287.30" font-size="6.6" font-weight="bold" fill="#000" stroke="#000" stroke-width="0.12" text-anchor="middle" font-family="Liberation Sans, sans-serif">10<tspan dy="-2.5" font-size="4.3">1</tspan></text>
<line x1="254.17" y1="277.7" x2="254.17" y2="280.2" stroke="#b0b0b0" stroke-width="0.7"/>
<line x1="258.62" y1="277.7" x2="258.62" y2="279.0" stroke="#c0c0c0" stroke-width="0.5"/>
<line x1="261.22" y1="277.7" x2="261.22" y2="279.0" stroke="#c0c0c0" stroke-width="0.5"/>
<line x1="263.07" y1="277.7" x2="263.07" y2="279.0" stroke="#c0c0c0" stroke-width="0.5"/>
<line x1="264.50" y1="277.7" x2="264.50" y2="279.0" stroke="#c0c0c0" stroke-width="0.5"/>
<line x1="265.67" y1="277.7" x2="265.67" y2="279.0" stroke="#c0c0c0" stroke-width="0.5"/>
<line x1="266.66" y1="277.7" x2="266.66" y2="279.0" stroke="#c0c0c0" stroke-width="0.5"/>
<line x1="267.52" y1="277.7" x2="267.52" y2="279.0" stroke="#c0c0c0" stroke-width="0.5"/>
<line x1="268.27" y1="277.7" x2="268.27" y2="279.0" stroke="#c0c0c0" stroke-width="0.5"/>
<text x="253.27" y="287.30" font-size="6.6" font-weight="bold" fill="#000" stroke="#000" stroke-width="0.12" text-anchor="middle" font-family="Liberation Sans, sans-serif">10<tspan dy="-2.5" font-size="4.3">2</tspan></text>
<line x1="268.95" y1="277.7" x2="268.95" y2="280.2" stroke="#b0b0b0" stroke-width="0.7"/>
<line x1="273.40" y1="277.7" x2="273.40" y2="279.0" stroke="#c0c0c0" stroke-width="0.5"/>
<line x1="276.00" y1="277.7" x2="276.00" y2="279.0" stroke="#c0c0c0" stroke-width="0.5"/>
<line x1="277.85" y1="277.7" x2="277.85" y2="279.0" stroke="#c0c0c0" stroke-width="0.5"/>
<line x1="279.28" y1="277.7" x2="279.28" y2="279.0" stroke="#c0c0c0" stroke-width="0.5"/>
<line x1="280.45" y1="277.7" x2="280.45" y2="279.0" stroke="#c0c0c0" stroke-width="0.5"/>
<line x1="281.44" y1="277.7" x2="281.44" y2="279.0" stroke="#c0c0c0" stroke-width="0.5"/>
<line x1="282.30" y1="277.7" x2="282.30" y2="279.0" stroke="#c0c0c0" stroke-width="0.5"/>
<line x1="283.06" y1="277.7" x2="283.06" y2="279.0" stroke="#c0c0c0" stroke-width="0.5"/>
<text x="268.05" y="287.30" font-size="6.6" font-weight="bold" fill="#000" stroke="#000" stroke-width="0.12" text-anchor="middle" font-family="Liberation Sans, sans-serif">10<tspan dy="-2.5" font-size="4.3">3</tspan></text>
<line x1="283.73" y1="277.7" x2="283.73" y2="280.2" stroke="#b0b0b0" stroke-width="0.7"/>
<line x1="288.18" y1="277.7" x2="288.18" y2="279.0" stroke="#c0c0c0" stroke-width="0.5"/>
<line x1="290.79" y1="277.7" x2="290.79" y2="279.0" stroke="#c0c0c0" stroke-width="0.5"/>
<line x1="292.63" y1="277.7" x2="292.63" y2="279.0" stroke="#c0c0c0" stroke-width="0.5"/>
<line x1="294.07" y1="277.7" x2="294.07" y2="279.0" stroke="#c0c0c0" stroke-width="0.5"/>
<line x1="295.24" y1="277.7" x2="295.24" y2="279.0" stroke="#c0c0c0" stroke-width="0.5"/>
<line x1="296.23" y1="277.7" x2="296.23" y2="279.0" stroke="#c0c0c0" stroke-width="0.5"/>
<line x1="297.08" y1="277.7" x2="297.08" y2="279.0" stroke="#c0c0c0" stroke-width="0.5"/>
<line x1="297.84" y1="277.7" x2="297.84" y2="279.0" stroke="#c0c0c0" stroke-width="0.5"/>
<text x="282.83" y="287.30" font-size="6.6" font-weight="bold" fill="#000" stroke="#000" stroke-width="0.12" text-anchor="middle" font-family="Liberation Sans, sans-serif">10<tspan dy="-2.5" font-size="4.3">4</tspan></text>
<line x1="298.52" y1="277.7" x2="298.52" y2="280.2" stroke="#b0b0b0" stroke-width="0.7"/>
<line x1="302.97" y1="277.7" x2="302.97" y2="279.0" stroke="#c0c0c0" stroke-width="0.5"/>
<line x1="305.57" y1="277.7" x2="305.57" y2="279.0" stroke="#c0c0c0" stroke-width="0.5"/>
<line x1="307.42" y1="277.7" x2="307.42" y2="279.0" stroke="#c0c0c0" stroke-width="0.5"/>
<line x1="308.85" y1="277.7" x2="308.85" y2="279.0" stroke="#c0c0c0" stroke-width="0.5"/>
<line x1="310.02" y1="277.7" x2="310.02" y2="279.0" stroke="#c0c0c0" stroke-width="0.5"/>
<line x1="311.01" y1="277.7" x2="311.01" y2="279.0" stroke="#c0c0c0" stroke-width="0.5"/>
<line x1="311.87" y1="277.7" x2="311.87" y2="279.0" stroke="#c0c0c0" stroke-width="0.5"/>
<line x1="312.62" y1="277.7" x2="312.62" y2="279.0" stroke="#c0c0c0" stroke-width="0.5"/>
<text x="297.62" y="287.30" font-size="6.6" font-weight="bold" fill="#000" stroke="#000" stroke-width="0.12" text-anchor="middle" font-family="Liberation Sans, sans-serif">10<tspan dy="-2.5" font-size="4.3">5</tspan></text>
<line x1="313.30" y1="277.7" x2="313.30" y2="280.2" stroke="#b0b0b0" stroke-width="0.7"/>
<text x="309.80" y="287.30" font-size="6.6" font-weight="bold" fill="#000" stroke="#000" stroke-width="0.12" text-anchor="middle" font-family="Liberation Sans, sans-serif">10<tspan dy="-2.5" font-size="4.3">6</tspan></text>
<polygon points="225.00,271.61 225.40,271.23 225.80,271.20 226.20,270.90 226.60,270.91 227.00,271.40 227.40,270.40 227.80,271.36 228.20,270.12 228.60,270.23 229.00,269.83 229.40,269.06 229.80,268.37 230.20,268.34 230.60,266.87 231.00,266.02 231.40,265.50 231.80,264.63 232.20,264.59 232.60,263.85 233.00,262.99 233.40,262.30 233.80,260.71 234.20,259.67 234.60,259.38 235.00,258.47 235.40,256.07 235.80,255.00 236.20,254.01 236.60,253.29 237.00,252.02 237.40,250.95 237.80,248.82 238.20,246.48 238.60,244.30 239.00,243.17 239.40,240.54 239.80,238.61 240.20,236.70 240.60,235.84 241.00,234.61 241.40,234.27 241.80,232.05 242.20,231.51 242.60,229.64 243.00,228.17 243.40,225.30 243.80,222.66 244.20,217.23 244.60,212.58 245.00,209.19 245.40,206.85 245.80,204.20 246.20,202.01 246.60,200.28 247.00,197.48 247.40,197.84 247.80,195.71 248.20,195.96 248.60,191.65 249.00,190.59 249.40,192.13 249.80,188.05 250.20,189.65 250.60,193.27 251.00,194.79 251.40,198.31 251.80,200.19 252.20,205.95 252.60,210.44 253.00,215.01 253.40,220.58 253.80,225.70 254.20,231.54 254.60,235.44 255.00,239.01 255.40,244.01 255.80,248.87 256.20,251.45 256.60,255.41 257.00,258.56 257.40,261.51 257.80,264.58 258.20,266.93 258.60,267.28 259.00,267.83 259.40,268.70 259.80,269.37 260.20,270.69 260.60,272.10 261.00,271.48 261.40,272.01 261.80,272.66 262.20,272.58 262.60,273.11 263.00,273.78 263.40,274.01 263.80,274.07 264.20,274.29 264.60,274.98 265.00,275.20 265.40,275.37 265.80,276.10 266.20,276.62 266.60,276.59 267.00,277.11 267.40,277.30 267.80,277.53 267.80,277.70 267.40,277.70 267.00,277.70 266.60,277.70 266.20,277.70 265.80,277.70 265.40,277.70 265.00,277.70 264.60,277.70 264.20,277.70 263.80,277.70 263.40,277.70 263.00,277.43 262.60,277.70 262.20,276.96 261.80,277.17 261.40,276.39 261.00,277.48 260.60,276.63 260.20,277.70 259.80,277.70 259.40,275.05 259.00,276.60 258.60,277.40 258.20,276.85 257.80,274.70 257.40,272.45 257.00,271.45 256.60,268.36 256.20,263.09 255.80,261.19 255.40,254.50 255.00,254.15 254.60,251.34 254.20,244.18 253.80,240.09 253.40,233.40 253.00,228.85 252.60,229.93 252.20,223.78 251.80,220.51 251.40,214.38 251.00,212.77 250.60,213.16 250.20,204.75 249.80,206.26 249.40,210.36 249.00,209.31 248.60,215.52 248.20,216.67 247.80,216.86 247.40,212.58 247.00,218.00 246.60,217.11 246.20,220.51 245.80,221.31 245.40,220.98 245.00,225.15 244.60,226.94 244.20,231.14 243.80,232.97 243.40,236.97 243.00,242.53 242.60,247.26 242.20,244.35 241.80,243.22 241.40,247.28 241.00,248.34 240.60,251.67 240.20,250.55 239.80,251.52 239.40,250.97 239.00,254.12 238.60,255.84 238.20,261.43 237.80,258.27 237.40,261.87 237.00,264.16 236.60,263.85 236.20,266.07 235.80,267.48 235.40,271.41 235.00,268.04 234.60,268.99 234.20,272.47 233.80,273.76 233.40,272.51 233.00,272.13 232.60,272.63 232.20,274.77 231.80,275.16 231.40,276.31 231.00,273.82 230.60,277.50 230.20,275.62 229.80,275.75 229.40,277.15 229.00,275.13 228.60,275.16 228.20,276.62 227.80,275.72 227.40,277.62 227.00,276.27 226.60,275.72 226.20,277.14 225.80,276.18 225.40,277.66 225.00,277.70" fill="#bf0000" fill-opacity="0.62"/>
<polyline points="225.00,273.53 225.18,275.64 225.40,272.55 225.54,272.94 225.70,271.11 225.95,277.12 226.22,270.87 226.36,276.15 226.61,271.46 226.85,273.66 227.00,271.08 227.23,272.85 227.44,270.72 227.74,276.83 228.03,273.83 228.26,273.59 228.52,273.41 228.69,277.25 228.87,270.70 229.14,274.12 229.37,269.30 229.64,274.91 229.90,271.04 230.12,271.66 230.38,269.57 230.69,267.78 230.92,266.60 231.11,273.63 231.33,265.59 231.62,272.00 231.91,264.58 232.11,269.40 232.32,273.33 232.62,274.84 232.85,272.89 233.00,271.98 233.26,262.28 233.48,271.97 233.62,263.91 233.88,271.29 234.04,274.17 234.24,262.95 234.41,270.27 234.63,271.38 234.86,263.70 235.12,271.48 235.29,260.38 235.43,265.27 235.57,257.92 235.86,268.37 236.12,268.11 236.35,267.04 236.57,252.94 236.78,264.68 236.97,261.19 237.25,254.04 237.48,256.65 237.75,262.24 237.91,249.01 238.10,259.76 238.27,258.54 238.56,250.96 238.79,243.23 239.08,252.00 239.32,242.07 239.49,250.98 239.69,244.40 239.99,247.17 240.18,240.24 240.37,248.21 240.66,244.10 240.83,249.12 241.10,244.91 241.32,246.59 241.58,241.62 241.73,236.35 241.95,243.55 242.21,242.62 242.47,241.64 242.69,245.16 242.84,228.67 243.04,231.89 243.34,226.46 243.64,239.49 243.78,233.83 243.92,236.13 244.10,219.85 244.40,227.05 244.56,216.26 244.84,218.43 245.04,209.71 245.22,218.27 245.38,213.02 245.62,219.10 245.79,205.59 246.00,218.49 246.27,215.56 246.51,204.31 246.66,213.83 246.82,216.89 246.96,198.13 247.26,215.04 247.50,198.63 247.73,204.27 247.87,195.30 248.02,209.21 248.33,199.04 248.52,207.62 248.71,212.37 248.97,194.59 249.22,196.15 249.42,207.45 249.71,187.70 250.00,206.43 250.25,201.37 250.55,195.66 250.80,198.71 250.95,213.54 251.26,201.13 251.46,216.49 251.63,218.03 251.78,215.11 251.99,201.58 252.19,221.76 252.48,226.66 252.65,228.83 252.80,212.07 253.07,229.83 253.28,218.39 253.49,232.42 253.71,224.29 253.92,239.88 254.13,229.56 254.33,243.16 254.56,239.09 254.74,246.98 254.88,237.86 255.04,250.22 255.17,244.32 255.41,254.76 255.71,247.92 255.92,262.47 256.16,251.79 256.46,260.82 256.70,259.65 256.86,259.58 257.09,258.78 257.29,273.17 257.59,271.12 257.72,271.34 257.98,266.00 258.19,270.86 258.35,271.81 258.62,273.64 258.86,267.64 259.08,273.49 259.32,270.80 259.59,275.78 259.82,270.33 260.04,273.10 260.20,271.58 260.36,275.83 260.67,271.20 260.87,277.20 261.09,271.48 261.29,277.65 261.50,273.25 261.79,277.46 262.05,272.63 262.25,277.70 262.43,272.85 262.73,274.70 262.92,277.70 263.07,275.38 263.32,277.70 263.51,277.70 263.67,277.70 263.90,277.70 264.05,276.37 264.19,277.70 264.46,275.48 264.69,277.70 264.85,277.67 265.08,277.70 265.23,277.64 265.38,277.70 265.52,277.70 265.79,277.70 266.08,275.97 266.30,277.12 266.58,276.66 266.72,277.70 266.88,277.40 267.16,277.23 267.42,277.70 267.66,277.70 267.89,277.70" fill="none" stroke="#b80000" stroke-width="0.5" stroke-opacity="0.95"/>
<polyline points="225.00,271.44 225.35,272.81 225.57,271.60 225.92,274.07 226.18,272.59 226.39,275.30 226.59,274.84 226.90,272.40 227.20,270.44 227.43,276.09 227.65,270.55 227.86,276.27 228.12,270.00 228.32,274.42 228.72,270.72 228.99,273.71 229.25,276.98 229.65,276.85 229.98,276.23 230.22,271.94 230.59,273.70 230.81,275.78 231.05,265.98 231.24,273.54 231.55,271.95 231.97,269.08 232.37,269.83 232.66,268.35 232.96,267.74 233.31,262.43 233.73,261.49 234.09,274.04 234.44,268.89 234.79,272.07 235.08,265.35 235.39,266.99 235.67,255.61 235.97,259.72 236.22,253.90 236.49,255.12 236.87,252.93 237.05,262.22 237.28,252.56 237.69,262.48 238.10,247.88 238.32,256.01 238.73,248.95 239.03,252.70 239.44,243.51 239.66,247.57 239.91,237.74 240.24,243.03 240.54,248.65 240.80,245.17 241.06,234.05 241.31,244.01 241.52,234.01 241.85,242.02 242.06,235.30 242.34,242.11 242.68,245.15 242.94,230.01 243.15,235.62 243.43,228.78 243.80,225.84 244.13,233.35 244.49,222.96 244.87,228.16 245.23,207.09 245.43,215.89 245.81,204.92 246.20,220.27 246.49,200.85 246.69,219.18 246.89,204.56 247.10,214.41 247.34,208.18 247.60,213.73 247.99,206.09 248.31,197.68 248.61,197.33 248.94,202.36 249.36,198.51 249.74,209.63 250.14,200.51 250.35,207.52 250.75,199.58 251.16,214.83 251.41,199.64 251.76,211.80 252.13,202.95 252.52,223.01 252.93,215.60 253.14,233.22 253.48,224.65 253.73,240.98 254.06,233.67 254.25,238.87 254.60,234.62 254.98,249.76 255.24,242.79 255.54,258.42 255.77,261.77 256.10,264.16 256.41,261.75 256.79,266.76 257.19,259.73 257.54,275.26 257.93,269.43 258.26,273.73 258.49,270.62 258.70,273.39 258.99,267.92 259.26,271.41 259.64,273.02 259.96,274.57 260.33,274.24 260.58,275.41 260.85,277.32 261.13,277.70 261.46,276.05 261.68,275.63 262.01,277.70 262.24,277.14 262.60,274.61 262.84,275.72 263.22,274.55 263.49,277.70 263.87,274.10 264.17,277.70 264.53,274.59 264.92,277.70 265.21,275.19 265.39,276.25 265.68,277.70 265.96,277.70 266.19,277.70 266.48,277.70 266.73,277.49 267.03,277.70 267.40,277.37 267.78,277.70 267.98,277.70" fill="none" stroke="#c80000" stroke-width="0.45" stroke-opacity="0.9"/>
<polyline points="225.00,272.86 225.54,275.54 225.99,274.84 226.45,275.00 226.95,271.42 227.61,272.90 227.93,270.81 228.60,275.92 229.10,273.41 229.66,272.54 230.09,267.64 230.50,276.00 230.88,271.63 231.48,276.02 231.88,266.39 232.18,275.69 232.49,264.00 232.82,275.31 233.38,269.33 233.93,271.78 234.53,259.03 235.15,271.29 235.51,256.54 235.84,268.37 236.43,253.80 237.07,254.14 237.77,248.03 238.13,250.01 238.70,243.57 239.24,248.96 239.88,237.77 240.30,250.86 240.90,234.50 241.42,238.60 242.01,246.48 242.46,243.48 243.08,235.67 243.43,230.06 244.04,224.26 244.63,219.63 245.15,224.60 245.46,215.94 245.95,205.83 246.43,208.94 247.05,204.01 247.70,202.62 248.16,214.09 248.76,205.94 249.46,209.25 249.83,203.02 250.22,202.72 250.53,210.86 251.15,195.87 251.72,208.93 252.23,204.20 252.61,215.45 253.27,221.99 253.94,241.51 254.44,232.99 255.08,242.35 255.45,254.40 255.87,254.04 256.39,257.98 256.93,270.66 257.29,265.07 257.64,275.85 258.05,272.54 258.65,274.72 259.33,277.09 259.75,274.26 260.44,271.01 260.76,277.53 261.18,276.82 261.60,277.26 261.93,276.33 262.59,277.31 263.25,275.65 263.85,277.70 264.37,277.62 264.74,277.70 265.09,275.64 265.78,277.42 266.24,277.70 266.85,277.54 267.18,276.99 267.85,277.70" fill="none" stroke="#f0b0b0" stroke-width="0.4" stroke-opacity="0.55"/>
<polyline points="225.00,271.14 225.20,273.61 225.40,270.99 225.60,273.23 225.80,271.15 226.00,273.20 226.20,270.18 226.40,272.90 226.60,270.77 226.80,272.91 227.00,271.03 227.20,273.40 227.40,269.64 227.60,272.40 227.80,271.16 228.00,273.36 228.20,269.87 228.40,272.12 228.60,269.18 228.80,272.23 229.00,269.61 229.20,271.83 229.40,268.28 229.60,271.06 229.80,267.66 230.00,270.37 230.20,267.96 230.40,270.34 230.60,266.74 230.80,268.87 231.00,265.98 231.20,268.02 231.40,265.16 231.60,267.50 231.80,264.36 232.00,266.63 232.20,263.20 232.40,266.59 232.60,263.72 232.80,265.85 233.00,262.99 233.20,264.99 233.40,262.17 233.60,264.30 233.80,259.79 234.00,262.71 234.20,259.48 234.40,261.67 234.60,259.15 234.80,261.38 235.00,257.74 235.20,260.47 235.40,255.50 235.60,258.07 235.80,254.79 236.00,257.00 236.20,253.87 236.40,256.01 236.60,253.00 236.80,255.29 237.00,251.15 237.20,254.02 237.40,250.27 237.60,252.95 237.80,248.39 238.00,250.82 238.20,246.26 238.40,248.48 238.60,244.23 238.80,246.30 239.00,243.12 239.20,245.17 239.40,239.64 239.60,242.54 239.80,238.26 240.00,240.61 240.20,236.68 240.40,238.70 240.60,235.40 240.80,237.84 241.00,233.21 241.20,236.61 241.40,233.64 241.60,236.27 241.80,231.54 242.00,234.05 242.20,230.22 242.40,233.51 242.60,228.73 242.80,231.64 243.00,227.33 243.20,230.17 243.40,225.03 243.60,227.30 243.80,222.62 244.00,224.66 244.20,216.35 244.40,219.23 244.60,211.38 244.80,214.58 245.00,208.97 245.20,211.19 245.40,206.81 245.60,208.85 245.80,203.29 246.00,206.20 246.20,201.31 246.40,204.01 246.60,199.90 246.80,202.28 247.00,197.41 247.20,199.48 247.40,197.53 247.60,199.84 247.80,195.27 248.00,197.71 248.20,195.93 248.40,197.96 248.60,191.58 248.80,193.65 249.00,189.99 249.20,192.59 249.40,192.09 249.60,194.13 249.80,187.43 250.00,190.05 250.20,189.56 250.40,191.65 250.60,192.72 250.80,195.27 251.00,194.73 251.20,196.79 251.40,198.23 251.60,200.31 251.80,199.81 252.00,202.19 252.20,205.45 252.40,207.95 252.60,209.57 252.80,212.44 253.00,213.83 253.20,217.01 253.40,219.74 253.60,222.58 253.80,224.90 254.00,227.70 254.20,231.28 254.40,233.54 254.60,235.36 254.80,237.44 255.00,238.23 255.20,241.01 255.40,243.74 255.60,246.01 255.80,247.53 256.00,250.87 256.20,250.70 256.40,253.45 256.60,255.30 256.80,257.41 257.00,257.62 257.20,260.56 257.40,261.42 257.60,263.51 257.80,263.94 258.00,266.58 258.20,265.77 258.40,268.93 258.60,266.82 258.80,269.28 259.00,267.30 259.20,269.83 259.40,267.43 259.60,270.70 259.80,269.33 260.00,271.37 260.20,270.36 260.40,272.69 260.60,270.97 260.80,274.10 261.00,270.28 261.20,273.48 261.40,271.15 261.60,274.01 261.80,272.58 262.00,274.66 262.20,271.60 262.40,274.58 262.60,272.39 262.80,275.11 263.00,272.81 263.20,275.78 263.40,273.39 263.60,276.01 263.80,273.96 264.00,276.07 264.20,273.96 264.40,276.29 264.60,274.92 264.80,276.98 265.00,274.90 265.20,277.20 265.40,274.89 265.60,277.37 265.80,275.10 266.00,277.70 266.20,276.30 266.40,277.70 266.60,276.08 266.80,277.70 267.00,276.24 267.20,277.70 267.40,276.83 267.60,277.70 267.80,277.25 268.00,277.70" fill="none" stroke="#bf0000" stroke-width="0.45" stroke-opacity="0.85"/>
<polygon points="249.10,206.16 250.00,186.60 250.90,206.16" fill="#bf0000" fill-opacity="0.9"/>
<line x1="258.5" y1="185.3" x2="258.5" y2="277.7" stroke="#f020f0" stroke-width="1.15"/>
<line x1="313.5" y1="185.3" x2="313.5" y2="277.7" stroke="#f020f0" stroke-width="1.15"/>
<line x1="258.5" y1="237.5" x2="313.5" y2="237.5" stroke="#f020f0" stroke-width="1.15"/>
<text x="259.7" y="235.4" font-size="7.0" fill="#f020f0" stroke="#f020f0" stroke-width="0.35" font-weight="bold" font-family="Liberation Sans, sans-serif" textLength="42.5" lengthAdjust="spacingAndGlyphs">R2: 1.304%</text>
<text x="0" y="0" font-size="10.4" font-weight="bold" text-anchor="middle" fill="#000" font-family="Liberation Sans, sans-serif" transform="translate(212.8,232.7) rotate(-90)">Count</text>
<text x="245.1" y="297.8" font-size="11.0" fill="#000" text-anchor="start" font-weight="bold" font-family="Liberation Sans, sans-serif" >7AAD-A</text>
<rect x="321" y="181" width="117" height="117" fill="#fff"/>
<rect x="321" y="181" width="1" height="117" fill="#a0a0a0"/>
<line x1="337.5" y1="186.5" x2="434.5" y2="186.5" stroke="#c8c8c8" stroke-width="1"/>
<line x1="340.5" y1="186.5" x2="340.5" y2="275.5" stroke="#c8c8c8" stroke-width="1"/>
<line x1="340.5" y1="275.5" x2="434.5" y2="275.5" stroke="#c8c8c8" stroke-width="1"/>
<line x1="434.5" y1="186.5" x2="434.5" y2="275.5" stroke="#c8c8c8" stroke-width="1"/>
<line x1="338.3" y1="270.45" x2="340.5" y2="270.45" stroke="#bdbdbd" stroke-width="0.6"/>
<line x1="338.3" y1="265.20" x2="340.5" y2="265.20" stroke="#bdbdbd" stroke-width="0.6"/>
<line x1="338.3" y1="259.95" x2="340.5" y2="259.95" stroke="#bdbdbd" stroke-width="0.6"/>
<line x1="338.3" y1="254.70" x2="340.5" y2="254.70" stroke="#bdbdbd" stroke-width="0.6"/>
<line x1="338.3" y1="249.45" x2="340.5" y2="249.45" stroke="#bdbdbd" stroke-width="0.6"/>
<line x1="338.3" y1="244.20" x2="340.5" y2="244.20" stroke="#bdbdbd" stroke-width="0.6"/>
<line x1="338.3" y1="238.95" x2="340.5" y2="238.95" stroke="#bdbdbd" stroke-width="0.6"/>
<line x1="338.3" y1="233.70" x2="340.5" y2="233.70" stroke="#bdbdbd" stroke-width="0.6"/>
<line x1="338.3" y1="228.45" x2="340.5" y2="228.45" stroke="#bdbdbd" stroke-width="0.6"/>
<line x1="338.3" y1="223.20" x2="340.5" y2="223.20" stroke="#bdbdbd" stroke-width="0.6"/>
<line x1="338.3" y1="217.95" x2="340.5" y2="217.95" stroke="#bdbdbd" stroke-width="0.6"/>
<line x1="338.3" y1="212.70" x2="340.5" y2="212.70" stroke="#bdbdbd" stroke-width="0.6"/>
<line x1="338.3" y1="207.45" x2="340.5" y2="207.45" stroke="#bdbdbd" stroke-width="0.6"/>
<line x1="338.3" y1="202.20" x2="340.5" y2="202.20" stroke="#bdbdbd" stroke-width="0.6"/>
<line x1="338.3" y1="196.95" x2="340.5" y2="196.95" stroke="#bdbdbd" stroke-width="0.6"/>
<line x1="338.3" y1="191.70" x2="340.5" y2="191.70" stroke="#bdbdbd" stroke-width="0.6"/>
<line x1="338.3" y1="186.45" x2="340.5" y2="186.45" stroke="#bdbdbd" stroke-width="0.6"/>
<line x1="337.4" y1="275.7" x2="340.4" y2="275.7" stroke="#b0b0b0" stroke-width="0.7"/>
<text x="336.0" y="277.90" font-size="6.4" fill="#000" text-anchor="end" font-weight="bold" font-family="Liberation Sans, sans-serif" stroke="#000" stroke-width="0.15">0</text>
<line x1="337.4" y1="265.2" x2="340.4" y2="265.2" stroke="#b0b0b0" stroke-width="0.7"/>
<text x="336.0" y="267.40" font-size="6.4" fill="#000" text-anchor="end" font-weight="bold" font-family="Liberation Sans, sans-serif" stroke="#000" stroke-width="0.15">2</text>
<line x1="337.4" y1="254.7" x2="340.4" y2="254.7" stroke="#b0b0b0" stroke-width="0.7"/>
<text x="336.0" y="256.90" font-size="6.4" fill="#000" text-anchor="end" font-weight="bold" font-family="Liberation Sans, sans-serif" stroke="#000" stroke-width="0.15">4</text>
<line x1="337.4" y1="244.2" x2="340.4" y2="244.2" stroke="#b0b0b0" stroke-width="0.7"/>
<text x="336.0" y="246.40" font-size="6.4" fill="#000" text-anchor="end" font-weight="bold" font-family="Liberation Sans, sans-serif" stroke="#000" stroke-width="0.15">6</text>
<line x1="337.4" y1="233.7" x2="340.4" y2="233.7" stroke="#b0b0b0" stroke-width="0.7"/>
<text x="336.0" y="235.90" font-size="6.4" fill="#000" text-anchor="end" font-weight="bold" font-family="Liberation Sans, sans-serif" stroke="#000" stroke-width="0.15">8</text>
<line x1="337.4" y1="223.2" x2="340.4" y2="223.2" stroke="#b0b0b0" stroke-width="0.7"/>
<text x="336.0" y="225.40" font-size="6.4" fill="#000" text-anchor="end" font-weight="bold" font-family="Liberation Sans, sans-serif" stroke="#000" stroke-width="0.15">10</text>
<line x1="337.4" y1="212.7" x2="340.4" y2="212.7" stroke="#b0b0b0" stroke-width="0.7"/>
<text x="336.0" y="214.90" font-size="6.4" fill="#000" text-anchor="end" font-weight="bold" font-family="Liberation Sans, sans-serif" stroke="#000" stroke-width="0.15">12</text>
<line x1="337.4" y1="202.2" x2="340.4" y2="202.2" stroke="#b0b0b0" stroke-width="0.7"/>
<text x="336.0" y="204.40" font-size="6.4" fill="#000" text-anchor="end" font-weight="bold" font-family="Liberation Sans, sans-serif" stroke="#000" stroke-width="0.15">14</text>
<line x1="337.4" y1="191.7" x2="340.4" y2="191.7" stroke="#b0b0b0" stroke-width="0.7"/>
<text x="336.0" y="193.90" font-size="6.4" fill="#000" text-anchor="end" font-weight="bold" font-family="Liberation Sans, sans-serif" stroke="#000" stroke-width="0.15">16</text>
<line x1="340.40" y1="275.7" x2="340.40" y2="278.2" stroke="#b0b0b0" stroke-width="0.7"/>
<line x1="345.12" y1="275.7" x2="345.12" y2="277.0" stroke="#c0c0c0" stroke-width="0.5"/>
<line x1="347.88" y1="275.7" x2="347.88" y2="277.0" stroke="#c0c0c0" stroke-width="0.5"/>
<line x1="349.84" y1="275.7" x2="349.84" y2="277.0" stroke="#c0c0c0" stroke-width="0.5"/>
<line x1="351.36" y1="275.7" x2="351.36" y2="277.0" stroke="#c0c0c0" stroke-width="0.5"/>
<line x1="352.60" y1="275.7" x2="352.60" y2="277.0" stroke="#c0c0c0" stroke-width="0.5"/>
<line x1="353.65" y1="275.7" x2="353.65" y2="277.0" stroke="#c0c0c0" stroke-width="0.5"/>
<line x1="354.56" y1="275.7" x2="354.56" y2="277.0" stroke="#c0c0c0" stroke-width="0.5"/>
<line x1="355.37" y1="275.7" x2="355.37" y2="277.0" stroke="#c0c0c0" stroke-width="0.5"/>
<text x="339.50" y="285.30" font-size="6.6" font-weight="bold" fill="#000" stroke="#000" stroke-width="0.12" text-anchor="middle" font-family="Liberation Sans, sans-serif">10<tspan dy="-2.5" font-size="4.3">0</tspan></text>
<line x1="356.08" y1="275.7" x2="356.08" y2="278.2" stroke="#b0b0b0" stroke-width="0.7"/>
<line x1="360.80" y1="275.7" x2="360.80" y2="277.0" stroke="#c0c0c0" stroke-width="0.5"/>
<line x1="363.57" y1="275.7" x2="363.57" y2="277.0" stroke="#c0c0c0" stroke-width="0.5"/>
<line x1="365.53" y1="275.7" x2="365.53" y2="277.0" stroke="#c0c0c0" stroke-width="0.5"/>
<line x1="367.05" y1="275.7" x2="367.05" y2="277.0" stroke="#c0c0c0" stroke-width="0.5"/>
<line x1="368.29" y1="275.7" x2="368.29" y2="277.0" stroke="#c0c0c0" stroke-width="0.5"/>
<line x1="369.34" y1="275.7" x2="369.34" y2="277.0" stroke="#c0c0c0" stroke-width="0.5"/>
<line x1="370.25" y1="275.7" x2="370.25" y2="277.0" stroke="#c0c0c0" stroke-width="0.5"/>
<line x1="371.05" y1="275.7" x2="371.05" y2="277.0" stroke="#c0c0c0" stroke-width="0.5"/>
<text x="355.18" y="285.30" font-size="6.6" font-weight="bold" fill="#000" stroke="#000" stroke-width="0.12" text-anchor="middle" font-family="Liberation Sans, sans-serif">10<tspan dy="-2.5" font-size="4.3">1</tspan></text>
<line x1="371.77" y1="275.7" x2="371.77" y2="278.2" stroke="#b0b0b0" stroke-width="0.7"/>
<line x1="376.49" y1="275.7" x2="376.49" y2="277.0" stroke="#c0c0c0" stroke-width="0.5"/>
<line x1="379.25" y1="275.7" x2="379.25" y2="277.0" stroke="#c0c0c0" stroke-width="0.5"/>
<line x1="381.21" y1="275.7" x2="381.21" y2="277.0" stroke="#c0c0c0" stroke-width="0.5"/>
<line x1="382.73" y1="275.7" x2="382.73" y2="277.0" stroke="#c0c0c0" stroke-width="0.5"/>
<line x1="383.97" y1="275.7" x2="383.97" y2="277.0" stroke="#c0c0c0" stroke-width="0.5"/>
<line x1="385.02" y1="275.7" x2="385.02" y2="277.0" stroke="#c0c0c0" stroke-width="0.5"/>
<line x1="385.93" y1="275.7" x2="385.93" y2="277.0" stroke="#c0c0c0" stroke-width="0.5"/>
<line x1="386.73" y1="275.7" x2="386.73" y2="277.0" stroke="#c0c0c0" stroke-width="0.5"/>
<text x="370.87" y="285.30" font-size="6.6" font-weight="bold" fill="#000" stroke="#000" stroke-width="0.12" text-anchor="middle" font-family="Liberation Sans, sans-serif">10<tspan dy="-2.5" font-size="4.3">2</tspan></text>
<line x1="387.45" y1="275.7" x2="387.45" y2="278.2" stroke="#b0b0b0" stroke-width="0.7"/>
<line x1="392.17" y1="275.7" x2="392.17" y2="277.0" stroke="#c0c0c0" stroke-width="0.5"/>
<line x1="394.93" y1="275.7" x2="394.93" y2="277.0" stroke="#c0c0c0" stroke-width="0.5"/>
<line x1="396.89" y1="275.7" x2="396.89" y2="277.0" stroke="#c0c0c0" stroke-width="0.5"/>
<line x1="398.41" y1="275.7" x2="398.41" y2="277.0" stroke="#c0c0c0" stroke-width="0.5"/>
<line x1="399.65" y1="275.7" x2="399.65" y2="277.0" stroke="#c0c0c0" stroke-width="0.5"/>
<line x1="400.70" y1="275.7" x2="400.70" y2="277.0" stroke="#c0c0c0" stroke-width="0.5"/>
<line x1="401.61" y1="275.7" x2="401.61" y2="277.0" stroke="#c0c0c0" stroke-width="0.5"/>
<line x1="402.42" y1="275.7" x2="402.42" y2="277.0" stroke="#c0c0c0" stroke-width="0.5"/>
<text x="386.55" y="285.30" font-size="6.6" font-weight="bold" fill="#000" stroke="#000" stroke-width="0.12" text-anchor="middle" font-family="Liberation Sans, sans-serif">10<tspan dy="-2.5" font-size="4.3">3</tspan></text>
<line x1="403.13" y1="275.7" x2="403.13" y2="278.2" stroke="#b0b0b0" stroke-width="0.7"/>
<line x1="407.85" y1="275.7" x2="407.85" y2="277.0" stroke="#c0c0c0" stroke-width="0.5"/>
<line x1="410.62" y1="275.7" x2="410.62" y2="277.0" stroke="#c0c0c0" stroke-width="0.5"/>
<line x1="412.58" y1="275.7" x2="412.58" y2="277.0" stroke="#c0c0c0" stroke-width="0.5"/>
<line x1="414.10" y1="275.7" x2="414.10" y2="277.0" stroke="#c0c0c0" stroke-width="0.5"/>
<line x1="415.34" y1="275.7" x2="415.34" y2="277.0" stroke="#c0c0c0" stroke-width="0.5"/>
<line x1="416.39" y1="275.7" x2="416.39" y2="277.0" stroke="#c0c0c0" stroke-width="0.5"/>
<line x1="417.30" y1="275.7" x2="417.30" y2="277.0" stroke="#c0c0c0" stroke-width="0.5"/>
<line x1="418.10" y1="275.7" x2="418.10" y2="277.0" stroke="#c0c0c0" stroke-width="0.5"/>
<text x="402.23" y="285.30" font-size="6.6" font-weight="bold" fill="#000" stroke="#000" stroke-width="0.12" text-anchor="middle" font-family="Liberation Sans, sans-serif">10<tspan dy="-2.5" font-size="4.3">4</tspan></text>
<line x1="418.82" y1="275.7" x2="418.82" y2="278.2" stroke="#b0b0b0" stroke-width="0.7"/>
<line x1="423.54" y1="275.7" x2="423.54" y2="277.0" stroke="#c0c0c0" stroke-width="0.5"/>
<line x1="426.30" y1="275.7" x2="426.30" y2="277.0" stroke="#c0c0c0" stroke-width="0.5"/>
<line x1="428.26" y1="275.7" x2="428.26" y2="277.0" stroke="#c0c0c0" stroke-width="0.5"/>
<line x1="429.78" y1="275.7" x2="429.78" y2="277.0" stroke="#c0c0c0" stroke-width="0.5"/>
<line x1="431.02" y1="275.7" x2="431.02" y2="277.0" stroke="#c0c0c0" stroke-width="0.5"/>
<line x1="432.07" y1="275.7" x2="432.07" y2="277.0" stroke="#c0c0c0" stroke-width="0.5"/>
<line x1="432.98" y1="275.7" x2="432.98" y2="277.0" stroke="#c0c0c0" stroke-width="0.5"/>
<line x1="433.78" y1="275.7" x2="433.78" y2="277.0" stroke="#c0c0c0" stroke-width="0.5"/>
<text x="417.92" y="285.30" font-size="6.6" font-weight="bold" fill="#000" stroke="#000" stroke-width="0.12" text-anchor="middle" font-family="Liberation Sans, sans-serif">10<tspan dy="-2.5" font-size="4.3">5</tspan></text>
<line x1="434.50" y1="275.7" x2="434.50" y2="278.2" stroke="#b0b0b0" stroke-width="0.7"/>
<text x="431.00" y="285.30" font-size="6.6" font-weight="bold" fill="#000" stroke="#000" stroke-width="0.12" text-anchor="middle" font-family="Liberation Sans, sans-serif">10<tspan dy="-2.5" font-size="4.3">6</tspan></text>
<path d="M341.00 275.70V270.45M343.84 275.70V270.45M348.38 275.70V265.20M352.47 275.70V259.95M354.00 275.70V259.95M356.11 275.70V259.95M357.55 275.70V249.45M357.85 275.70V259.95M358.91 275.70V259.95M359.51 275.70V249.45M359.91 275.70V233.70M363.79 275.70V233.70M365.47 275.70V223.20M366.81 275.70V207.45M368.71 275.70V191.70M371.47 275.70V228.45M372.90 275.70V238.95M375.96 275.70V244.20M384.22 275.70V270.45" stroke="#bb0000" stroke-width="0.55" stroke-opacity="0.6" fill="none"/>
<path d="M341.30 275.70V265.20M344.86 275.70V265.20M347.22 275.70V270.45M347.61 275.70V265.20M349.11 275.70V265.20M351.78 275.70V265.20M353.13 275.70V254.70M353.38 275.70V265.20M358.55 275.70V254.70M360.25 275.70V238.95M361.71 275.70V233.70M362.93 275.70V233.70M363.39 275.70V207.45M364.90 275.70V196.95M365.76 275.70V207.45M366.01 275.70V238.95M368.12 275.70V212.70M370.01 275.70V196.95M370.76 275.70V212.70M371.74 275.70V233.70M372.20 275.70V228.45M375.57 275.70V259.95M377.49 275.70V249.45M377.87 275.70V223.20M378.95 275.70V244.20M379.40 275.70V249.45M380.05 275.70V254.70M380.33 275.70V254.70" stroke="#bb0000" stroke-width="0.55" stroke-opacity="0.85" fill="none"/>
<path d="M343.39 275.70V270.45M344.61 275.70V265.20M346.12 275.70V265.20M349.87 275.70V259.95M350.66 275.70V265.20M352.84 275.70V265.20M356.56 275.70V254.70M356.89 275.70V254.70M359.18 275.70V249.45M361.29 275.70V244.20M362.18 275.70V212.70M367.81 275.70V238.95M368.97 275.70V191.70M369.34 275.70V186.45M370.35 275.70V191.70M373.61 275.70V223.20M374.37 275.70V249.45M374.82 275.70V249.45M375.18 275.70V233.70M376.38 275.70V244.20M378.68 275.70V249.45M380.62 275.70V249.45M382.02 275.70V259.95M384.53 275.70V270.45M384.96 275.70V270.45M385.68 275.70V270.45M386.44 275.70V270.45" stroke="#bb0000" stroke-width="0.55" stroke-opacity="0.95" fill="none"/>
<path d="M341.69 275.70V270.45M342.15 275.70V265.20M342.58 275.70V265.20M343.01 275.70V265.20M344.25 275.70V265.20M345.23 275.70V265.20M345.69 275.70V265.20M346.48 275.70V265.20M346.82 275.70V265.20M347.98 275.70V270.45M348.77 275.70V265.20M349.44 275.70V265.20M350.19 275.70V265.20M351.06 275.70V259.95M351.35 275.70V254.70M352.12 275.70V265.20M353.68 275.70V259.95M354.45 275.70V254.70M354.82 275.70V259.95M355.08 275.70V254.70M355.36 275.70V249.45M355.71 275.70V249.45M357.15 275.70V249.45M358.18 275.70V254.70M360.55 275.70V238.95M361.00 275.70V238.95M362.57 275.70V212.70M364.15 275.70V244.20M364.57 275.70V207.45M365.16 275.70V228.45M366.47 275.70V196.95M367.13 275.70V228.45M367.53 275.70V212.70M368.39 275.70V228.45M369.68 275.70V186.45M371.15 275.70V212.70M372.59 275.70V212.70M373.34 275.70V238.95M374.07 275.70V249.45M376.77 275.70V254.70M377.13 275.70V233.70M378.33 275.70V254.70M379.72 275.70V244.20M381.00 275.70V249.45M381.39 275.70V265.20M381.74 275.70V254.70M382.38 275.70V254.70M382.72 275.70V259.95M383.07 275.70V265.20M383.52 275.70V265.20M383.80 275.70V259.95M385.21 275.70V265.20M386.01 275.70V270.45" stroke="#bb0000" stroke-width="0.55" stroke-opacity="1.0" fill="none"/>
<rect x="349.55" y="246.80" width="0.9" height="28.90" fill="#bf0000" fill-opacity="0.75"/>
<rect x="364.55" y="190.00" width="0.9" height="85.70" fill="#bf0000" fill-opacity="0.75"/>
<rect x="369.05" y="186.50" width="0.9" height="89.20" fill="#bf0000" fill-opacity="0.75"/>
<rect x="377.55" y="220.00" width="0.9" height="55.70" fill="#bf0000" fill-opacity="0.75"/>
<line x1="376.5" y1="186.4" x2="376.5" y2="275.7" stroke="#f020f0" stroke-width="1.15"/>
<line x1="434.5" y1="186.4" x2="434.5" y2="275.7" stroke="#f020f0" stroke-width="1.15"/>
<line x1="376.5" y1="237.5" x2="434.5" y2="237.5" stroke="#f020f0" stroke-width="1.15"/>
<text x="378.0" y="234.9" font-size="7.0" fill="#f020f0" stroke="#f020f0" stroke-width="0.35" font-weight="bold" font-family="Liberation Sans, sans-serif" textLength="49.6" lengthAdjust="spacingAndGlyphs">R2: 10.981%</text>
<text x="0" y="0" font-size="10.4" font-weight="bold" text-anchor="middle" fill="#000" font-family="Liberation Sans, sans-serif" transform="translate(328.3,227.9) rotate(-90)">Count</text>
<text x="364.2" y="297.1" font-size="11.0" fill="#000" text-anchor="start" font-weight="bold" font-family="Liberation Sans, sans-serif" >7AAD-A</text>
<rect x="441" y="181" width="117" height="117.69999999999999" fill="#fff"/>
<rect x="441" y="181" width="1" height="117.69999999999999" fill="#a0a0a0"/>
<line x1="459.5" y1="185.5" x2="553.5" y2="185.5" stroke="#c8c8c8" stroke-width="1"/>
<line x1="462.5" y1="185.5" x2="462.5" y2="276.5" stroke="#dd6666" stroke-width="1"/>
<line x1="462.5" y1="276.5" x2="553.5" y2="276.5" stroke="#c8c8c8" stroke-width="1"/>
<line x1="553.5" y1="185.5" x2="553.5" y2="276.5" stroke="#c8c8c8" stroke-width="1"/>
<line x1="460.3" y1="271.65" x2="462.5" y2="271.65" stroke="#bdbdbd" stroke-width="0.6"/>
<line x1="460.3" y1="266.40" x2="462.5" y2="266.40" stroke="#bdbdbd" stroke-width="0.6"/>
<line x1="460.3" y1="261.15" x2="462.5" y2="261.15" stroke="#bdbdbd" stroke-width="0.6"/>
<line x1="460.3" y1="255.90" x2="462.5" y2="255.90" stroke="#bdbdbd" stroke-width="0.6"/>
<line x1="460.3" y1="250.65" x2="462.5" y2="250.65" stroke="#bdbdbd" stroke-width="0.6"/>
<line x1="460.3" y1="245.40" x2="462.5" y2="245.40" stroke="#bdbdbd" stroke-width="0.6"/>
<line x1="460.3" y1="240.15" x2="462.5" y2="240.15" stroke="#bdbdbd" stroke-width="0.6"/>
<line x1="460.3" y1="234.90" x2="462.5" y2="234.90" stroke="#bdbdbd" stroke-width="0.6"/>
<line x1="460.3" y1="229.65" x2="462.5" y2="229.65" stroke="#bdbdbd" stroke-width="0.6"/>
<line x1="460.3" y1="224.40" x2="462.5" y2="224.40" stroke="#bdbdbd" stroke-width="0.6"/>
<line x1="460.3" y1="219.15" x2="462.5" y2="219.15" stroke="#bdbdbd" stroke-width="0.6"/>
<line x1="460.3" y1="213.90" x2="462.5" y2="213.90" stroke="#bdbdbd" stroke-width="0.6"/>
<line x1="460.3" y1="208.65" x2="462.5" y2="208.65" stroke="#bdbdbd" stroke-width="0.6"/>
<line x1="460.3" y1="203.40" x2="462.5" y2="203.40" stroke="#bdbdbd" stroke-width="0.6"/>
<line x1="460.3" y1="198.15" x2="462.5" y2="198.15" stroke="#bdbdbd" stroke-width="0.6"/>
<line x1="460.3" y1="192.90" x2="462.5" y2="192.90" stroke="#bdbdbd" stroke-width="0.6"/>
<line x1="460.3" y1="187.65" x2="462.5" y2="187.65" stroke="#bdbdbd" stroke-width="0.6"/>
<line x1="459.4" y1="276.9" x2="462.4" y2="276.9" stroke="#b0b0b0" stroke-width="0.7"/>
<text x="457.59999999999997" y="279.10" font-size="6.4" fill="#000" text-anchor="end" font-weight="bold" font-family="Liberation Sans, sans-serif" stroke="#000" stroke-width="0.15">0</text>
<line x1="459.4" y1="250.64999999999998" x2="462.4" y2="250.64999999999998" stroke="#b0b0b0" stroke-width="0.7"/>
<text x="457.59999999999997" y="252.85" font-size="6.4" fill="#000" text-anchor="end" font-weight="bold" font-family="Liberation Sans, sans-serif" stroke="#000" stroke-width="0.15">10</text>
<line x1="459.4" y1="224.39999999999998" x2="462.4" y2="224.39999999999998" stroke="#b0b0b0" stroke-width="0.7"/>
<text x="457.59999999999997" y="226.60" font-size="6.4" fill="#000" text-anchor="end" font-weight="bold" font-family="Liberation Sans, sans-serif" stroke="#000" stroke-width="0.15">20</text>
<line x1="459.4" y1="198.14999999999998" x2="462.4" y2="198.14999999999998" stroke="#b0b0b0" stroke-width="0.7"/>
<text x="457.59999999999997" y="200.35" font-size="6.4" fill="#000" text-anchor="end" font-weight="bold" font-family="Liberation Sans, sans-serif" stroke="#000" stroke-width="0.15">30</text>
<line x1="459.4" y1="185.02499999999998" x2="462.4" y2="185.02499999999998" stroke="#b0b0b0" stroke-width="0.7"/>
<text x="457.59999999999997" y="187.22" font-size="6.4" fill="#000" text-anchor="end" font-weight="bold" font-family="Liberation Sans, sans-serif" stroke="#000" stroke-width="0.15">35</text>
<line x1="462.40" y1="276.9" x2="462.40" y2="279.4" stroke="#b0b0b0" stroke-width="0.7"/>
<line x1="466.95" y1="276.9" x2="466.95" y2="278.2" stroke="#c0c0c0" stroke-width="0.5"/>
<line x1="469.61" y1="276.9" x2="469.61" y2="278.2" stroke="#c0c0c0" stroke-width="0.5"/>
<line x1="471.50" y1="276.9" x2="471.50" y2="278.2" stroke="#c0c0c0" stroke-width="0.5"/>
<line x1="472.97" y1="276.9" x2="472.97" y2="278.2" stroke="#c0c0c0" stroke-width="0.5"/>
<line x1="474.16" y1="276.9" x2="474.16" y2="278.2" stroke="#c0c0c0" stroke-width="0.5"/>
<line x1="475.18" y1="276.9" x2="475.18" y2="278.2" stroke="#c0c0c0" stroke-width="0.5"/>
<line x1="476.05" y1="276.9" x2="476.05" y2="278.2" stroke="#c0c0c0" stroke-width="0.5"/>
<line x1="476.82" y1="276.9" x2="476.82" y2="278.2" stroke="#c0c0c0" stroke-width="0.5"/>
<text x="461.50" y="286.50" font-size="6.6" font-weight="bold" fill="#000" stroke="#000" stroke-width="0.12" text-anchor="middle" font-family="Liberation Sans, sans-serif">10<tspan dy="-2.5" font-size="4.3">0</tspan></text>
<line x1="477.52" y1="276.9" x2="477.52" y2="279.4" stroke="#b0b0b0" stroke-width="0.7"/>
<line x1="482.07" y1="276.9" x2="482.07" y2="278.2" stroke="#c0c0c0" stroke-width="0.5"/>
<line x1="484.73" y1="276.9" x2="484.73" y2="278.2" stroke="#c0c0c0" stroke-width="0.5"/>
<line x1="486.62" y1="276.9" x2="486.62" y2="278.2" stroke="#c0c0c0" stroke-width="0.5"/>
<line x1="488.08" y1="276.9" x2="488.08" y2="278.2" stroke="#c0c0c0" stroke-width="0.5"/>
<line x1="489.28" y1="276.9" x2="489.28" y2="278.2" stroke="#c0c0c0" stroke-width="0.5"/>
<line x1="490.29" y1="276.9" x2="490.29" y2="278.2" stroke="#c0c0c0" stroke-width="0.5"/>
<line x1="491.17" y1="276.9" x2="491.17" y2="278.2" stroke="#c0c0c0" stroke-width="0.5"/>
<line x1="491.94" y1="276.9" x2="491.94" y2="278.2" stroke="#c0c0c0" stroke-width="0.5"/>
<text x="476.62" y="286.50" font-size="6.6" font-weight="bold" fill="#000" stroke="#000" stroke-width="0.12" text-anchor="middle" font-family="Liberation Sans, sans-serif">10<tspan dy="-2.5" font-size="4.3">1</tspan></text>
<line x1="492.63" y1="276.9" x2="492.63" y2="279.4" stroke="#b0b0b0" stroke-width="0.7"/>
<line x1="497.18" y1="276.9" x2="497.18" y2="278.2" stroke="#c0c0c0" stroke-width="0.5"/>
<line x1="499.85" y1="276.9" x2="499.85" y2="278.2" stroke="#c0c0c0" stroke-width="0.5"/>
<line x1="501.73" y1="276.9" x2="501.73" y2="278.2" stroke="#c0c0c0" stroke-width="0.5"/>
<line x1="503.20" y1="276.9" x2="503.20" y2="278.2" stroke="#c0c0c0" stroke-width="0.5"/>
<line x1="504.40" y1="276.9" x2="504.40" y2="278.2" stroke="#c0c0c0" stroke-width="0.5"/>
<line x1="505.41" y1="276.9" x2="505.41" y2="278.2" stroke="#c0c0c0" stroke-width="0.5"/>
<line x1="506.29" y1="276.9" x2="506.29" y2="278.2" stroke="#c0c0c0" stroke-width="0.5"/>
<line x1="507.06" y1="276.9" x2="507.06" y2="278.2" stroke="#c0c0c0" stroke-width="0.5"/>
<text x="491.73" y="286.50" font-size="6.6" font-weight="bold" fill="#000" stroke="#000" stroke-width="0.12" text-anchor="middle" font-family="Liberation Sans, sans-serif">10<tspan dy="-2.5" font-size="4.3">2</tspan></text>
<line x1="507.75" y1="276.9" x2="507.75" y2="279.4" stroke="#b0b0b0" stroke-width="0.7"/>
<line x1="512.30" y1="276.9" x2="512.30" y2="278.2" stroke="#c0c0c0" stroke-width="0.5"/>
<line x1="514.96" y1="276.9" x2="514.96" y2="278.2" stroke="#c0c0c0" stroke-width="0.5"/>
<line x1="516.85" y1="276.9" x2="516.85" y2="278.2" stroke="#c0c0c0" stroke-width="0.5"/>
<line x1="518.32" y1="276.9" x2="518.32" y2="278.2" stroke="#c0c0c0" stroke-width="0.5"/>
<line x1="519.51" y1="276.9" x2="519.51" y2="278.2" stroke="#c0c0c0" stroke-width="0.5"/>
<line x1="520.53" y1="276.9" x2="520.53" y2="278.2" stroke="#c0c0c0" stroke-width="0.5"/>
<line x1="521.40" y1="276.9" x2="521.40" y2="278.2" stroke="#c0c0c0" stroke-width="0.5"/>
<line x1="522.17" y1="276.9" x2="522.17" y2="278.2" stroke="#c0c0c0" stroke-width="0.5"/>
<text x="506.85" y="286.50" font-size="6.6" font-weight="bold" fill="#000" stroke="#000" stroke-width="0.12" text-anchor="middle" font-family="Liberation Sans, sans-serif">10<tspan dy="-2.5" font-size="4.3">3</tspan></text>
<line x1="522.87" y1="276.9" x2="522.87" y2="279.4" stroke="#b0b0b0" stroke-width="0.7"/>
<line x1="527.42" y1="276.9" x2="527.42" y2="278.2" stroke="#c0c0c0" stroke-width="0.5"/>
<line x1="530.08" y1="276.9" x2="530.08" y2="278.2" stroke="#c0c0c0" stroke-width="0.5"/>
<line x1="531.97" y1="276.9" x2="531.97" y2="278.2" stroke="#c0c0c0" stroke-width="0.5"/>
<line x1="533.43" y1="276.9" x2="533.43" y2="278.2" stroke="#c0c0c0" stroke-width="0.5"/>
<line x1="534.63" y1="276.9" x2="534.63" y2="278.2" stroke="#c0c0c0" stroke-width="0.5"/>
<line x1="535.64" y1="276.9" x2="535.64" y2="278.2" stroke="#c0c0c0" stroke-width="0.5"/>
<line x1="536.52" y1="276.9" x2="536.52" y2="278.2" stroke="#c0c0c0" stroke-width="0.5"/>
<line x1="537.29" y1="276.9" x2="537.29" y2="278.2" stroke="#c0c0c0" stroke-width="0.5"/>
<text x="521.97" y="286.50" font-size="6.6" font-weight="bold" fill="#000" stroke="#000" stroke-width="0.12" text-anchor="middle" font-family="Liberation Sans, sans-serif">10<tspan dy="-2.5" font-size="4.3">4</tspan></text>
<line x1="537.98" y1="276.9" x2="537.98" y2="279.4" stroke="#b0b0b0" stroke-width="0.7"/>
<line x1="542.53" y1="276.9" x2="542.53" y2="278.2" stroke="#c0c0c0" stroke-width="0.5"/>
<line x1="545.20" y1="276.9" x2="545.20" y2="278.2" stroke="#c0c0c0" stroke-width="0.5"/>
<line x1="547.08" y1="276.9" x2="547.08" y2="278.2" stroke="#c0c0c0" stroke-width="0.5"/>
<line x1="548.55" y1="276.9" x2="548.55" y2="278.2" stroke="#c0c0c0" stroke-width="0.5"/>
<line x1="549.75" y1="276.9" x2="549.75" y2="278.2" stroke="#c0c0c0" stroke-width="0.5"/>
<line x1="550.76" y1="276.9" x2="550.76" y2="278.2" stroke="#c0c0c0" stroke-width="0.5"/>
<line x1="551.64" y1="276.9" x2="551.64" y2="278.2" stroke="#c0c0c0" stroke-width="0.5"/>
<line x1="552.41" y1="276.9" x2="552.41" y2="278.2" stroke="#c0c0c0" stroke-width="0.5"/>
<text x="537.08" y="286.50" font-size="6.6" font-weight="bold" fill="#000" stroke="#000" stroke-width="0.12" text-anchor="middle" font-family="Liberation Sans, sans-serif">10<tspan dy="-2.5" font-size="4.3">5</tspan></text>
<line x1="553.10" y1="276.9" x2="553.10" y2="279.4" stroke="#b0b0b0" stroke-width="0.7"/>
<text x="549.60" y="286.50" font-size="6.6" font-weight="bold" fill="#000" stroke="#000" stroke-width="0.12" text-anchor="middle" font-family="Liberation Sans, sans-serif">10<tspan dy="-2.5" font-size="4.3">6</tspan></text>
<polygon points="463.00,273.57 463.40,274.15 463.80,273.05 464.20,272.61 464.60,272.02 465.00,272.35 465.40,271.84 465.80,271.12 466.20,271.05 466.60,270.33 467.00,270.32 467.40,270.74 467.80,269.49 468.20,269.82 468.60,269.62 469.00,269.03 469.40,269.12 469.80,268.28 470.20,268.54 470.60,267.40 471.00,267.12 471.40,267.31 471.80,267.62 472.20,266.60 472.60,264.97 473.00,264.00 473.40,263.95 473.80,261.57 474.20,262.62 474.60,260.03 475.00,257.52 475.40,257.00 475.80,255.66 476.20,254.22 476.60,252.67 477.00,250.45 477.40,250.30 477.80,247.68 478.20,246.63 478.60,245.58 479.00,243.70 479.40,240.88 479.80,239.63 480.20,237.87 480.60,235.46 481.00,232.62 481.40,232.48 481.80,229.12 482.20,229.82 482.60,227.62 483.00,223.82 483.40,222.44 483.80,220.21 484.20,218.76 484.60,218.16 485.00,213.94 485.40,212.63 485.80,212.38 486.20,209.14 486.60,206.20 487.00,205.35 487.40,204.02 487.80,202.58 488.20,199.53 488.60,199.27 489.00,196.67 489.40,196.65 489.80,195.63 490.20,195.31 490.60,191.44 491.00,190.27 491.40,190.03 491.80,189.01 492.20,189.71 492.60,197.48 493.00,203.53 493.40,210.41 493.80,216.22 494.20,220.92 494.60,224.75 495.00,228.13 495.40,231.47 495.80,234.86 496.20,238.76 496.60,242.45 497.00,246.23 497.40,249.94 497.80,252.83 498.20,255.84 498.60,259.53 499.00,263.22 499.40,264.82 499.80,266.40 500.20,268.02 500.60,268.93 501.00,270.38 501.40,271.75 501.80,272.70 502.20,274.00 502.60,274.12 503.00,274.42 503.40,274.51 503.80,274.71 504.20,275.12 504.60,275.64 505.00,275.71 505.40,275.91 505.80,276.34 506.20,276.36 506.60,276.74 507.00,276.90 507.00,276.90 506.60,276.90 506.20,276.90 505.80,276.90 505.40,276.90 505.00,276.90 504.60,276.90 504.20,276.90 503.80,276.90 503.40,276.90 503.00,276.90 502.60,276.90 502.20,276.90 501.80,276.90 501.40,276.90 501.00,276.90 500.60,276.84 500.20,276.90 499.80,276.89 499.40,272.73 499.00,272.03 498.60,273.69 498.20,271.52 497.80,263.14 497.40,260.86 497.00,257.39 496.60,255.27 496.20,256.10 495.80,251.22 495.40,253.02 495.00,246.78 494.60,239.57 494.20,238.48 493.80,233.09 493.40,234.42 493.00,226.93 492.60,214.80 492.20,219.12 491.80,211.28 491.40,207.96 491.00,219.27 490.60,216.77 490.20,217.63 489.80,216.87 489.40,222.13 489.00,223.17 488.60,219.41 488.20,219.97 487.80,225.46 487.40,222.77 487.00,228.82 486.60,232.55 486.20,228.09 485.80,231.01 485.40,237.40 485.00,236.71 484.60,237.48 484.20,234.40 483.80,243.24 483.40,240.40 483.00,242.44 482.60,246.67 482.20,245.29 481.80,251.04 481.40,252.00 481.00,253.99 480.60,248.39 480.20,254.92 479.80,255.26 479.40,258.11 479.00,256.84 478.60,260.43 478.20,260.39 477.80,265.17 477.40,266.63 477.00,264.34 476.60,265.60 476.20,266.71 475.80,266.29 475.40,271.49 475.00,268.56 474.60,273.29 474.20,274.49 473.80,276.13 473.40,271.85 473.00,272.15 472.60,275.19 472.20,274.71 471.80,276.79 471.40,275.33 471.00,276.68 470.60,275.51 470.20,276.90 469.80,276.39 469.40,276.63 469.00,276.72 468.60,276.90 468.20,276.90 467.80,276.90 467.40,276.90 467.00,275.91 466.60,276.90 466.20,276.29 465.80,276.51 465.40,276.90 465.00,276.90 464.60,276.90 464.20,276.90 463.80,276.90 463.40,276.90 463.00,276.90" fill="#bf0000" fill-opacity="0.62"/>
<polyline points="463.00,274.71 463.17,276.90 463.47,273.05 463.67,275.77 463.95,273.19 464.17,273.98 464.42,274.05 464.69,276.90 464.96,272.20 465.13,276.90 465.27,276.90 465.53,276.64 465.73,271.06 465.96,276.90 466.11,270.76 466.36,276.08 466.63,271.63 466.94,276.90 467.13,272.27 467.36,275.45 467.64,273.80 467.91,273.70 468.14,271.73 468.37,270.06 468.64,270.55 468.80,276.90 469.03,273.52 469.30,275.65 469.59,268.06 469.78,271.76 470.02,268.19 470.16,271.20 470.32,270.35 470.54,274.04 470.67,270.01 470.85,270.13 470.99,267.25 471.19,270.98 471.41,267.00 471.67,276.07 471.86,266.46 472.16,268.88 472.40,271.31 472.62,275.20 472.78,270.12 473.07,274.98 473.35,264.85 473.57,274.34 473.77,262.03 473.91,267.28 474.07,273.02 474.25,268.48 474.56,265.87 474.77,262.99 474.96,258.87 475.26,266.17 475.56,256.57 475.70,269.02 475.85,263.66 476.09,261.55 476.36,255.43 476.67,263.11 476.97,264.15 477.17,263.07 477.43,255.82 477.56,261.95 477.83,248.04 477.98,251.24 478.21,246.02 478.49,255.71 478.79,252.62 479.00,249.76 479.21,247.81 479.49,257.28 479.68,238.85 479.93,253.47 480.18,248.98 480.45,250.73 480.73,234.20 481.03,249.00 481.17,232.36 481.42,242.05 481.72,230.86 481.93,243.22 482.23,228.79 482.52,243.93 482.75,244.00 483.04,242.24 483.27,221.98 483.44,239.35 483.59,229.82 483.78,233.76 484.06,234.57 484.32,232.59 484.55,238.79 484.85,233.08 484.99,233.29 485.13,221.39 485.38,212.91 485.64,231.04 485.81,230.30 486.11,228.69 486.42,223.21 486.63,229.05 486.93,217.03 487.08,219.68 487.33,206.43 487.49,219.87 487.65,207.57 487.80,223.42 487.97,223.45 488.12,220.79 488.37,199.89 488.61,217.67 488.85,197.82 489.06,220.78 489.31,196.86 489.50,220.15 489.64,200.36 489.86,211.35 489.99,193.20 490.27,210.60 490.46,196.96 490.60,198.76 490.88,206.02 491.04,205.12 491.19,191.64 491.41,212.57 491.63,207.68 491.94,207.73 492.08,187.81 492.33,201.39 492.62,196.16 492.76,224.97 492.97,209.73 493.20,214.30 493.39,212.03 493.66,234.24 493.91,217.80 494.12,241.48 494.29,223.77 494.53,245.28 494.66,234.83 494.88,241.91 495.16,228.90 495.39,242.40 495.66,243.40 495.86,242.63 496.13,246.72 496.36,255.48 496.66,243.07 496.91,259.92 497.09,259.73 497.28,263.73 497.51,264.76 497.80,265.67 498.00,256.99 498.23,269.26 498.44,269.77 498.61,270.00 498.77,261.15 498.95,265.22 499.18,268.15 499.38,274.55 499.61,270.07 499.76,271.60 499.89,266.23 500.18,270.64 500.41,269.16 500.66,276.90 500.94,276.90 501.24,275.81 501.55,276.10 501.73,276.43 501.95,276.90 502.10,276.90 502.35,275.78 502.56,276.90 502.76,276.90 502.97,276.90 503.26,274.32 503.39,276.90 503.56,276.90 503.76,276.90 503.90,275.66 504.13,276.04 504.27,275.39 504.55,276.90 504.73,276.04 504.94,276.90 505.12,276.11 505.34,276.90 505.55,276.90 505.77,276.87 505.96,276.90 506.13,276.90 506.36,276.82 506.53,276.90 506.67,276.90 506.82,276.90" fill="none" stroke="#b80000" stroke-width="0.5" stroke-opacity="0.95"/>
<polyline points="463.00,274.45 463.33,276.90 463.59,272.91 463.81,276.90 464.14,276.37 464.41,276.23 464.76,274.23 465.16,274.55 465.42,274.97 465.82,276.35 466.19,270.71 466.52,275.07 466.87,270.76 467.09,274.27 467.44,273.99 467.84,274.98 468.04,274.98 468.28,276.61 468.58,270.56 468.77,273.00 469.12,270.34 469.52,276.58 469.82,276.90 470.01,273.83 470.31,267.54 470.70,271.05 471.02,267.74 471.29,273.67 471.54,266.93 471.88,274.50 472.08,275.91 472.29,270.49 472.54,266.21 472.83,275.15 473.04,267.34 473.37,269.00 473.63,264.26 474.03,273.40 474.32,259.56 474.59,272.09 474.87,260.14 475.20,259.75 475.54,262.53 475.75,264.40 476.13,254.49 476.44,261.33 476.75,253.63 477.01,265.54 477.36,265.22 477.62,259.38 477.89,259.74 478.16,260.07 478.38,250.09 478.62,260.64 478.89,258.82 479.21,251.74 479.52,255.73 479.87,255.21 480.18,243.87 480.40,253.31 480.73,242.26 480.98,250.32 481.29,233.35 481.71,247.67 482.05,242.66 482.40,239.43 482.81,242.15 483.15,237.22 483.45,221.14 483.84,240.16 484.16,222.77 484.54,219.40 484.81,216.15 485.14,227.45 485.46,231.20 485.74,218.59 485.93,226.66 486.22,224.61 486.41,207.38 486.59,230.22 486.78,207.99 487.07,223.47 487.30,213.87 487.64,227.63 487.84,203.24 488.04,214.30 488.28,199.22 488.65,211.74 489.01,214.15 489.38,199.29 489.70,213.73 490.03,214.17 490.31,210.54 490.62,207.26 490.92,195.93 491.15,212.02 491.53,199.74 491.71,205.11 492.07,187.67 492.37,214.94 492.68,200.02 492.87,222.20 493.09,212.96 493.39,229.79 493.60,235.02 493.96,239.51 494.18,231.93 494.45,241.17 494.80,229.20 495.21,243.04 495.50,242.18 495.72,252.57 495.98,251.29 496.19,244.55 496.51,241.76 496.80,251.15 497.15,255.56 497.50,255.32 497.69,256.43 497.89,265.67 498.20,268.54 498.58,271.01 498.95,265.78 499.20,266.54 499.55,269.68 499.88,273.41 500.17,275.40 500.44,271.47 500.85,274.46 501.25,276.90 501.53,271.93 501.83,276.90 502.10,276.90 502.34,276.90 502.57,274.28 502.95,276.83 503.31,274.73 503.59,276.90 503.83,276.90 504.23,276.90 504.45,275.12 504.73,276.90 505.05,276.90 505.46,276.90 505.71,276.57 505.90,276.90 506.26,276.67 506.49,276.90 506.88,276.90" fill="none" stroke="#c80000" stroke-width="0.45" stroke-opacity="0.9"/>
<polyline points="463.00,274.57 463.39,276.90 463.86,273.99 464.51,276.00 464.99,276.90 465.41,276.90 465.97,271.70 466.52,275.69 467.16,272.45 467.75,276.03 468.33,270.32 468.68,274.21 469.11,268.38 469.72,274.84 470.21,272.40 470.54,270.83 471.13,266.94 471.78,273.75 472.46,273.04 472.93,270.69 473.40,270.07 473.88,273.08 474.58,267.03 475.09,269.95 475.58,260.41 476.05,268.10 476.75,256.29 477.27,254.57 477.80,261.87 478.19,260.89 478.59,252.92 479.01,255.94 479.62,239.16 480.25,250.19 480.65,236.13 481.17,249.34 481.54,230.15 481.94,245.05 482.40,238.60 482.99,236.69 483.52,221.22 484.07,236.80 484.46,226.75 484.82,238.10 485.34,232.80 485.90,220.95 486.50,216.21 486.95,225.86 487.55,214.11 487.94,226.36 488.60,202.92 489.27,222.40 489.71,194.85 490.11,211.80 490.47,192.82 491.06,193.06 491.61,192.08 492.19,203.39 492.68,198.29 492.99,226.25 493.43,211.46 494.11,233.39 494.62,224.45 495.09,247.93 495.72,247.05 496.38,248.51 496.71,242.70 497.27,259.67 497.71,259.23 498.10,266.34 498.57,259.25 499.18,268.69 499.80,271.76 500.27,273.92 500.66,268.83 501.23,275.61 501.76,273.48 502.17,276.01 502.77,275.03 503.13,276.90 503.49,274.73 503.86,276.90 504.47,275.13 505.14,276.90 505.77,276.66 506.24,276.90 506.65,276.90" fill="none" stroke="#f0b0b0" stroke-width="0.4" stroke-opacity="0.55"/>
<polyline points="463.00,272.81 463.20,275.57 463.40,273.23 463.60,276.15 463.80,272.38 464.00,275.05 464.20,272.32 464.40,274.61 464.60,271.86 464.80,274.02 465.00,271.35 465.20,274.35 465.40,271.32 465.60,273.84 465.80,270.95 466.00,273.12 466.20,270.63 466.40,273.05 466.60,269.59 466.80,272.33 467.00,270.22 467.20,272.32 467.40,270.35 467.60,272.74 467.80,269.36 468.00,271.49 468.20,269.78 468.40,271.82 468.60,268.77 468.80,271.62 469.00,268.54 469.20,271.03 469.40,268.18 469.60,271.12 469.80,267.84 470.00,270.28 470.20,268.09 470.40,270.54 470.60,266.87 470.80,269.40 471.00,266.55 471.20,269.12 471.40,267.23 471.60,269.31 471.80,267.35 472.00,269.62 472.20,266.41 472.40,268.60 472.60,264.23 472.80,266.97 473.00,263.94 473.20,266.00 473.40,263.50 473.60,265.95 473.80,261.36 474.00,263.57 474.20,261.30 474.40,264.62 474.60,259.55 474.80,262.03 475.00,256.88 475.20,259.52 475.40,256.88 475.60,259.00 475.80,255.00 476.00,257.66 476.20,253.77 476.40,256.22 476.60,252.42 476.80,254.67 477.00,249.86 477.20,252.45 477.40,249.84 477.60,252.30 477.80,247.39 478.00,249.68 478.20,246.55 478.40,248.63 478.60,245.29 478.80,247.58 479.00,243.53 479.20,245.70 479.40,240.10 479.60,242.88 479.80,239.40 480.00,241.63 480.20,236.99 480.40,239.87 480.60,234.57 480.80,237.46 481.00,231.82 481.20,234.62 481.40,231.83 481.60,234.48 481.80,228.21 482.00,231.12 482.20,229.01 482.40,231.82 482.60,226.89 482.80,229.62 483.00,223.48 483.20,225.82 483.40,222.08 483.60,224.44 483.80,219.54 484.00,222.21 484.20,218.43 484.40,220.76 484.60,218.02 484.80,220.16 485.00,213.00 485.20,215.94 485.40,212.52 485.60,214.63 485.80,212.03 486.00,214.38 486.20,207.92 486.40,211.14 486.60,204.76 486.80,208.20 487.00,205.19 487.20,207.35 487.40,203.94 487.60,206.02 487.80,202.49 488.00,204.58 488.20,198.87 488.40,201.53 488.60,198.94 488.80,201.27 489.00,196.61 489.20,198.67 489.40,196.22 489.60,198.65 489.80,194.68 490.00,197.63 490.20,195.16 490.40,197.31 490.60,191.02 490.80,193.44 491.00,189.18 491.20,192.27 491.40,189.73 491.60,192.03 491.80,188.88 492.00,191.01 492.20,188.69 492.40,191.71 492.60,197.35 492.80,199.48 493.00,203.29 493.20,205.53 493.40,208.93 493.60,212.41 493.80,215.90 494.00,218.22 494.20,220.81 494.40,222.92 494.60,224.00 494.80,226.75 495.00,227.62 495.20,230.13 495.40,230.38 495.60,233.47 495.80,234.05 496.00,236.86 496.20,238.71 496.40,240.76 496.60,242.28 496.80,244.45 497.00,245.68 497.20,248.23 497.40,249.81 497.60,251.94 497.80,252.35 498.00,254.83 498.20,255.47 498.40,257.84 498.60,259.16 498.80,261.53 499.00,262.89 499.20,265.22 499.40,264.54 499.60,266.82 499.80,265.68 500.00,268.40 500.20,267.74 500.40,270.02 500.60,267.64 500.80,270.93 501.00,270.36 501.20,272.38 501.40,271.24 501.60,273.75 501.80,272.37 502.00,274.70 502.20,273.13 502.40,276.00 502.60,273.92 502.80,276.12 503.00,273.88 503.20,276.42 503.40,273.92 503.60,276.51 503.80,274.17 504.00,276.71 504.20,274.73 504.40,276.90 504.60,274.99 504.80,276.90 505.00,275.69 505.20,276.90 505.40,275.88 505.60,276.90 505.80,275.27 506.00,276.90 506.20,276.04 506.40,276.90 506.60,276.57 506.80,276.90 507.00,276.71 507.20,276.90" fill="none" stroke="#bf0000" stroke-width="0.45" stroke-opacity="0.85"/>
<polygon points="491.10,211.02 492.00,186.00 492.90,211.02" fill="#bf0000" fill-opacity="0.9"/>
<line x1="497.5" y1="185.0" x2="497.5" y2="276.9" stroke="#f020f0" stroke-width="1.15"/>
<line x1="553.5" y1="185.0" x2="553.5" y2="276.9" stroke="#f020f0" stroke-width="1.15"/>
<line x1="497.5" y1="237.5" x2="553.5" y2="237.5" stroke="#f020f0" stroke-width="1.15"/>
<text x="498.7" y="235.0" font-size="7.0" fill="#f020f0" stroke="#f020f0" stroke-width="0.35" font-weight="bold" font-family="Liberation Sans, sans-serif" textLength="43.2" lengthAdjust="spacingAndGlyphs">R2: 3.189%</text>
<text x="0" y="0" font-size="10.4" font-weight="bold" text-anchor="middle" fill="#000" font-family="Liberation Sans, sans-serif" transform="translate(449.9,232.5) rotate(-90)">Count</text>
<text x="484" y="297.8" font-size="11.0" fill="#000" text-anchor="start" font-weight="bold" font-family="Liberation Sans, sans-serif" >7AAD-A</text>
<rect x="561" y="181" width="114" height="117.69999999999999" fill="#fff"/>
<rect x="561" y="181" width="1" height="117.69999999999999" fill="#a0a0a0"/>
<line x1="579.5" y1="185.5" x2="671.5" y2="185.5" stroke="#c8c8c8" stroke-width="1"/>
<line x1="582.5" y1="185.5" x2="582.5" y2="277.5" stroke="#c8c8c8" stroke-width="1"/>
<line x1="582.5" y1="277.5" x2="671.5" y2="277.5" stroke="#c8c8c8" stroke-width="1"/>
<line x1="671.5" y1="185.5" x2="671.5" y2="277.5" stroke="#c8c8c8" stroke-width="1"/>
<line x1="580.3" y1="272.56" x2="582.5" y2="272.56" stroke="#bdbdbd" stroke-width="0.6"/>
<line x1="580.3" y1="267.72" x2="582.5" y2="267.72" stroke="#bdbdbd" stroke-width="0.6"/>
<line x1="580.3" y1="262.88" x2="582.5" y2="262.88" stroke="#bdbdbd" stroke-width="0.6"/>
<line x1="580.3" y1="258.04" x2="582.5" y2="258.04" stroke="#bdbdbd" stroke-width="0.6"/>
<line x1="580.3" y1="253.20" x2="582.5" y2="253.20" stroke="#bdbdbd" stroke-width="0.6"/>
<line x1="580.3" y1="248.36" x2="582.5" y2="248.36" stroke="#bdbdbd" stroke-width="0.6"/>
<line x1="580.3" y1="243.52" x2="582.5" y2="243.52" stroke="#bdbdbd" stroke-width="0.6"/>
<line x1="580.3" y1="238.68" x2="582.5" y2="238.68" stroke="#bdbdbd" stroke-width="0.6"/>
<line x1="580.3" y1="233.84" x2="582.5" y2="233.84" stroke="#bdbdbd" stroke-width="0.6"/>
<line x1="580.3" y1="229.00" x2="582.5" y2="229.00" stroke="#bdbdbd" stroke-width="0.6"/>
<line x1="580.3" y1="224.16" x2="582.5" y2="224.16" stroke="#bdbdbd" stroke-width="0.6"/>
<line x1="580.3" y1="219.32" x2="582.5" y2="219.32" stroke="#bdbdbd" stroke-width="0.6"/>
<line x1="580.3" y1="214.48" x2="582.5" y2="214.48" stroke="#bdbdbd" stroke-width="0.6"/>
<line x1="580.3" y1="209.64" x2="582.5" y2="209.64" stroke="#bdbdbd" stroke-width="0.6"/>
<line x1="580.3" y1="204.80" x2="582.5" y2="204.80" stroke="#bdbdbd" stroke-width="0.6"/>
<line x1="580.3" y1="199.96" x2="582.5" y2="199.96" stroke="#bdbdbd" stroke-width="0.6"/>
<line x1="580.3" y1="195.12" x2="582.5" y2="195.12" stroke="#bdbdbd" stroke-width="0.6"/>
<line x1="580.3" y1="190.28" x2="582.5" y2="190.28" stroke="#bdbdbd" stroke-width="0.6"/>
<line x1="580.3" y1="185.44" x2="582.5" y2="185.44" stroke="#bdbdbd" stroke-width="0.6"/>
<line x1="579.3" y1="277.4" x2="582.3" y2="277.4" stroke="#b0b0b0" stroke-width="0.7"/>
<text x="578.1999999999999" y="279.60" font-size="6.4" fill="#000" text-anchor="end" font-weight="bold" font-family="Liberation Sans, sans-serif" stroke="#000" stroke-width="0.15">0</text>
<line x1="579.3" y1="253.2" x2="582.3" y2="253.2" stroke="#b0b0b0" stroke-width="0.7"/>
<text x="578.1999999999999" y="255.40" font-size="6.4" fill="#000" text-anchor="end" font-weight="bold" font-family="Liberation Sans, sans-serif" stroke="#000" stroke-width="0.15">10</text>
<line x1="579.3" y1="228.99999999999997" x2="582.3" y2="228.99999999999997" stroke="#b0b0b0" stroke-width="0.7"/>
<text x="578.1999999999999" y="231.20" font-size="6.4" fill="#000" text-anchor="end" font-weight="bold" font-family="Liberation Sans, sans-serif" stroke="#000" stroke-width="0.15">20</text>
<line x1="579.3" y1="204.79999999999998" x2="582.3" y2="204.79999999999998" stroke="#b0b0b0" stroke-width="0.7"/>
<text x="578.1999999999999" y="207.00" font-size="6.4" fill="#000" text-anchor="end" font-weight="bold" font-family="Liberation Sans, sans-serif" stroke="#000" stroke-width="0.15">30</text>
<line x1="579.3" y1="185.44" x2="582.3" y2="185.44" stroke="#b0b0b0" stroke-width="0.7"/>
<text x="578.1999999999999" y="187.64" font-size="6.4" fill="#000" text-anchor="end" font-weight="bold" font-family="Liberation Sans, sans-serif" stroke="#000" stroke-width="0.15">38</text>
<line x1="582.30" y1="277.4" x2="582.30" y2="279.9" stroke="#b0b0b0" stroke-width="0.7"/>
<line x1="586.78" y1="277.4" x2="586.78" y2="278.7" stroke="#c0c0c0" stroke-width="0.5"/>
<line x1="589.40" y1="277.4" x2="589.40" y2="278.7" stroke="#c0c0c0" stroke-width="0.5"/>
<line x1="591.26" y1="277.4" x2="591.26" y2="278.7" stroke="#c0c0c0" stroke-width="0.5"/>
<line x1="592.70" y1="277.4" x2="592.70" y2="278.7" stroke="#c0c0c0" stroke-width="0.5"/>
<line x1="593.88" y1="277.4" x2="593.88" y2="278.7" stroke="#c0c0c0" stroke-width="0.5"/>
<line x1="594.88" y1="277.4" x2="594.88" y2="278.7" stroke="#c0c0c0" stroke-width="0.5"/>
<line x1="595.74" y1="277.4" x2="595.74" y2="278.7" stroke="#c0c0c0" stroke-width="0.5"/>
<line x1="596.50" y1="277.4" x2="596.50" y2="278.7" stroke="#c0c0c0" stroke-width="0.5"/>
<text x="581.40" y="287.00" font-size="6.6" font-weight="bold" fill="#000" stroke="#000" stroke-width="0.12" text-anchor="middle" font-family="Liberation Sans, sans-serif">10<tspan dy="-2.5" font-size="4.3">0</tspan></text>
<line x1="597.18" y1="277.4" x2="597.18" y2="279.9" stroke="#b0b0b0" stroke-width="0.7"/>
<line x1="601.66" y1="277.4" x2="601.66" y2="278.7" stroke="#c0c0c0" stroke-width="0.5"/>
<line x1="604.28" y1="277.4" x2="604.28" y2="278.7" stroke="#c0c0c0" stroke-width="0.5"/>
<line x1="606.14" y1="277.4" x2="606.14" y2="278.7" stroke="#c0c0c0" stroke-width="0.5"/>
<line x1="607.59" y1="277.4" x2="607.59" y2="278.7" stroke="#c0c0c0" stroke-width="0.5"/>
<line x1="608.76" y1="277.4" x2="608.76" y2="278.7" stroke="#c0c0c0" stroke-width="0.5"/>
<line x1="609.76" y1="277.4" x2="609.76" y2="278.7" stroke="#c0c0c0" stroke-width="0.5"/>
<line x1="610.62" y1="277.4" x2="610.62" y2="278.7" stroke="#c0c0c0" stroke-width="0.5"/>
<line x1="611.39" y1="277.4" x2="611.39" y2="278.7" stroke="#c0c0c0" stroke-width="0.5"/>
<text x="596.28" y="287.00" font-size="6.6" font-weight="bold" fill="#000" stroke="#000" stroke-width="0.12" text-anchor="middle" font-family="Liberation Sans, sans-serif">10<tspan dy="-2.5" font-size="4.3">1</tspan></text>
<line x1="612.07" y1="277.4" x2="612.07" y2="279.9" stroke="#b0b0b0" stroke-width="0.7"/>
<line x1="616.55" y1="277.4" x2="616.55" y2="278.7" stroke="#c0c0c0" stroke-width="0.5"/>
<line x1="619.17" y1="277.4" x2="619.17" y2="278.7" stroke="#c0c0c0" stroke-width="0.5"/>
<line x1="621.03" y1="277.4" x2="621.03" y2="278.7" stroke="#c0c0c0" stroke-width="0.5"/>
<line x1="622.47" y1="277.4" x2="622.47" y2="278.7" stroke="#c0c0c0" stroke-width="0.5"/>
<line x1="623.65" y1="277.4" x2="623.65" y2="278.7" stroke="#c0c0c0" stroke-width="0.5"/>
<line x1="624.64" y1="277.4" x2="624.64" y2="278.7" stroke="#c0c0c0" stroke-width="0.5"/>
<line x1="625.51" y1="277.4" x2="625.51" y2="278.7" stroke="#c0c0c0" stroke-width="0.5"/>
<line x1="626.27" y1="277.4" x2="626.27" y2="278.7" stroke="#c0c0c0" stroke-width="0.5"/>
<text x="611.17" y="287.00" font-size="6.6" font-weight="bold" fill="#000" stroke="#000" stroke-width="0.12" text-anchor="middle" font-family="Liberation Sans, sans-serif">10<tspan dy="-2.5" font-size="4.3">2</tspan></text>
<line x1="626.95" y1="277.4" x2="626.95" y2="279.9" stroke="#b0b0b0" stroke-width="0.7"/>
<line x1="631.43" y1="277.4" x2="631.43" y2="278.7" stroke="#c0c0c0" stroke-width="0.5"/>
<line x1="634.05" y1="277.4" x2="634.05" y2="278.7" stroke="#c0c0c0" stroke-width="0.5"/>
<line x1="635.91" y1="277.4" x2="635.91" y2="278.7" stroke="#c0c0c0" stroke-width="0.5"/>
<line x1="637.35" y1="277.4" x2="637.35" y2="278.7" stroke="#c0c0c0" stroke-width="0.5"/>
<line x1="638.53" y1="277.4" x2="638.53" y2="278.7" stroke="#c0c0c0" stroke-width="0.5"/>
<line x1="639.53" y1="277.4" x2="639.53" y2="278.7" stroke="#c0c0c0" stroke-width="0.5"/>
<line x1="640.39" y1="277.4" x2="640.39" y2="278.7" stroke="#c0c0c0" stroke-width="0.5"/>
<line x1="641.15" y1="277.4" x2="641.15" y2="278.7" stroke="#c0c0c0" stroke-width="0.5"/>
<text x="626.05" y="287.00" font-size="6.6" font-weight="bold" fill="#000" stroke="#000" stroke-width="0.12" text-anchor="middle" font-family="Liberation Sans, sans-serif">10<tspan dy="-2.5" font-size="4.3">3</tspan></text>
<line x1="641.83" y1="277.4" x2="641.83" y2="279.9" stroke="#b0b0b0" stroke-width="0.7"/>
<line x1="646.31" y1="277.4" x2="646.31" y2="278.7" stroke="#c0c0c0" stroke-width="0.5"/>
<line x1="648.93" y1="277.4" x2="648.93" y2="278.7" stroke="#c0c0c0" stroke-width="0.5"/>
<line x1="650.79" y1="277.4" x2="650.79" y2="278.7" stroke="#c0c0c0" stroke-width="0.5"/>
<line x1="652.24" y1="277.4" x2="652.24" y2="278.7" stroke="#c0c0c0" stroke-width="0.5"/>
<line x1="653.41" y1="277.4" x2="653.41" y2="278.7" stroke="#c0c0c0" stroke-width="0.5"/>
<line x1="654.41" y1="277.4" x2="654.41" y2="278.7" stroke="#c0c0c0" stroke-width="0.5"/>
<line x1="655.27" y1="277.4" x2="655.27" y2="278.7" stroke="#c0c0c0" stroke-width="0.5"/>
<line x1="656.04" y1="277.4" x2="656.04" y2="278.7" stroke="#c0c0c0" stroke-width="0.5"/>
<text x="640.93" y="287.00" font-size="6.6" font-weight="bold" fill="#000" stroke="#000" stroke-width="0.12" text-anchor="middle" font-family="Liberation Sans, sans-serif">10<tspan dy="-2.5" font-size="4.3">4</tspan></text>
<line x1="656.72" y1="277.4" x2="656.72" y2="279.9" stroke="#b0b0b0" stroke-width="0.7"/>
<line x1="661.20" y1="277.4" x2="661.20" y2="278.7" stroke="#c0c0c0" stroke-width="0.5"/>
<line x1="663.82" y1="277.4" x2="663.82" y2="278.7" stroke="#c0c0c0" stroke-width="0.5"/>
<line x1="665.68" y1="277.4" x2="665.68" y2="278.7" stroke="#c0c0c0" stroke-width="0.5"/>
<line x1="667.12" y1="277.4" x2="667.12" y2="278.7" stroke="#c0c0c0" stroke-width="0.5"/>
<line x1="668.30" y1="277.4" x2="668.30" y2="278.7" stroke="#c0c0c0" stroke-width="0.5"/>
<line x1="669.29" y1="277.4" x2="669.29" y2="278.7" stroke="#c0c0c0" stroke-width="0.5"/>
<line x1="670.16" y1="277.4" x2="670.16" y2="278.7" stroke="#c0c0c0" stroke-width="0.5"/>
<line x1="670.92" y1="277.4" x2="670.92" y2="278.7" stroke="#c0c0c0" stroke-width="0.5"/>
<text x="655.82" y="287.00" font-size="6.6" font-weight="bold" fill="#000" stroke="#000" stroke-width="0.12" text-anchor="middle" font-family="Liberation Sans, sans-serif">10<tspan dy="-2.5" font-size="4.3">5</tspan></text>
<line x1="671.60" y1="277.4" x2="671.60" y2="279.9" stroke="#b0b0b0" stroke-width="0.7"/>
<text x="668.10" y="287.00" font-size="6.6" font-weight="bold" fill="#000" stroke="#000" stroke-width="0.12" text-anchor="middle" font-family="Liberation Sans, sans-serif">10<tspan dy="-2.5" font-size="4.3">6</tspan></text>
<polygon points="582.00,274.36 582.40,274.57 582.80,274.27 583.20,274.07 583.60,274.71 584.00,274.43 584.40,274.31 584.80,274.42 585.20,273.69 585.60,274.33 586.00,273.46 586.40,273.40 586.80,272.58 587.20,271.90 587.60,271.35 588.00,271.77 588.40,270.23 588.80,269.72 589.20,270.47 589.60,268.99 590.00,268.60 590.40,267.59 590.80,266.89 591.20,266.44 591.60,265.30 592.00,265.01 592.40,264.17 592.80,264.68 593.20,263.45 593.60,261.77 594.00,261.98 594.40,260.10 594.80,259.24 595.20,259.48 595.60,258.92 596.00,256.68 596.40,255.98 596.80,254.38 597.20,253.58 597.60,251.80 598.00,251.31 598.40,248.77 598.80,248.40 599.20,245.60 599.60,245.76 600.00,243.74 600.40,241.30 600.80,240.17 601.20,237.55 601.60,236.16 602.00,233.33 602.40,231.91 602.80,229.68 603.20,228.60 603.60,227.21 604.00,224.05 604.40,223.26 604.80,218.85 605.20,215.80 605.60,213.16 606.00,209.69 606.40,206.88 606.80,205.21 607.20,201.88 607.60,199.56 608.00,195.12 608.40,191.99 608.80,192.88 609.20,195.90 609.60,199.56 610.00,202.53 610.40,206.32 610.80,205.28 611.20,204.50 611.60,204.20 612.00,204.87 612.40,209.14 612.80,215.42 613.20,218.42 613.60,225.39 614.00,227.68 614.40,232.79 614.80,239.16 615.20,243.69 615.60,248.81 616.00,254.79 616.40,259.75 616.80,265.44 617.20,271.33 617.60,273.91 618.00,271.55 618.40,269.40 618.80,268.22 619.20,265.58 619.60,263.16 620.00,259.46 620.40,259.26 620.80,259.35 621.20,258.22 621.60,258.86 622.00,258.26 622.40,260.09 622.80,261.30 623.20,261.97 623.60,264.05 624.00,265.07 624.40,267.41 624.80,267.45 625.20,268.59 625.60,269.80 626.00,270.63 626.40,271.53 626.80,272.42 627.20,273.70 627.60,274.48 628.00,275.23 628.40,276.25 628.80,277.03 628.80,277.40 628.40,277.40 628.00,277.40 627.60,277.40 627.20,277.40 626.80,277.40 626.40,277.40 626.00,277.09 625.60,277.40 625.20,277.31 624.80,275.88 624.40,276.30 624.00,273.01 623.60,272.42 623.20,273.94 622.80,274.68 622.40,270.75 622.00,269.02 621.60,268.80 621.20,271.94 620.80,271.44 620.40,271.74 620.00,271.36 619.60,274.72 619.20,274.95 618.80,274.76 618.40,277.40 618.00,277.40 617.60,277.40 617.20,277.40 616.80,275.74 616.40,271.70 616.00,268.62 615.60,263.52 615.20,255.29 614.80,256.83 614.40,251.11 614.00,243.53 613.60,241.19 613.20,239.01 612.80,230.65 612.40,234.26 612.00,221.67 611.60,223.44 611.20,230.67 610.80,228.46 610.40,224.44 610.00,220.53 609.60,218.28 609.20,224.39 608.80,215.06 608.40,217.61 608.00,213.66 607.60,222.23 607.20,224.31 606.80,225.26 606.40,229.12 606.00,230.27 605.60,229.63 605.20,233.24 604.80,238.35 604.40,240.81 604.00,242.12 603.60,244.95 603.20,245.41 602.80,246.61 602.40,246.58 602.00,251.14 601.60,251.13 601.20,255.39 600.80,256.51 600.40,258.15 600.00,258.27 599.60,262.34 599.20,259.26 598.80,263.89 598.40,260.40 598.00,266.53 597.60,264.03 597.20,268.75 596.80,265.28 596.40,266.00 596.00,269.28 595.60,269.30 595.20,273.00 594.80,275.00 594.40,273.50 594.00,274.97 593.60,274.76 593.20,272.05 592.80,272.20 592.40,274.29 592.00,274.23 591.60,275.58 591.20,274.10 590.80,274.08 590.40,277.32 590.00,277.40 589.60,277.40 589.20,276.34 588.80,277.40 588.40,276.42 588.00,277.40 587.60,277.40 587.20,277.40 586.80,277.40 586.40,277.40 586.00,277.40 585.60,277.40 585.20,277.40 584.80,277.40 584.40,277.40 584.00,277.40 583.60,277.40 583.20,277.40 582.80,277.40 582.40,277.40 582.00,277.40" fill="#bf0000" fill-opacity="0.62"/>
<polyline points="582.00,274.30 582.29,277.40 582.47,274.20 582.71,277.40 582.96,277.40 583.25,277.40 583.39,274.56 583.63,277.40 583.80,273.92 584.08,277.40 584.27,275.14 584.55,276.07 584.79,274.01 585.08,277.40 585.38,274.46 585.60,277.08 585.80,277.40 586.10,277.40 586.39,274.50 586.64,277.40 586.85,277.40 587.12,275.84 587.32,275.24 587.48,275.30 587.64,271.31 587.94,277.40 588.21,272.54 588.48,277.05 588.68,272.14 588.84,273.87 589.03,270.50 589.28,273.42 589.45,275.71 589.72,277.32 589.99,268.47 590.21,276.41 590.48,267.75 590.70,274.45 590.84,267.21 591.10,274.61 591.31,269.26 591.53,271.86 591.68,271.31 591.95,272.32 592.22,272.42 592.47,274.89 592.77,263.20 593.07,271.62 593.34,269.64 593.49,272.61 593.64,269.25 593.83,270.19 594.01,270.66 594.25,268.42 594.51,260.15 594.79,270.42 595.05,263.83 595.36,269.74 595.57,261.99 595.80,264.12 595.99,265.17 596.27,269.53 596.52,258.09 596.72,266.22 596.97,266.30 597.23,261.61 597.41,251.99 597.68,261.13 597.88,250.75 598.10,264.63 598.28,257.89 598.55,261.09 598.78,248.16 599.04,258.70 599.34,249.32 599.53,260.22 599.77,245.07 600.02,248.86 600.19,255.13 600.40,256.43 600.57,243.76 600.74,255.31 600.98,240.92 601.18,245.68 601.35,245.28 601.54,241.59 601.74,238.44 602.04,245.14 602.24,250.67 602.50,244.36 602.71,230.95 602.86,243.09 603.11,228.25 603.32,235.60 603.56,228.35 603.81,243.39 604.02,226.81 604.16,232.56 604.40,235.16 604.56,241.61 604.85,220.75 605.08,234.77 605.27,217.87 605.53,229.16 605.74,218.93 605.89,226.66 606.07,209.70 606.30,227.59 606.52,211.62 606.77,219.70 607.08,202.32 607.21,219.28 607.46,201.89 607.67,211.75 607.84,211.58 608.12,206.96 608.36,196.79 608.51,213.19 608.74,218.16 609.03,219.42 609.21,196.21 609.48,206.65 609.73,201.07 609.99,208.23 610.14,221.47 610.36,219.59 610.66,218.44 610.84,224.18 611.04,208.79 611.22,215.44 611.41,205.61 611.57,227.10 611.77,211.88 612.05,225.14 612.21,228.78 612.50,231.86 612.69,228.39 612.94,219.13 613.14,228.32 613.36,241.42 613.63,238.09 613.94,238.76 614.23,230.37 614.50,239.70 614.72,240.54 614.87,253.36 615.14,243.31 615.31,259.52 615.54,247.77 615.72,265.19 615.91,253.88 616.12,269.42 616.39,261.42 616.64,264.84 616.78,266.18 617.03,271.41 617.17,275.99 617.33,273.72 617.48,274.05 617.66,277.40 617.91,272.44 618.13,275.19 618.37,269.18 618.61,267.76 618.90,266.30 619.13,269.58 619.34,264.08 619.59,274.19 619.87,274.05 620.08,270.10 620.27,260.20 620.49,273.38 620.64,266.93 620.83,269.94 621.00,265.99 621.22,266.40 621.43,257.98 621.58,271.96 621.73,260.07 621.98,260.34 622.28,259.11 622.58,269.28 622.81,265.76 622.96,271.42 623.22,270.58 623.48,273.68 623.64,265.43 623.86,266.52 624.13,265.14 624.36,271.33 624.52,275.61 624.76,275.57 625.00,271.07 625.29,271.04 625.48,269.67 625.72,275.15 626.01,270.95 626.19,277.40 626.45,272.94 626.65,277.40 626.81,276.07 626.98,277.40 627.13,277.40 627.41,274.76 627.57,277.40 627.85,277.40 628.12,277.04 628.29,277.40 628.50,276.37 628.78,277.40 628.96,277.40" fill="none" stroke="#b80000" stroke-width="0.5" stroke-opacity="0.95"/>
<polyline points="582.00,275.09 582.24,277.40 582.65,274.21 582.89,277.40 583.31,277.40 583.49,277.40 583.70,274.18 583.91,277.40 584.33,277.40 584.60,277.40 584.95,273.67 585.34,276.84 585.76,273.57 586.15,277.40 586.46,273.02 586.75,277.40 587.07,277.40 587.38,277.40 587.59,275.49 587.91,277.40 588.17,272.27 588.55,274.27 588.82,275.82 589.15,275.38 589.34,274.19 589.62,273.05 589.89,268.42 590.27,276.15 590.68,271.38 590.90,273.04 591.32,265.76 591.58,269.58 591.80,265.76 592.13,267.41 592.52,265.94 592.74,267.32 593.05,264.31 593.35,266.68 593.61,265.30 593.81,271.57 594.19,265.63 594.41,271.68 594.61,259.69 594.79,269.69 595.01,259.47 595.22,271.77 595.43,263.93 595.81,266.13 596.13,257.01 596.50,266.62 596.70,261.17 596.92,263.54 597.14,256.15 597.48,264.61 597.74,251.15 598.02,265.01 598.34,255.04 598.70,260.37 599.11,260.89 599.46,259.53 599.68,244.66 600.03,255.31 600.42,251.09 600.68,246.82 601.01,238.16 601.31,246.34 601.59,243.33 601.92,248.82 602.12,248.32 602.46,249.98 602.79,237.95 603.18,245.41 603.52,226.12 603.70,243.01 604.09,226.39 604.32,235.98 604.70,231.53 604.91,227.44 605.14,228.37 605.38,235.77 605.66,212.90 605.94,218.93 606.33,207.03 606.61,219.99 606.80,204.56 607.22,223.63 607.50,217.51 607.90,219.06 608.25,200.54 608.55,213.21 608.88,218.24 609.10,219.85 609.46,203.05 609.84,214.71 610.12,210.93 610.53,215.27 610.91,214.08 611.32,217.29 611.65,223.56 612.05,225.44 612.43,218.84 612.74,223.04 613.05,237.97 613.45,225.48 613.71,225.13 614.09,237.16 614.45,234.05 614.71,255.17 614.92,245.67 615.17,257.85 615.36,253.08 615.61,264.14 615.87,258.78 616.05,268.96 616.38,271.50 616.74,267.00 617.10,270.18 617.33,277.40 617.67,274.07 617.87,277.40 618.06,271.37 618.25,273.30 618.61,268.27 619.03,271.03 619.40,269.97 619.73,272.31 619.95,269.68 620.35,269.69 620.57,258.82 620.82,273.10 621.07,259.45 621.38,260.78 621.75,266.71 622.00,260.06 622.40,268.60 622.76,266.98 623.17,267.47 623.36,275.81 623.71,263.95 624.10,273.73 624.43,266.10 624.66,275.69 624.85,267.92 625.04,275.30 625.26,274.28 625.54,277.11 625.94,277.40 626.17,275.67 626.54,272.57 626.95,276.69 627.28,273.90 627.63,277.36 627.91,277.40 628.29,277.40 628.51,276.49 628.87,277.40" fill="none" stroke="#c80000" stroke-width="0.45" stroke-opacity="0.9"/>
<polyline points="582.00,277.40 582.39,277.40 582.70,274.87 583.24,277.06 583.85,274.16 584.33,277.40 584.72,276.42 585.18,274.96 585.52,276.20 586.15,277.40 586.80,275.49 587.41,277.40 587.95,273.08 588.31,274.34 588.64,270.00 589.10,274.03 589.63,274.84 590.03,276.90 590.67,267.28 591.20,270.64 591.53,265.92 591.91,265.72 592.22,272.01 592.87,275.12 593.20,262.43 593.84,270.16 594.28,267.53 594.79,267.40 595.15,258.15 595.73,270.49 596.05,256.31 596.56,261.86 597.06,256.63 597.46,256.95 597.93,260.65 598.28,260.71 598.91,251.96 599.35,261.00 599.96,259.58 600.38,252.94 600.86,251.47 601.41,250.02 601.91,249.01 602.35,238.74 602.73,231.03 603.06,248.43 603.59,239.08 604.07,238.77 604.46,237.94 604.93,231.58 605.52,230.55 606.22,224.62 606.69,221.08 607.16,211.91 607.65,199.08 608.06,216.74 608.49,200.59 608.92,202.41 609.53,213.98 610.11,222.14 610.48,209.21 611.11,225.53 611.65,213.86 612.02,210.31 612.66,211.86 613.06,230.79 613.64,233.54 614.28,250.23 614.69,237.68 615.04,251.30 615.38,261.00 615.91,263.12 616.24,269.42 616.63,274.32 617.02,268.41 617.37,277.40 617.78,274.85 618.37,273.27 618.72,269.53 619.18,272.21 619.63,261.82 619.98,271.94 620.53,265.75 621.09,268.88 621.47,270.32 621.98,267.53 622.38,260.96 623.08,270.53 623.70,263.70 624.24,271.14 624.63,267.71 625.09,275.73 625.55,275.87 625.92,277.40 626.39,276.20 626.85,276.03 627.51,276.44 628.09,277.40 628.68,277.40" fill="none" stroke="#f0b0b0" stroke-width="0.4" stroke-opacity="0.55"/>
<polyline points="582.00,273.82 582.20,276.36 582.40,274.46 582.60,276.57 582.80,273.90 583.00,276.27 583.20,272.88 583.40,276.07 583.60,274.08 583.80,276.71 584.00,273.34 584.20,276.43 584.40,273.74 584.60,276.31 584.80,274.17 585.00,276.42 585.20,273.31 585.40,275.69 585.60,274.20 585.80,276.33 586.00,273.28 586.20,275.46 586.40,273.08 586.60,275.40 586.80,272.38 587.00,274.58 587.20,271.31 587.40,273.90 587.60,270.86 587.80,273.35 588.00,271.33 588.20,273.77 588.40,269.69 588.60,272.23 588.80,269.60 589.00,271.72 589.20,270.27 589.40,272.47 589.60,268.98 589.80,270.99 590.00,267.31 590.20,270.60 590.40,267.44 590.60,269.59 590.80,266.07 591.00,268.89 591.20,265.25 591.40,268.44 591.60,264.85 591.80,267.30 592.00,264.47 592.20,267.01 592.40,263.96 592.60,266.17 592.80,264.65 593.00,266.68 593.20,262.42 593.40,265.45 593.60,261.24 593.80,263.77 594.00,261.83 594.20,263.98 594.40,259.82 594.60,262.10 594.80,259.20 595.00,261.24 595.20,258.73 595.40,261.48 595.60,258.61 595.80,260.92 596.00,256.62 596.20,258.68 596.40,255.24 596.60,257.98 596.80,254.12 597.00,256.38 597.20,253.26 597.40,255.58 597.60,250.55 597.80,253.80 598.00,250.31 598.20,253.31 598.40,248.25 598.60,250.77 598.80,248.13 599.00,250.40 599.20,245.04 599.40,247.60 599.60,245.15 599.80,247.76 600.00,242.84 600.20,245.74 600.40,241.08 600.60,243.30 600.80,240.09 601.00,242.17 601.20,237.22 601.40,239.55 601.60,236.11 601.80,238.16 602.00,233.13 602.20,235.33 602.40,231.90 602.60,233.91 602.80,229.20 603.00,231.68 603.20,228.15 603.40,230.60 603.60,226.88 603.80,229.21 604.00,224.05 604.20,226.05 604.40,222.64 604.60,225.26 604.80,218.41 605.00,220.85 605.20,215.06 605.40,217.80 605.60,213.07 605.80,215.16 606.00,208.81 606.20,211.69 606.40,206.61 606.60,208.88 606.80,205.07 607.00,207.21 607.20,201.76 607.40,203.88 607.60,198.92 607.80,201.56 608.00,194.26 608.20,197.12 608.40,191.72 608.60,193.99 608.80,192.45 609.00,194.88 609.20,195.46 609.40,197.90 609.60,198.83 609.80,201.56 610.00,202.12 610.20,204.53 610.40,206.13 610.60,208.32 610.80,204.54 611.00,207.28 611.20,204.49 611.40,206.50 611.60,204.10 611.80,206.20 612.00,204.50 612.20,206.87 612.40,208.81 612.60,211.14 612.80,214.09 613.00,217.42 613.20,218.29 613.40,220.42 613.60,224.97 613.80,227.39 614.00,227.42 614.20,229.68 614.40,232.47 614.60,234.79 614.80,239.06 615.00,241.16 615.20,243.08 615.40,245.69 615.60,248.74 615.80,250.81 616.00,253.91 616.20,256.79 616.40,259.72 616.60,261.75 616.80,264.97 617.00,267.44 617.20,271.01 617.40,273.33 617.60,273.73 617.80,275.91 618.00,271.30 618.20,273.55 618.40,269.32 618.60,271.40 618.80,267.33 619.00,270.22 619.20,265.55 619.40,267.58 619.60,262.51 619.80,265.16 620.00,259.25 620.20,261.46 620.40,258.62 620.60,261.26 620.80,258.82 621.00,261.35 621.20,258.01 621.40,260.22 621.60,258.28 621.80,260.86 622.00,257.78 622.20,260.26 622.40,259.86 622.60,262.09 622.80,260.97 623.00,263.30 623.20,261.85 623.40,263.97 623.60,263.79 623.80,266.05 624.00,264.75 624.20,267.07 624.40,267.28 624.60,269.41 624.80,267.21 625.00,269.45 625.20,268.29 625.40,270.59 625.60,269.53 625.80,271.80 626.00,269.71 626.20,272.63 626.40,271.47 626.60,273.53 626.80,271.43 627.00,274.42 627.20,273.68 627.40,275.70 627.60,274.36 627.80,276.48 628.00,274.59 628.20,277.23 628.40,276.21 628.60,277.40 628.80,276.86 629.00,277.40" fill="none" stroke="#bf0000" stroke-width="0.45" stroke-opacity="0.85"/>
<polygon points="607.60,213.56 608.50,190.00 609.40,213.56" fill="#bf0000" fill-opacity="0.9"/>
<polygon points="621.10,270.10 622.00,257.50 622.90,270.10" fill="#bf0000" fill-opacity="0.9"/>
<line x1="617.5" y1="185.3" x2="617.5" y2="277.4" stroke="#f020f0" stroke-width="1.15"/>
<line x1="671.5" y1="185.3" x2="671.5" y2="277.4" stroke="#f020f0" stroke-width="1.15"/>
<line x1="617.5" y1="237.5" x2="671.5" y2="237.5" stroke="#f020f0" stroke-width="1.15"/>
<text x="618.2" y="235.0" font-size="7.0" fill="#f020f0" stroke="#f020f0" stroke-width="0.35" font-weight="bold" font-family="Liberation Sans, sans-serif" textLength="42.5" lengthAdjust="spacingAndGlyphs">R2: 6.161%</text>
<text x="0" y="0" font-size="10.4" font-weight="bold" text-anchor="middle" fill="#000" font-family="Liberation Sans, sans-serif" transform="translate(569.9,229.2) rotate(-90)">Count</text>
<text x="607" y="297.8" font-size="11.0" fill="#000" text-anchor="start" font-weight="bold" font-family="Liberation Sans, sans-serif" >7AAD-A</text>
<rect x="84" y="301" width="293" height="237.7" fill="#fff"/>
<rect x="84" y="301" width="293" height="1" fill="#e4e4e4"/>
<line x1="132.9" y1="322.29999999999995" x2="132.9" y2="465.0" stroke="#111" stroke-width="1.6"/>
<line x1="132.1" y1="465.0" x2="346.6" y2="465.0" stroke="#111" stroke-width="1.6"/>
<line x1="129.6" y1="465.00" x2="132.9" y2="465.00" stroke="#111" stroke-width="1.4"/>
<text x="129.4" y="468.60" font-size="10.2" fill="#111" stroke="#111" stroke-width="0.28" text-anchor="end" font-weight="bold" font-family="Liberation Sans, sans-serif" >0</text>
<line x1="129.6" y1="441.30" x2="132.9" y2="441.30" stroke="#111" stroke-width="1.4"/>
<text x="129.4" y="444.90" font-size="10.2" fill="#111" stroke="#111" stroke-width="0.28" text-anchor="end" font-weight="bold" font-family="Liberation Sans, sans-serif" >10</text>
<line x1="129.6" y1="417.60" x2="132.9" y2="417.60" stroke="#111" stroke-width="1.4"/>
<text x="129.4" y="421.20" font-size="10.2" fill="#111" stroke="#111" stroke-width="0.28" text-anchor="end" font-weight="bold" font-family="Liberation Sans, sans-serif" >20</text>
<line x1="129.6" y1="393.90" x2="132.9" y2="393.90" stroke="#111" stroke-width="1.4"/>
<text x="129.4" y="397.50" font-size="10.2" fill="#111" stroke="#111" stroke-width="0.28" text-anchor="end" font-weight="bold" font-family="Liberation Sans, sans-serif" >30</text>
<line x1="129.6" y1="370.20" x2="132.9" y2="370.20" stroke="#111" stroke-width="1.4"/>
<text x="129.4" y="373.80" font-size="10.2" fill="#111" stroke="#111" stroke-width="0.28" text-anchor="end" font-weight="bold" font-family="Liberation Sans, sans-serif" >40</text>
<line x1="129.6" y1="346.50" x2="132.9" y2="346.50" stroke="#111" stroke-width="1.4"/>
<text x="129.4" y="350.10" font-size="10.2" fill="#111" stroke="#111" stroke-width="0.28" text-anchor="end" font-weight="bold" font-family="Liberation Sans, sans-serif" >50</text>
<line x1="129.6" y1="322.80" x2="132.9" y2="322.80" stroke="#111" stroke-width="1.4"/>
<text x="129.4" y="326.40" font-size="10.2" fill="#111" stroke="#111" stroke-width="0.28" text-anchor="end" font-weight="bold" font-family="Liberation Sans, sans-serif" >60</text>
<text x="0" y="0" font-size="10.7" font-weight="bold" text-anchor="middle" fill="#111" stroke="#111" stroke-width="0.28" font-family="Liberation Sans, sans-serif" transform="translate(100.4,391.5) rotate(-90)">Normalized</text>
<text x="0" y="0" font-size="10.7" font-weight="bold" text-anchor="middle" fill="#111" stroke="#111" stroke-width="0.28" font-family="Liberation Sans, sans-serif" transform="translate(113.6,391.5) rotate(-90)">Annexin V or 7-AAD positive (%)</text>
<line x1="146.95" y1="344.60" x2="146.95" y2="328.25" stroke="#111" stroke-width="1.4"/>
<line x1="143.65" y1="328.25" x2="150.25" y2="328.25" stroke="#111" stroke-width="1.4"/>
<rect x="140.3" y="344.60" width="13.30" height="120.40" fill="#000"/>
<line x1="167.55" y1="449.36" x2="167.55" y2="434.19" stroke="#111" stroke-width="1.4"/>
<line x1="164.25" y1="434.19" x2="170.85" y2="434.19" stroke="#111" stroke-width="1.4"/>
<rect x="161.10" y="449.96" width="12.30" height="15.04" fill="#999" stroke="#111" stroke-width="1.2"/>
<line x1="201.65" y1="441.06" x2="201.65" y2="432.29" stroke="#111" stroke-width="1.4"/>
<line x1="198.35" y1="432.29" x2="204.95" y2="432.29" stroke="#111" stroke-width="1.4"/>
<rect x="194.9" y="441.06" width="13.50" height="23.94" fill="#000"/>
<line x1="222.40" y1="446.51" x2="222.40" y2="442.49" stroke="#111" stroke-width="1.4"/>
<line x1="219.10" y1="442.49" x2="225.70" y2="442.49" stroke="#111" stroke-width="1.4"/>
<rect x="216.10" y="447.11" width="12.00" height="17.89" fill="#999" stroke="#111" stroke-width="1.2"/>
<line x1="256.55" y1="425.66" x2="256.55" y2="419.97" stroke="#111" stroke-width="1.4"/>
<line x1="253.25" y1="419.97" x2="259.85" y2="419.97" stroke="#111" stroke-width="1.4"/>
<rect x="249.9" y="425.66" width="13.30" height="39.34" fill="#000"/>
<line x1="277.05" y1="453.86" x2="277.05" y2="443.67" stroke="#111" stroke-width="1.4"/>
<line x1="273.75" y1="443.67" x2="280.35" y2="443.67" stroke="#111" stroke-width="1.4"/>
<rect x="270.60" y="454.46" width="12.30" height="10.54" fill="#999" stroke="#111" stroke-width="1.2"/>
<line x1="311.70" y1="421.87" x2="311.70" y2="409.07" stroke="#111" stroke-width="1.4"/>
<line x1="308.40" y1="409.07" x2="315.00" y2="409.07" stroke="#111" stroke-width="1.4"/>
<rect x="305.1" y="421.87" width="13.20" height="43.13" fill="#000"/>
<line x1="332.15" y1="445.09" x2="332.15" y2="444.62" stroke="#111" stroke-width="1.4"/>
<line x1="328.85" y1="444.62" x2="335.45" y2="444.62" stroke="#111" stroke-width="1.4"/>
<rect x="325.70" y="445.69" width="12.30" height="19.31" fill="#999" stroke="#111" stroke-width="1.2"/>
<line x1="157.2" y1="465.0" x2="157.2" y2="468.3" stroke="#111" stroke-width="1.4"/>
<line x1="211.9" y1="465.0" x2="211.9" y2="468.3" stroke="#111" stroke-width="1.4"/>
<line x1="266.9" y1="465.0" x2="266.9" y2="468.3" stroke="#111" stroke-width="1.4"/>
<line x1="321.7" y1="465.0" x2="321.7" y2="468.3" stroke="#111" stroke-width="1.4"/>
<text x="157.2" y="478.2" font-size="10.4" fill="#111" stroke="#111" stroke-width="0.28" text-anchor="middle" font-weight="bold" font-family="Liberation Sans, sans-serif" >PEI</text>
<text x="211.8" y="478.2" font-size="10.4" fill="#111" stroke="#111" stroke-width="0.28" text-anchor="middle" font-weight="bold" font-family="Liberation Sans, sans-serif" >1</text>
<text x="267.2" y="478.2" font-size="10.4" fill="#111" stroke="#111" stroke-width="0.28" text-anchor="middle" font-weight="bold" font-family="Liberation Sans, sans-serif" >1.5</text>
<text x="322.0" y="478.2" font-size="10.4" fill="#111" stroke="#111" stroke-width="0.28" text-anchor="middle" font-weight="bold" font-family="Liberation Sans, sans-serif" >2</text>
<text x="146.6" y="326.8" font-size="14.6" fill="#111" stroke="#111" stroke-width="0.28" text-anchor="middle" font-weight="bold" font-family="Liberation Sans, sans-serif" >**</text>
<rect x="176.5" y="332.7" width="9.2" height="8.9" fill="#000"/>
<text x="191.2" y="341.0" font-size="10.7" fill="#111" stroke="#111" stroke-width="0.28" text-anchor="start" font-weight="bold" font-family="Liberation Sans, sans-serif" >Annexin V</text>
<rect x="263.8" y="333.3" width="7.8" height="7.8" fill="#999" stroke="#111" stroke-width="1.1"/>
<text x="277.4" y="341.0" font-size="10.7" fill="#111" stroke="#111" stroke-width="0.28" text-anchor="start" font-weight="bold" font-family="Liberation Sans, sans-serif" >7-AAD</text>
<polyline points="204.1,398.9 204.1,380 309.7,380 309.7,398.9" fill="none" stroke="#111" stroke-width="1.4"/>
<line x1="256.4" y1="380" x2="256.4" y2="396.5" stroke="#111" stroke-width="1.4"/>
<text x="255.4" y="374.5" font-size="14.2" fill="#111" stroke="#111" stroke-width="0.28" text-anchor="middle" font-weight="bold" font-family="Liberation Sans, sans-serif" >ns</text>
<polyline points="168,419.5 168,404.4 331.4,404.4 331.4,421.4" fill="none" stroke="#999" stroke-width="1.4"/>
<line x1="226.3" y1="404.4" x2="226.3" y2="419.5" stroke="#999" stroke-width="1.4"/>
<line x1="277.4" y1="404.4" x2="277.4" y2="421.4" stroke="#999" stroke-width="1.4"/>
<text x="241.0" y="401.4" font-size="14.6" fill="#999" stroke="#999" stroke-width="0.28" text-anchor="middle" font-weight="normal" font-family="Liberation Sans, sans-serif" >ns</text>
<line x1="212.9" y1="489.4" x2="327.4" y2="489.4" stroke="#111" stroke-width="1.5"/>
<text x="279.5" y="503.6" font-size="10.6" fill="#111" stroke="#111" stroke-width="0.28" text-anchor="middle" font-weight="bold" font-family="Liberation Sans, sans-serif" >pIFN-β1 (μg/well) in</text>
<text x="266.3" y="518.3" font-size="10.6" fill="#111" stroke="#111" stroke-width="0.28" text-anchor="middle" font-weight="bold" font-family="Liberation Sans, sans-serif" >PMPC-DB/pIFN-β1</text>
<text x="268.1" y="530.2" font-size="10.6" fill="#111" stroke="#111" stroke-width="0.28" text-anchor="middle" font-weight="bold" font-family="Liberation Sans, sans-serif" xml:space="preserve">at  N/P 8</text>
</g></svg>
</body></html>
